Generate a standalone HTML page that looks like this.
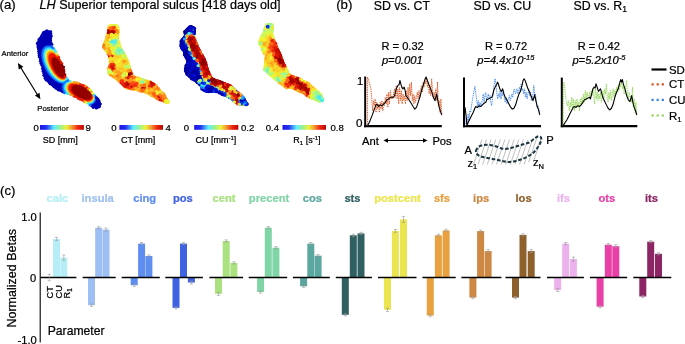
<!DOCTYPE html>
<html><head><meta charset="utf-8"><style>
html,body{margin:0;padding:0;background:#fff;}
svg{display:block;font-family:"Liberation Sans", sans-serif;will-change:transform;}
text{stroke-width:0.22px;}
</style></head><body>
<svg width="685" height="344" viewBox="0 0 685 344">
<rect width="685" height="344" fill="#fff"/>
<text x="-0.4" y="8.9" font-size="13.2" fill="#000" stroke="#000" font-weight="normal" font-style="normal" text-anchor="start" >(a)</text>
<text stroke="#000" x="39.6" y="9.1" font-size="12.6"><tspan font-style="italic">LH</tspan> Superior temporal sulcus [418 days old]</text>
<text x="336.2" y="9.1" font-size="13.2" fill="#000" stroke="#000" font-weight="normal" font-style="normal" text-anchor="start" >(b)</text>
<text x="373.8" y="9.8" font-size="12.35" fill="#000" stroke="#000" font-weight="normal" font-style="normal" text-anchor="start" >SD vs. CT</text>
<text x="473.6" y="9.8" font-size="12.35" fill="#000" stroke="#000" font-weight="normal" font-style="normal" text-anchor="start" >SD vs. CU</text>
<text stroke="#000" x="573.5" y="9.8" font-size="12.35">SD vs. R<tspan font-size="8.5" dy="2.5">1</tspan></text>
<text x="381.5" y="50.2" font-size="11.1" fill="#000" stroke="#000" font-weight="normal" font-style="normal" text-anchor="start" >R = 0.32</text>
<text x="381.9" y="63.7" font-size="11.2" fill="#000" stroke="#000" font-weight="normal" font-style="italic" text-anchor="start" >p=0.001</text>
<text x="484.9" y="50.2" font-size="11.1" fill="#000" stroke="#000" font-weight="normal" font-style="normal" text-anchor="start" >R = 0.72</text>
<text stroke="#000" x="477.2" y="63.7" font-size="11.2" font-style="italic">p=4.4x10<tspan font-size="7.5" dy="-4">-15</tspan></text>
<text x="577.7" y="50.2" font-size="11.1" fill="#000" stroke="#000" font-weight="normal" font-style="normal" text-anchor="start" >R = 0.42</text>
<text stroke="#000" x="572.4" y="63.7" font-size="11.2" font-style="italic">p=5.2x10<tspan font-size="7.5" dy="-4">-5</tspan></text>
<line x1="365.2" y1="76.5" x2="365.2" y2="127.2" stroke="#000" stroke-width="2"/>
<line x1="364.2" y1="126.2" x2="441.8" y2="126.2" stroke="#000" stroke-width="2.2"/>
<text x="356.9" y="84.6" font-size="11.2" fill="#000" stroke="#000" font-weight="normal" font-style="normal" text-anchor="start" >1</text>
<text x="356.0" y="127.4" font-size="11.7" fill="#000" stroke="#000" font-weight="normal" font-style="normal" text-anchor="start" >0</text>
<polyline points="367.58,125.60 367.58,77.06 369.27,82.11 370.96,88.85 371.80,98.97 372.64,110.76 373.48,100.65 374.33,105.71 375.17,98.97 376.01,112.45 376.85,102.34 377.70,109.08 378.54,104.02 379.38,112.45 380.22,102.34 381.07,109.08 381.91,100.65 382.75,110.76 383.60,102.34 384.44,105.71 385.28,97.28 386.12,104.02 386.97,93.91 387.81,107.39 388.65,92.22 389.49,104.02 390.34,90.54 391.18,98.97 392.02,95.60 392.87,98.97 393.71,92.22 394.55,88.85 395.39,97.28 396.24,85.48 397.08,98.97 397.92,88.85 398.76,104.02 399.61,87.17 400.45,100.65 401.29,90.54 402.13,104.02 402.98,93.91 403.82,100.65 404.66,95.60 405.51,104.02 406.35,90.54 407.19,100.65 408.03,87.17 408.88,98.97 409.72,83.80 410.56,95.60 411.40,82.11 412.25,100.65 413.09,93.91 413.93,104.02 414.78,95.60 415.62,102.34 416.46,97.28 417.30,92.22 418.15,98.97 418.99,90.54 419.83,97.28 420.67,88.85 421.52,85.48 422.36,92.22 423.20,82.11 424.04,87.17 424.89,80.43 425.73,83.80 426.57,78.74 427.42,87.17 428.26,82.11 429.10,93.91 429.94,85.48 430.79,95.60 431.63,78.74 432.47,88.85 433.31,97.28 434.16,92.22 435.00,98.97 435.84,88.85 436.69,100.65 437.53,82.11 438.37,105.71 439.21,100.65 440.06,112.45 440.90,98.97 441.74,114.13" fill="none" stroke="#d9541e" stroke-width="1" stroke-dasharray="1 0.8"/>
<polyline points="367.58,125.60 369.27,122.56 370.96,118.35 372.64,114.13 374.33,109.08 376.01,104.87 376.85,104.02 378.54,106.55 380.22,104.87 381.91,105.71 383.60,104.02 385.28,102.34 386.97,99.81 388.65,98.97 390.34,97.28 392.02,97.28 393.71,97.28 394.55,95.60 396.24,88.85 397.92,85.48 399.10,84.64 399.94,80.43 400.79,83.80 401.80,87.17 402.98,88.85 404.16,87.17 405.17,90.54 405.84,95.60 407.19,97.28 408.88,99.81 410.56,102.34 413.09,106.55 414.78,109.08 416.46,107.39 418.15,102.34 419.83,97.28 421.52,90.54 423.20,85.48 424.89,79.58 426.07,77.06 427.08,79.58 428.26,82.96 429.94,87.17 431.63,91.38 433.31,97.28 435.00,100.65 436.69,93.91 437.87,100.65 439.21,107.39 440.56,111.61 441.74,114.98" fill="none" stroke="#000" stroke-width="1.1" stroke-linejoin="round"/>
<line x1="464.0" y1="77.6" x2="464.0" y2="127.2" stroke="#000" stroke-width="2"/>
<line x1="463.0" y1="126.2" x2="541.0" y2="126.2" stroke="#000" stroke-width="2.2"/>
<polyline points="465.58,125.93 466.43,117.51 467.27,122.56 468.11,114.13 468.96,120.88 469.80,110.76 470.64,112.45 471.48,105.71 472.33,100.65 473.17,95.60 474.01,90.54 474.85,86.33 475.70,92.22 476.54,98.97 477.38,105.71 478.22,100.65 479.07,108.24 479.91,102.34 480.75,105.71 481.60,104.02 482.44,98.97 483.28,93.91 484.12,102.34 484.97,95.60 485.81,92.22 486.65,100.65 487.49,97.28 488.34,93.91 489.18,98.97 490.02,95.60 490.87,102.34 491.71,105.71 492.55,97.28 493.39,92.22 494.24,83.80 495.08,78.74 495.92,83.80 496.76,92.22 497.61,98.97 498.45,93.91 499.29,97.28 500.13,90.54 500.98,98.97 501.82,92.22 502.66,95.60 503.51,90.54 504.35,97.28 505.19,102.34 506.03,97.28 506.88,104.02 507.72,100.65 508.56,98.97 509.40,95.60 510.25,100.65 511.09,97.28 511.93,93.91 512.78,97.28 513.62,90.54 514.46,88.85 515.30,93.91 516.15,92.22 516.99,88.85 517.83,93.91 518.67,90.54 519.52,87.17 520.36,92.22 521.20,83.80 522.04,90.54 522.89,88.85 523.73,93.91 524.57,88.85 525.42,97.28 526.26,92.22 527.10,98.97 527.94,93.91 528.79,88.85 529.63,95.60 530.47,92.22 531.31,100.65 532.16,97.28 533.00,93.91 533.84,85.48 534.69,95.60 535.53,93.91 536.37,102.34 537.21,107.39 538.06,105.71 538.90,109.08 539.74,113.29" fill="none" stroke="#3b82e6" stroke-width="1" stroke-dasharray="1 0.8"/>
<polyline points="465.08,107.39 466.09,115.82 466.93,125.60 468.11,122.56 469.80,119.19 471.48,115.82 473.17,112.45 474.85,108.24 475.70,106.55 477.38,107.39 479.07,105.71 480.75,106.55 482.44,104.87 484.12,103.18 485.81,102.34 486.65,99.81 488.34,98.97 490.02,98.12 491.71,97.28 492.55,95.60 493.73,90.54 495.08,87.17 496.43,84.64 497.61,82.11 498.79,85.48 500.13,89.70 501.48,91.38 502.66,88.85 503.84,93.91 505.19,97.28 506.88,99.81 508.56,103.18 510.25,106.55 512.27,109.08 513.96,108.24 515.64,104.87 517.33,98.97 519.01,93.91 520.70,90.54 522.04,85.48 523.06,80.43 524.07,78.74 525.08,80.43 526.26,83.80 527.94,88.85 529.63,92.22 531.31,96.44 533.00,100.65 534.69,94.75 535.87,100.65 537.21,106.55 538.56,109.92 539.74,114.98" fill="none" stroke="#000" stroke-width="1.1" stroke-linejoin="round"/>
<line x1="561.8" y1="77.6" x2="561.8" y2="127.2" stroke="#000" stroke-width="2"/>
<line x1="560.8" y1="126.2" x2="637.3" y2="126.2" stroke="#000" stroke-width="2.2"/>
<polyline points="563.09,125.60 563.76,82.11 564.78,88.85 565.96,98.97 567.13,105.71 568.48,100.65 569.33,110.76 570.17,102.34 571.01,107.39 571.85,97.28 572.70,109.08 573.54,98.97 574.38,110.76 575.22,100.65 576.07,107.39 576.91,98.97 577.75,105.71 578.60,102.34 579.44,110.76 580.28,98.97 581.12,105.71 581.97,97.28 582.81,104.02 583.65,93.91 584.49,102.34 585.34,90.54 586.18,100.65 587.02,92.22 587.87,98.97 588.71,95.60 589.55,92.22 590.39,97.28 591.24,90.54 592.08,95.60 592.92,88.85 593.76,93.91 594.61,104.02 595.45,85.48 596.29,98.97 597.13,92.22 597.98,100.65 598.82,93.91 599.66,98.97 600.51,92.22 601.35,102.34 602.19,97.28 603.03,90.54 603.88,98.97 604.72,88.85 605.56,93.91 606.40,83.80 607.25,97.28 608.09,102.34 608.93,92.22 609.78,98.97 610.62,90.54 611.46,100.65 612.30,93.91 613.15,88.85 613.99,97.28 614.83,90.54 615.67,93.91 616.52,87.17 617.36,92.22 618.20,85.48 619.04,90.54 619.89,83.80 620.73,87.17 621.57,82.11 622.42,88.85 623.26,85.48 624.10,93.91 624.94,90.54 625.79,85.48 626.63,80.43 627.47,93.91 628.31,98.97 629.16,92.22 630.00,97.28 630.84,95.60 631.69,102.34 632.53,87.17 633.37,107.39 634.21,98.97 635.06,112.45 635.90,102.34 636.74,114.13" fill="none" stroke="#8cd44a" stroke-width="1" stroke-dasharray="1 0.8"/>
<polyline points="563.09,125.60 565.11,122.56 566.80,120.03 568.48,116.66 570.17,113.29 571.85,109.92 573.20,107.39 574.38,106.55 576.07,107.39 577.75,105.71 579.44,106.55 581.12,104.87 582.81,102.34 584.49,99.81 586.18,98.97 587.87,98.12 589.55,97.28 590.39,98.97 591.24,95.60 592.92,88.85 594.10,87.17 595.11,88.01 595.96,83.80 597.13,87.17 598.48,91.38 599.66,89.70 600.51,88.85 601.85,93.91 603.03,98.12 604.72,101.49 606.40,104.87 608.09,108.24 609.78,109.92 611.46,108.24 613.15,104.02 614.83,97.28 616.52,92.22 618.20,88.85 619.89,82.11 620.73,79.58 621.57,82.11 622.42,79.58 623.26,83.80 624.94,88.85 626.63,95.60 628.31,99.81 630.00,101.49 631.69,95.60 632.87,102.34 634.21,107.39 635.56,110.76 636.74,114.98" fill="none" stroke="#000" stroke-width="1.1" stroke-linejoin="round"/>
<line x1="651.5" y1="69.5" x2="666.5" y2="69.5" stroke="#000" stroke-width="2.2"/>
<text x="669.0" y="73.5" font-size="11.4" fill="#000" stroke="#000" font-weight="normal" font-style="normal" text-anchor="start" >SD</text>
<line x1="651.5" y1="84.3" x2="664" y2="84.3" stroke="#d9541e" stroke-width="2.2" stroke-dasharray="2.2 2.9"/>
<text x="669.0" y="88.3" font-size="11.4" fill="#000" stroke="#000" font-weight="normal" font-style="normal" text-anchor="start" >CT</text>
<line x1="651.5" y1="99.9" x2="664" y2="99.9" stroke="#3b82e6" stroke-width="2.2" stroke-dasharray="2.2 2.9"/>
<text x="669.0" y="103.9" font-size="11.4" fill="#000" stroke="#000" font-weight="normal" font-style="normal" text-anchor="start" >CU</text>
<line x1="651.5" y1="115.5" x2="664" y2="115.5" stroke="#8cd44a" stroke-width="2.2" stroke-dasharray="2.2 2.9"/>
<text stroke="#000" x="669.0" y="119.5" font-size="11.4">R<tspan font-size="7.6" dy="2.5">1</tspan></text>
<text x="362" y="144.9" font-size="11.2" fill="#000" stroke="#000" font-weight="normal" font-style="normal" text-anchor="start" >Ant</text>
<text x="432.4" y="144.9" font-size="11.2" fill="#000" stroke="#000" font-weight="normal" font-style="normal" text-anchor="start" >Pos</text>
<line x1="386" y1="140.5" x2="425" y2="140.5" stroke="#000" stroke-width="1"/>
<polygon points="383.5,140.5 388,138.3 388,142.7" fill="#000"/>
<polygon points="427.5,140.5 423,138.3 423,142.7" fill="#000"/>
<line x1="473.50" y1="164.5" x2="481.90" y2="139.50" stroke="#8a8a8a" stroke-width="0.55"/>
<line x1="478.10" y1="164.5" x2="486.50" y2="139.50" stroke="#8a8a8a" stroke-width="0.55"/>
<line x1="482.70" y1="164.5" x2="491.10" y2="139.50" stroke="#8a8a8a" stroke-width="0.55"/>
<line x1="487.30" y1="164.5" x2="495.70" y2="139.50" stroke="#8a8a8a" stroke-width="0.55"/>
<line x1="491.90" y1="164.5" x2="500.30" y2="139.50" stroke="#8a8a8a" stroke-width="0.55"/>
<line x1="496.50" y1="164.5" x2="504.90" y2="139.50" stroke="#8a8a8a" stroke-width="0.55"/>
<line x1="501.10" y1="164.5" x2="509.50" y2="139.50" stroke="#8a8a8a" stroke-width="0.55"/>
<line x1="505.70" y1="164.5" x2="514.10" y2="139.50" stroke="#8a8a8a" stroke-width="0.55"/>
<line x1="510.30" y1="164.5" x2="518.70" y2="139.50" stroke="#8a8a8a" stroke-width="0.55"/>
<line x1="514.90" y1="164.5" x2="523.30" y2="139.50" stroke="#8a8a8a" stroke-width="0.55"/>
<line x1="519.50" y1="164.5" x2="527.90" y2="139.50" stroke="#8a8a8a" stroke-width="0.55"/>
<line x1="524.10" y1="164.5" x2="532.50" y2="139.50" stroke="#8a8a8a" stroke-width="0.55"/>
<line x1="528.70" y1="162" x2="537.10" y2="137.00" stroke="#8a8a8a" stroke-width="0.55"/>
<line x1="533.30" y1="162" x2="541.70" y2="137.00" stroke="#8a8a8a" stroke-width="0.55"/>
<path d="M475.90,151.00 C476.00,149.67 477.30,147.98 478.50,147.00 C479.70,146.02 481.23,145.45 483.10,145.10 C484.97,144.75 487.50,144.67 489.70,144.90 C491.90,145.13 494.10,145.85 496.30,146.50 C498.50,147.15 500.72,148.48 502.90,148.80 C505.08,149.12 507.22,148.78 509.40,148.40 C511.58,148.02 513.80,147.15 516.00,146.50 C518.20,145.85 520.42,145.17 522.60,144.50 C524.78,143.83 527.13,143.48 529.10,142.50 C531.07,141.52 532.87,139.65 534.40,138.60 C535.93,137.55 537.20,136.38 538.30,136.20 C539.40,136.02 540.55,136.67 541.00,137.50 C541.45,138.33 541.45,139.70 541.00,141.20 C540.55,142.70 539.40,144.75 538.30,146.50 C537.20,148.25 535.93,150.17 534.40,151.70 C532.87,153.23 531.07,154.50 529.10,155.70 C527.13,156.90 524.78,158.03 522.60,158.90 C520.42,159.77 518.20,160.38 516.00,160.90 C513.80,161.42 511.58,161.95 509.40,162.00 C507.22,162.05 505.08,161.60 502.90,161.20 C500.72,160.80 498.50,160.08 496.30,159.60 C494.10,159.12 491.90,158.73 489.70,158.30 C487.50,157.87 485.07,157.55 483.10,157.00 C481.13,156.45 479.10,156.00 477.90,155.00 C476.70,154.00 475.80,152.33 475.90,151.00 Z" fill="none" stroke="#1b3541" stroke-width="2" stroke-dasharray="3.6 1.8" stroke-linejoin="round"/>
<text x="464.5" y="153.6" font-size="11.2" fill="#000" stroke="#000" font-weight="normal" font-style="normal" text-anchor="start" >A</text>
<text x="546.2" y="144.2" font-size="11.2" fill="#000" stroke="#000" font-weight="normal" font-style="normal" text-anchor="start" >P</text>
<text stroke="#000" x="467.4" y="166.5" font-size="11.2">z<tspan font-size="7.5" dy="2.5">1</tspan></text>
<text stroke="#000" x="533" y="166.2" font-size="11.2">z<tspan font-size="7.5" dy="2.5">N</tspan></text>
<text x="0" y="194.6" font-size="13.2" fill="#000" stroke="#000" font-weight="normal" font-style="normal" text-anchor="start" >(c)</text>
<text x="46.5" y="202.3" font-size="11.2" fill="#b5eef6" stroke="#b5eef6" font-weight="bold" font-style="normal" text-anchor="start" >calc</text>
<rect x="53.00" y="239.00" width="7.0" height="38.50" fill="#b5eef6"/>
<rect x="60.30" y="257.60" width="7.0" height="19.90" fill="#b5eef6"/>
<line x1="40.3" y1="277.5" x2="76.4" y2="277.5" stroke="#000" stroke-width="1.3"/>
<line x1="49.30" y1="274.30" x2="49.30" y2="280.70" stroke="#999" stroke-width="0.6"/>
<line x1="47.70" y1="274.30" x2="50.90" y2="274.30" stroke="#999" stroke-width="0.6"/>
<line x1="47.70" y1="280.70" x2="50.90" y2="280.70" stroke="#999" stroke-width="0.6"/>
<line x1="56.50" y1="237.40" x2="56.50" y2="240.60" stroke="#999" stroke-width="0.6"/>
<line x1="54.90" y1="237.40" x2="58.10" y2="237.40" stroke="#999" stroke-width="0.6"/>
<line x1="54.90" y1="240.60" x2="58.10" y2="240.60" stroke="#999" stroke-width="0.6"/>
<line x1="63.80" y1="255.00" x2="63.80" y2="260.20" stroke="#999" stroke-width="0.6"/>
<line x1="62.20" y1="255.00" x2="65.40" y2="255.00" stroke="#999" stroke-width="0.6"/>
<line x1="62.20" y1="260.20" x2="65.40" y2="260.20" stroke="#999" stroke-width="0.6"/>
<text x="81.5" y="202.3" font-size="11.2" fill="#9ebff3" stroke="#9ebff3" font-weight="bold" font-style="normal" text-anchor="start" >insula</text>
<rect x="88.00" y="277.50" width="7.0" height="27.70" fill="#9ebff3"/>
<rect x="95.20" y="227.70" width="7.0" height="49.80" fill="#9ebff3"/>
<rect x="102.50" y="229.60" width="7.0" height="47.90" fill="#9ebff3"/>
<line x1="82.7" y1="277.5" x2="115.7" y2="277.5" stroke="#000" stroke-width="1.3"/>
<line x1="91.50" y1="304.00" x2="91.50" y2="306.40" stroke="#999" stroke-width="0.6"/>
<line x1="89.90" y1="304.00" x2="93.10" y2="304.00" stroke="#999" stroke-width="0.6"/>
<line x1="89.90" y1="306.40" x2="93.10" y2="306.40" stroke="#999" stroke-width="0.6"/>
<line x1="98.70" y1="226.60" x2="98.70" y2="228.80" stroke="#999" stroke-width="0.6"/>
<line x1="97.10" y1="226.60" x2="100.30" y2="226.60" stroke="#999" stroke-width="0.6"/>
<line x1="97.10" y1="228.80" x2="100.30" y2="228.80" stroke="#999" stroke-width="0.6"/>
<line x1="106.00" y1="228.10" x2="106.00" y2="231.10" stroke="#999" stroke-width="0.6"/>
<line x1="104.40" y1="228.10" x2="107.60" y2="228.10" stroke="#999" stroke-width="0.6"/>
<line x1="104.40" y1="231.10" x2="107.60" y2="231.10" stroke="#999" stroke-width="0.6"/>
<text x="133.2" y="202.3" font-size="11.2" fill="#5f8ef1" stroke="#5f8ef1" font-weight="bold" font-style="normal" text-anchor="start" >cing</text>
<rect x="130.70" y="277.50" width="7.0" height="7.70" fill="#5f8ef1"/>
<rect x="138.10" y="243.60" width="7.0" height="33.90" fill="#5f8ef1"/>
<rect x="145.40" y="256.00" width="7.0" height="21.50" fill="#5f8ef1"/>
<line x1="121.7" y1="277.5" x2="159.8" y2="277.5" stroke="#000" stroke-width="1.3"/>
<line x1="134.20" y1="284.10" x2="134.20" y2="286.30" stroke="#999" stroke-width="0.6"/>
<line x1="132.60" y1="284.10" x2="135.80" y2="284.10" stroke="#999" stroke-width="0.6"/>
<line x1="132.60" y1="286.30" x2="135.80" y2="286.30" stroke="#999" stroke-width="0.6"/>
<line x1="141.60" y1="242.50" x2="141.60" y2="244.70" stroke="#999" stroke-width="0.6"/>
<line x1="140.00" y1="242.50" x2="143.20" y2="242.50" stroke="#999" stroke-width="0.6"/>
<line x1="140.00" y1="244.70" x2="143.20" y2="244.70" stroke="#999" stroke-width="0.6"/>
<line x1="148.90" y1="254.90" x2="148.90" y2="257.10" stroke="#999" stroke-width="0.6"/>
<line x1="147.30" y1="254.90" x2="150.50" y2="254.90" stroke="#999" stroke-width="0.6"/>
<line x1="147.30" y1="257.10" x2="150.50" y2="257.10" stroke="#999" stroke-width="0.6"/>
<text x="172.9" y="202.3" font-size="11.2" fill="#3e62e2" stroke="#3e62e2" font-weight="bold" font-style="normal" text-anchor="start" >pos</text>
<rect x="172.50" y="277.50" width="7.0" height="30.30" fill="#3e62e2"/>
<rect x="180.00" y="243.60" width="7.0" height="33.90" fill="#3e62e2"/>
<rect x="187.90" y="277.50" width="7.0" height="5.00" fill="#3e62e2"/>
<line x1="165.3" y1="277.5" x2="202.9" y2="277.5" stroke="#000" stroke-width="1.3"/>
<line x1="176.00" y1="306.70" x2="176.00" y2="308.90" stroke="#999" stroke-width="0.6"/>
<line x1="174.40" y1="306.70" x2="177.60" y2="306.70" stroke="#999" stroke-width="0.6"/>
<line x1="174.40" y1="308.90" x2="177.60" y2="308.90" stroke="#999" stroke-width="0.6"/>
<line x1="183.50" y1="242.50" x2="183.50" y2="244.70" stroke="#999" stroke-width="0.6"/>
<line x1="181.90" y1="242.50" x2="185.10" y2="242.50" stroke="#999" stroke-width="0.6"/>
<line x1="181.90" y1="244.70" x2="185.10" y2="244.70" stroke="#999" stroke-width="0.6"/>
<line x1="191.40" y1="281.00" x2="191.40" y2="284.00" stroke="#999" stroke-width="0.6"/>
<line x1="189.80" y1="281.00" x2="193.00" y2="281.00" stroke="#999" stroke-width="0.6"/>
<line x1="189.80" y1="284.00" x2="193.00" y2="284.00" stroke="#999" stroke-width="0.6"/>
<text x="212.6" y="202.3" font-size="11.2" fill="#aae27f" stroke="#aae27f" font-weight="bold" font-style="normal" text-anchor="start" >cent</text>
<rect x="215.00" y="277.50" width="7.0" height="16.30" fill="#aae27f"/>
<rect x="222.70" y="241.00" width="7.0" height="36.50" fill="#aae27f"/>
<rect x="230.40" y="262.90" width="7.0" height="14.60" fill="#aae27f"/>
<line x1="209.4" y1="277.5" x2="243.1" y2="277.5" stroke="#000" stroke-width="1.3"/>
<line x1="218.50" y1="292.20" x2="218.50" y2="295.40" stroke="#999" stroke-width="0.6"/>
<line x1="216.90" y1="292.20" x2="220.10" y2="292.20" stroke="#999" stroke-width="0.6"/>
<line x1="216.90" y1="295.40" x2="220.10" y2="295.40" stroke="#999" stroke-width="0.6"/>
<line x1="226.20" y1="239.90" x2="226.20" y2="242.10" stroke="#999" stroke-width="0.6"/>
<line x1="224.60" y1="239.90" x2="227.80" y2="239.90" stroke="#999" stroke-width="0.6"/>
<line x1="224.60" y1="242.10" x2="227.80" y2="242.10" stroke="#999" stroke-width="0.6"/>
<line x1="233.90" y1="261.80" x2="233.90" y2="264.00" stroke="#999" stroke-width="0.6"/>
<line x1="232.30" y1="261.80" x2="235.50" y2="261.80" stroke="#999" stroke-width="0.6"/>
<line x1="232.30" y1="264.00" x2="235.50" y2="264.00" stroke="#999" stroke-width="0.6"/>
<text x="248.8" y="202.3" font-size="11.2" fill="#80d5a6" stroke="#80d5a6" font-weight="bold" font-style="normal" text-anchor="start" >precent</text>
<rect x="257.10" y="277.50" width="7.0" height="14.50" fill="#80d5a6"/>
<rect x="264.80" y="227.70" width="7.0" height="49.80" fill="#80d5a6"/>
<rect x="272.40" y="247.70" width="7.0" height="29.80" fill="#80d5a6"/>
<line x1="248.7" y1="277.5" x2="287.2" y2="277.5" stroke="#000" stroke-width="1.3"/>
<line x1="260.60" y1="290.90" x2="260.60" y2="293.10" stroke="#999" stroke-width="0.6"/>
<line x1="259.00" y1="290.90" x2="262.20" y2="290.90" stroke="#999" stroke-width="0.6"/>
<line x1="259.00" y1="293.10" x2="262.20" y2="293.10" stroke="#999" stroke-width="0.6"/>
<line x1="268.30" y1="226.60" x2="268.30" y2="228.80" stroke="#999" stroke-width="0.6"/>
<line x1="266.70" y1="226.60" x2="269.90" y2="226.60" stroke="#999" stroke-width="0.6"/>
<line x1="266.70" y1="228.80" x2="269.90" y2="228.80" stroke="#999" stroke-width="0.6"/>
<line x1="275.90" y1="246.60" x2="275.90" y2="248.80" stroke="#999" stroke-width="0.6"/>
<line x1="274.30" y1="246.60" x2="277.50" y2="246.60" stroke="#999" stroke-width="0.6"/>
<line x1="274.30" y1="248.80" x2="277.50" y2="248.80" stroke="#999" stroke-width="0.6"/>
<text x="302.8" y="202.3" font-size="11.2" fill="#5ba7a0" stroke="#5ba7a0" font-weight="bold" font-style="normal" text-anchor="start" >cos</text>
<rect x="300.10" y="277.50" width="7.0" height="8.80" fill="#5ba7a0"/>
<rect x="307.30" y="243.60" width="7.0" height="33.90" fill="#5ba7a0"/>
<rect x="314.60" y="255.70" width="7.0" height="21.80" fill="#5ba7a0"/>
<line x1="292.9" y1="277.5" x2="329.8" y2="277.5" stroke="#000" stroke-width="1.3"/>
<line x1="303.60" y1="285.20" x2="303.60" y2="287.40" stroke="#999" stroke-width="0.6"/>
<line x1="302.00" y1="285.20" x2="305.20" y2="285.20" stroke="#999" stroke-width="0.6"/>
<line x1="302.00" y1="287.40" x2="305.20" y2="287.40" stroke="#999" stroke-width="0.6"/>
<line x1="310.80" y1="242.50" x2="310.80" y2="244.70" stroke="#999" stroke-width="0.6"/>
<line x1="309.20" y1="242.50" x2="312.40" y2="242.50" stroke="#999" stroke-width="0.6"/>
<line x1="309.20" y1="244.70" x2="312.40" y2="244.70" stroke="#999" stroke-width="0.6"/>
<line x1="318.10" y1="254.60" x2="318.10" y2="256.80" stroke="#999" stroke-width="0.6"/>
<line x1="316.50" y1="254.60" x2="319.70" y2="254.60" stroke="#999" stroke-width="0.6"/>
<line x1="316.50" y1="256.80" x2="319.70" y2="256.80" stroke="#999" stroke-width="0.6"/>
<text x="344.4" y="202.3" font-size="11.2" fill="#306062" stroke="#306062" font-weight="bold" font-style="normal" text-anchor="start" >sts</text>
<rect x="341.80" y="277.50" width="7.0" height="37.30" fill="#306062"/>
<rect x="349.80" y="235.30" width="7.0" height="42.20" fill="#306062"/>
<rect x="357.50" y="233.40" width="7.0" height="44.10" fill="#306062"/>
<line x1="335.8" y1="277.5" x2="371.9" y2="277.5" stroke="#000" stroke-width="1.3"/>
<line x1="345.30" y1="313.70" x2="345.30" y2="315.90" stroke="#999" stroke-width="0.6"/>
<line x1="343.70" y1="313.70" x2="346.90" y2="313.70" stroke="#999" stroke-width="0.6"/>
<line x1="343.70" y1="315.90" x2="346.90" y2="315.90" stroke="#999" stroke-width="0.6"/>
<line x1="353.30" y1="234.20" x2="353.30" y2="236.40" stroke="#999" stroke-width="0.6"/>
<line x1="351.70" y1="234.20" x2="354.90" y2="234.20" stroke="#999" stroke-width="0.6"/>
<line x1="351.70" y1="236.40" x2="354.90" y2="236.40" stroke="#999" stroke-width="0.6"/>
<line x1="361.00" y1="232.30" x2="361.00" y2="234.50" stroke="#999" stroke-width="0.6"/>
<line x1="359.40" y1="232.30" x2="362.60" y2="232.30" stroke="#999" stroke-width="0.6"/>
<line x1="359.40" y1="234.50" x2="362.60" y2="234.50" stroke="#999" stroke-width="0.6"/>
<text x="374.2" y="202.3" font-size="11.2" fill="#ebe64f" stroke="#ebe64f" font-weight="bold" font-style="normal" text-anchor="start" >postcent</text>
<rect x="384.00" y="277.50" width="7.0" height="32.30" fill="#ebe64f"/>
<rect x="391.90" y="230.90" width="7.0" height="46.60" fill="#ebe64f"/>
<rect x="400.00" y="219.40" width="7.0" height="58.10" fill="#ebe64f"/>
<line x1="378.0" y1="277.5" x2="416.5" y2="277.5" stroke="#000" stroke-width="1.3"/>
<line x1="387.50" y1="308.20" x2="387.50" y2="311.40" stroke="#999" stroke-width="0.6"/>
<line x1="385.90" y1="308.20" x2="389.10" y2="308.20" stroke="#999" stroke-width="0.6"/>
<line x1="385.90" y1="311.40" x2="389.10" y2="311.40" stroke="#999" stroke-width="0.6"/>
<line x1="395.40" y1="229.50" x2="395.40" y2="232.30" stroke="#999" stroke-width="0.6"/>
<line x1="393.80" y1="229.50" x2="397.00" y2="229.50" stroke="#999" stroke-width="0.6"/>
<line x1="393.80" y1="232.30" x2="397.00" y2="232.30" stroke="#999" stroke-width="0.6"/>
<line x1="403.50" y1="216.40" x2="403.50" y2="222.40" stroke="#999" stroke-width="0.6"/>
<line x1="401.90" y1="216.40" x2="405.10" y2="216.40" stroke="#999" stroke-width="0.6"/>
<line x1="401.90" y1="222.40" x2="405.10" y2="222.40" stroke="#999" stroke-width="0.6"/>
<text x="433.9" y="202.3" font-size="11.2" fill="#e9a03f" stroke="#e9a03f" font-weight="bold" font-style="normal" text-anchor="start" >sfs</text>
<rect x="426.80" y="277.50" width="7.0" height="38.10" fill="#e9a03f"/>
<rect x="434.90" y="235.30" width="7.0" height="42.20" fill="#e9a03f"/>
<rect x="442.60" y="230.40" width="7.0" height="47.10" fill="#e9a03f"/>
<line x1="422.4" y1="277.5" x2="455.7" y2="277.5" stroke="#000" stroke-width="1.3"/>
<line x1="430.30" y1="314.50" x2="430.30" y2="316.70" stroke="#999" stroke-width="0.6"/>
<line x1="428.70" y1="314.50" x2="431.90" y2="314.50" stroke="#999" stroke-width="0.6"/>
<line x1="428.70" y1="316.70" x2="431.90" y2="316.70" stroke="#999" stroke-width="0.6"/>
<line x1="438.40" y1="234.20" x2="438.40" y2="236.40" stroke="#999" stroke-width="0.6"/>
<line x1="436.80" y1="234.20" x2="440.00" y2="234.20" stroke="#999" stroke-width="0.6"/>
<line x1="436.80" y1="236.40" x2="440.00" y2="236.40" stroke="#999" stroke-width="0.6"/>
<line x1="446.10" y1="229.30" x2="446.10" y2="231.50" stroke="#999" stroke-width="0.6"/>
<line x1="444.50" y1="229.30" x2="447.70" y2="229.30" stroke="#999" stroke-width="0.6"/>
<line x1="444.50" y1="231.50" x2="447.70" y2="231.50" stroke="#999" stroke-width="0.6"/>
<text x="473.1" y="202.3" font-size="11.2" fill="#cd8843" stroke="#cd8843" font-weight="bold" font-style="normal" text-anchor="start" >ips</text>
<rect x="469.40" y="277.50" width="7.0" height="20.10" fill="#cd8843"/>
<rect x="477.10" y="231.10" width="7.0" height="46.40" fill="#cd8843"/>
<rect x="484.60" y="251.10" width="7.0" height="26.40" fill="#cd8843"/>
<line x1="461.4" y1="277.5" x2="501.4" y2="277.5" stroke="#000" stroke-width="1.3"/>
<line x1="472.90" y1="296.50" x2="472.90" y2="298.70" stroke="#999" stroke-width="0.6"/>
<line x1="471.30" y1="296.50" x2="474.50" y2="296.50" stroke="#999" stroke-width="0.6"/>
<line x1="471.30" y1="298.70" x2="474.50" y2="298.70" stroke="#999" stroke-width="0.6"/>
<line x1="480.60" y1="230.00" x2="480.60" y2="232.20" stroke="#999" stroke-width="0.6"/>
<line x1="479.00" y1="230.00" x2="482.20" y2="230.00" stroke="#999" stroke-width="0.6"/>
<line x1="479.00" y1="232.20" x2="482.20" y2="232.20" stroke="#999" stroke-width="0.6"/>
<line x1="488.10" y1="249.60" x2="488.10" y2="252.60" stroke="#999" stroke-width="0.6"/>
<line x1="486.50" y1="249.60" x2="489.70" y2="249.60" stroke="#999" stroke-width="0.6"/>
<line x1="486.50" y1="252.60" x2="489.70" y2="252.60" stroke="#999" stroke-width="0.6"/>
<text x="515.5" y="202.3" font-size="11.2" fill="#8e602c" stroke="#8e602c" font-weight="bold" font-style="normal" text-anchor="start" >los</text>
<rect x="512.00" y="277.50" width="7.0" height="20.10" fill="#8e602c"/>
<rect x="519.50" y="234.90" width="7.0" height="42.60" fill="#8e602c"/>
<rect x="527.70" y="251.10" width="7.0" height="26.40" fill="#8e602c"/>
<line x1="505.5" y1="277.5" x2="540.5" y2="277.5" stroke="#000" stroke-width="1.3"/>
<line x1="515.50" y1="296.50" x2="515.50" y2="298.70" stroke="#999" stroke-width="0.6"/>
<line x1="513.90" y1="296.50" x2="517.10" y2="296.50" stroke="#999" stroke-width="0.6"/>
<line x1="513.90" y1="298.70" x2="517.10" y2="298.70" stroke="#999" stroke-width="0.6"/>
<line x1="523.00" y1="233.80" x2="523.00" y2="236.00" stroke="#999" stroke-width="0.6"/>
<line x1="521.40" y1="233.80" x2="524.60" y2="233.80" stroke="#999" stroke-width="0.6"/>
<line x1="521.40" y1="236.00" x2="524.60" y2="236.00" stroke="#999" stroke-width="0.6"/>
<line x1="531.20" y1="249.60" x2="531.20" y2="252.60" stroke="#999" stroke-width="0.6"/>
<line x1="529.60" y1="249.60" x2="532.80" y2="249.60" stroke="#999" stroke-width="0.6"/>
<line x1="529.60" y1="252.60" x2="532.80" y2="252.60" stroke="#999" stroke-width="0.6"/>
<text x="557.0" y="202.3" font-size="11.2" fill="#ebb2ed" stroke="#ebb2ed" font-weight="bold" font-style="normal" text-anchor="start" >ifs</text>
<rect x="554.20" y="277.50" width="7.0" height="12.60" fill="#ebb2ed"/>
<rect x="562.20" y="243.60" width="7.0" height="33.90" fill="#ebb2ed"/>
<rect x="569.90" y="259.10" width="7.0" height="18.40" fill="#ebb2ed"/>
<line x1="547.0" y1="277.5" x2="583.9" y2="277.5" stroke="#000" stroke-width="1.3"/>
<line x1="557.70" y1="288.70" x2="557.70" y2="291.50" stroke="#999" stroke-width="0.6"/>
<line x1="556.10" y1="288.70" x2="559.30" y2="288.70" stroke="#999" stroke-width="0.6"/>
<line x1="556.10" y1="291.50" x2="559.30" y2="291.50" stroke="#999" stroke-width="0.6"/>
<line x1="565.70" y1="242.50" x2="565.70" y2="244.70" stroke="#999" stroke-width="0.6"/>
<line x1="564.10" y1="242.50" x2="567.30" y2="242.50" stroke="#999" stroke-width="0.6"/>
<line x1="564.10" y1="244.70" x2="567.30" y2="244.70" stroke="#999" stroke-width="0.6"/>
<line x1="573.40" y1="257.10" x2="573.40" y2="261.10" stroke="#999" stroke-width="0.6"/>
<line x1="571.80" y1="257.10" x2="575.00" y2="257.10" stroke="#999" stroke-width="0.6"/>
<line x1="571.80" y1="261.10" x2="575.00" y2="261.10" stroke="#999" stroke-width="0.6"/>
<text x="598.5" y="202.3" font-size="11.2" fill="#e840a6" stroke="#e840a6" font-weight="bold" font-style="normal" text-anchor="start" >ots</text>
<rect x="596.60" y="277.50" width="7.0" height="29.20" fill="#e840a6"/>
<rect x="604.80" y="244.70" width="7.0" height="32.80" fill="#e840a6"/>
<rect x="612.30" y="246.20" width="7.0" height="31.30" fill="#e840a6"/>
<line x1="589.9" y1="277.5" x2="627.2" y2="277.5" stroke="#000" stroke-width="1.3"/>
<line x1="600.10" y1="305.60" x2="600.10" y2="307.80" stroke="#999" stroke-width="0.6"/>
<line x1="598.50" y1="305.60" x2="601.70" y2="305.60" stroke="#999" stroke-width="0.6"/>
<line x1="598.50" y1="307.80" x2="601.70" y2="307.80" stroke="#999" stroke-width="0.6"/>
<line x1="608.30" y1="243.60" x2="608.30" y2="245.80" stroke="#999" stroke-width="0.6"/>
<line x1="606.70" y1="243.60" x2="609.90" y2="243.60" stroke="#999" stroke-width="0.6"/>
<line x1="606.70" y1="245.80" x2="609.90" y2="245.80" stroke="#999" stroke-width="0.6"/>
<line x1="615.80" y1="244.70" x2="615.80" y2="247.70" stroke="#999" stroke-width="0.6"/>
<line x1="614.20" y1="244.70" x2="617.40" y2="244.70" stroke="#999" stroke-width="0.6"/>
<line x1="614.20" y1="247.70" x2="617.40" y2="247.70" stroke="#999" stroke-width="0.6"/>
<text x="645.0" y="202.3" font-size="11.2" fill="#8c2564" stroke="#8c2564" font-weight="bold" font-style="normal" text-anchor="start" >its</text>
<rect x="639.30" y="277.50" width="7.0" height="19.00" fill="#8c2564"/>
<rect x="647.20" y="241.70" width="7.0" height="35.80" fill="#8c2564"/>
<rect x="655.00" y="253.80" width="7.0" height="23.70" fill="#8c2564"/>
<line x1="633.3" y1="277.5" x2="671.3" y2="277.5" stroke="#000" stroke-width="1.3"/>
<line x1="642.80" y1="295.40" x2="642.80" y2="297.60" stroke="#999" stroke-width="0.6"/>
<line x1="641.20" y1="295.40" x2="644.40" y2="295.40" stroke="#999" stroke-width="0.6"/>
<line x1="641.20" y1="297.60" x2="644.40" y2="297.60" stroke="#999" stroke-width="0.6"/>
<line x1="650.70" y1="240.60" x2="650.70" y2="242.80" stroke="#999" stroke-width="0.6"/>
<line x1="649.10" y1="240.60" x2="652.30" y2="240.60" stroke="#999" stroke-width="0.6"/>
<line x1="649.10" y1="242.80" x2="652.30" y2="242.80" stroke="#999" stroke-width="0.6"/>
<line x1="658.50" y1="252.70" x2="658.50" y2="254.90" stroke="#999" stroke-width="0.6"/>
<line x1="656.90" y1="252.70" x2="660.10" y2="252.70" stroke="#999" stroke-width="0.6"/>
<line x1="656.90" y1="254.90" x2="660.10" y2="254.90" stroke="#999" stroke-width="0.6"/>
<line x1="40.2" y1="212.6" x2="40.2" y2="342.5" stroke="#000" stroke-width="1.1"/>
<text x="36.8" y="221" font-size="11.2" fill="#000" stroke="#000" font-weight="normal" font-style="normal" text-anchor="end" >1.0</text>
<text x="36.2" y="281.6" font-size="11.2" fill="#000" stroke="#000" font-weight="normal" font-style="normal" text-anchor="end" >0</text>
<text x="36.8" y="343.7" font-size="11.2" fill="#000" stroke="#000" font-weight="normal" font-style="normal" text-anchor="end" >-1.0</text>
<text stroke="#000" transform="translate(15.6,278.2) rotate(-90)" text-anchor="middle" font-size="12.5">Normalized Betas</text>
<text x="47.7" y="334.9" font-size="12.2" fill="#000" stroke="#000" font-weight="normal" font-style="normal" text-anchor="start" >Parameter</text>
<text stroke="#000" transform="translate(53.3,298.4) rotate(-90)" font-size="9.2">CT</text>
<text stroke="#000" transform="translate(62.3,298.4) rotate(-90)" font-size="9.2">CU</text>
<text stroke="#000" transform="translate(70.4,298.4) rotate(-90)" font-size="9.2">R<tspan font-size="6.3" dy="1.8">1</tspan></text>
<defs>
<filter id="bl1" x="-50%" y="-50%" width="200%" height="200%"><feGaussianBlur stdDeviation="1.0"/></filter>
<filter id="bl2" x="-50%" y="-50%" width="200%" height="200%"><feGaussianBlur stdDeviation="1.8"/></filter>
<filter id="bl05" x="-50%" y="-50%" width="200%" height="200%"><feGaussianBlur stdDeviation="0.5"/></filter>
<clipPath id="clipSD"><path d="M43.30,31.80 C44.40,30.90 45.98,30.33 47.30,30.30 C48.62,30.27 50.42,30.70 51.20,31.60 C51.98,32.50 52.00,34.15 52.00,35.70 C52.00,37.25 51.12,39.15 51.20,40.90 C51.28,42.65 51.63,44.45 52.50,46.20 C53.37,47.95 55.10,49.22 56.40,51.40 C57.70,53.58 59.08,56.68 60.30,59.30 C61.52,61.92 62.92,64.48 63.70,67.10 C64.48,69.72 64.25,72.82 65.00,75.00 C65.75,77.18 66.58,79.08 68.20,80.20 C69.82,81.32 72.30,81.02 74.70,81.70 C77.10,82.38 80.20,83.23 82.60,84.30 C85.00,85.37 87.35,86.60 89.10,88.10 C90.85,89.60 91.57,91.57 93.10,93.30 C94.63,95.03 97.00,96.75 98.30,98.50 C99.60,100.25 100.68,102.27 100.90,103.80 C101.12,105.33 100.42,106.95 99.60,107.70 C98.78,108.45 97.08,108.30 96.00,108.30 C94.92,108.30 94.47,108.45 93.10,107.70 C91.73,106.95 89.98,105.12 87.80,103.80 C85.62,102.48 82.62,101.12 80.00,99.80 C77.38,98.48 74.72,96.98 72.10,95.90 C69.48,94.82 66.92,94.38 64.30,93.30 C61.68,92.22 58.58,90.72 56.40,89.40 C54.22,88.08 52.95,86.93 51.20,85.40 C49.45,83.87 47.22,81.93 45.90,80.20 C44.58,78.47 43.95,77.18 43.30,75.00 C42.65,72.82 42.65,69.72 42.00,67.10 C41.35,64.48 40.05,61.92 39.40,59.30 C38.75,56.68 38.53,53.80 38.10,51.40 C37.67,49.00 36.80,46.87 36.80,44.90 C36.80,42.93 37.45,41.13 38.10,39.60 C38.75,38.07 39.83,37.00 40.70,35.70 C41.57,34.40 42.20,32.70 43.30,31.80 Z"/></clipPath>
<clipPath id="clipCT"><path d="M108.10,25.80 C108.93,24.52 110.48,24.48 112.00,24.30 C113.52,24.12 116.00,24.10 117.20,24.70 C118.40,25.30 118.87,26.50 119.20,27.90 C119.53,29.30 119.23,31.08 119.20,33.10 C119.17,35.12 118.70,37.85 119.00,40.00 C119.30,42.15 120.33,44.33 121.00,46.00 C121.67,47.67 122.17,48.50 123.00,50.00 C123.83,51.50 125.13,53.33 126.00,55.00 C126.87,56.67 127.53,58.33 128.20,60.00 C128.87,61.67 129.48,63.33 130.00,65.00 C130.52,66.67 130.73,68.33 131.30,70.00 C131.87,71.67 132.62,73.92 133.40,75.00 C134.18,76.08 134.82,76.02 136.00,76.50 C137.18,76.98 138.88,77.42 140.50,77.90 C142.12,78.38 143.97,78.88 145.70,79.40 C147.43,79.92 149.33,80.30 150.90,81.00 C152.47,81.70 153.87,82.63 155.10,83.60 C156.33,84.57 157.25,85.58 158.30,86.80 C159.35,88.02 160.35,89.87 161.40,90.90 C162.45,91.93 163.73,91.95 164.60,93.00 C165.47,94.05 165.82,95.80 166.60,97.20 C167.38,98.60 168.98,100.30 169.30,101.40 C169.62,102.50 168.95,103.40 168.50,103.80 C168.05,104.20 167.78,104.20 166.60,103.80 C165.42,103.40 163.13,102.15 161.40,101.40 C159.67,100.65 157.95,100.17 156.20,99.30 C154.45,98.43 152.65,97.15 150.90,96.20 C149.15,95.25 147.43,94.30 145.70,93.60 C143.97,92.90 142.25,92.53 140.50,92.00 C138.75,91.47 136.95,90.75 135.20,90.40 C133.45,90.05 131.70,90.22 130.00,89.90 C128.30,89.58 126.47,89.40 125.00,88.50 C123.53,87.60 122.45,85.75 121.20,84.50 C119.95,83.25 118.78,82.05 117.50,81.00 C116.22,79.95 114.75,79.03 113.50,78.20 C112.25,77.37 110.95,76.87 110.00,76.00 C109.05,75.13 108.22,74.33 107.80,73.00 C107.38,71.67 107.33,69.33 107.50,68.00 C107.67,66.67 108.55,66.33 108.80,65.00 C109.05,63.67 109.17,61.58 109.00,60.00 C108.83,58.42 108.47,57.00 107.80,55.50 C107.13,54.00 105.93,52.42 105.00,51.00 C104.07,49.58 102.53,48.17 102.20,47.00 C101.87,45.83 102.62,45.08 103.00,44.00 C103.38,42.92 104.00,41.83 104.50,40.50 C105.00,39.17 105.58,37.42 106.00,36.00 C106.42,34.58 106.65,33.70 107.00,32.00 C107.35,30.30 107.27,27.08 108.10,25.80 Z"/></clipPath>
<clipPath id="clipCU"><path d="M188.60,26.20 C189.53,25.58 190.13,25.60 191.00,25.60 C191.87,25.60 193.07,25.83 193.80,26.20 C194.53,26.57 195.05,27.10 195.40,27.80 C195.75,28.50 195.90,29.45 195.90,30.40 C195.90,31.35 195.58,32.45 195.40,33.50 C195.22,34.55 194.63,35.65 194.80,36.70 C194.97,37.75 195.87,38.58 196.40,39.80 C196.93,41.02 197.48,42.60 198.00,44.00 C198.52,45.40 198.90,46.82 199.50,48.20 C200.10,49.58 200.77,50.83 201.60,52.30 C202.43,53.77 203.65,55.30 204.50,57.00 C205.35,58.70 206.07,60.72 206.70,62.50 C207.33,64.28 207.78,66.13 208.30,67.70 C208.82,69.27 209.28,70.50 209.80,71.90 C210.32,73.30 210.65,74.98 211.40,76.10 C212.15,77.22 212.88,77.90 214.30,78.60 C215.72,79.30 218.05,79.65 219.90,80.30 C221.75,80.95 223.57,81.77 225.40,82.50 C227.23,83.23 229.43,83.87 230.90,84.70 C232.37,85.53 233.10,86.48 234.20,87.50 C235.30,88.52 236.22,89.70 237.50,90.80 C238.78,91.90 240.60,92.82 241.90,94.10 C243.20,95.38 244.28,96.85 245.30,98.50 C246.32,100.15 247.82,102.80 248.00,104.00 C248.18,105.20 247.42,105.42 246.40,105.70 C245.38,105.98 243.38,105.80 241.90,105.70 C240.42,105.60 238.97,105.75 237.50,105.10 C236.03,104.45 234.57,102.90 233.10,101.80 C231.63,100.70 229.98,99.33 228.70,98.50 C227.42,97.67 226.68,97.35 225.40,96.80 C224.12,96.25 222.10,95.75 221.00,95.20 C219.90,94.65 219.92,93.97 218.80,93.50 C217.68,93.03 215.97,92.48 214.30,92.40 C212.63,92.32 210.45,93.08 208.80,93.00 C207.15,92.92 205.68,92.45 204.40,91.90 C203.12,91.35 201.85,90.60 201.10,89.70 C200.35,88.80 200.63,87.55 199.90,86.50 C199.17,85.45 197.75,84.27 196.70,83.40 C195.65,82.53 194.63,82.00 193.60,81.30 C192.57,80.60 191.72,80.25 190.50,79.20 C189.28,78.15 187.35,76.40 186.30,75.00 C185.25,73.60 184.47,72.37 184.20,70.80 C183.93,69.23 184.35,66.98 184.70,65.60 C185.05,64.22 186.22,63.72 186.30,62.50 C186.38,61.28 185.73,59.53 185.20,58.30 C184.67,57.07 183.45,56.15 183.10,55.10 C182.75,54.05 183.50,52.98 183.10,52.00 C182.70,51.02 181.27,50.18 180.70,49.20 C180.13,48.22 179.78,47.50 179.70,46.10 C179.62,44.70 179.77,42.20 180.20,40.80 C180.63,39.40 181.60,38.73 182.30,37.70 C183.00,36.67 184.15,35.65 184.40,34.60 C184.65,33.55 183.63,32.28 183.80,31.40 C183.97,30.52 184.60,30.17 185.40,29.30 C186.20,28.43 187.67,26.82 188.60,26.20 Z"/></clipPath>
<clipPath id="clipR1"><path d="M266.00,24.00 C266.67,23.53 268.03,23.30 269.00,23.20 C269.97,23.10 271.03,23.10 271.80,23.40 C272.57,23.70 273.27,24.23 273.60,25.00 C273.93,25.77 273.87,26.95 273.80,28.00 C273.73,29.05 273.33,30.37 273.20,31.30 C273.07,32.23 272.85,32.63 273.00,33.60 C273.15,34.57 273.63,35.73 274.10,37.10 C274.57,38.47 275.22,40.25 275.80,41.80 C276.38,43.35 276.92,44.85 277.60,46.40 C278.28,47.95 279.12,49.42 279.90,51.10 C280.68,52.78 281.50,54.50 282.30,56.50 C283.10,58.50 283.90,61.22 284.70,63.10 C285.50,64.98 286.42,66.25 287.10,67.80 C287.78,69.35 288.03,71.23 288.80,72.40 C289.57,73.57 290.43,74.12 291.70,74.80 C292.97,75.48 295.00,75.95 296.40,76.50 C297.80,77.05 298.70,77.43 300.10,78.10 C301.50,78.77 303.25,79.72 304.80,80.50 C306.35,81.28 308.05,81.83 309.40,82.80 C310.75,83.77 311.73,85.23 312.90,86.30 C314.07,87.37 315.23,88.23 316.40,89.20 C317.57,90.17 318.93,91.03 319.90,92.10 C320.87,93.17 321.52,94.25 322.20,95.60 C322.88,96.95 324.00,99.13 324.00,100.20 C324.00,101.27 323.27,101.70 322.20,102.00 C321.13,102.30 319.15,102.38 317.60,102.00 C316.05,101.62 314.27,100.28 312.90,99.70 C311.53,99.12 310.75,99.28 309.40,98.50 C308.05,97.72 306.35,95.97 304.80,95.00 C303.25,94.03 301.65,93.38 300.10,92.70 C298.55,92.02 297.05,91.58 295.50,90.90 C293.95,90.22 292.40,88.97 290.80,88.60 C289.20,88.23 287.48,89.27 285.90,88.70 C284.32,88.13 282.65,86.17 281.30,85.20 C279.95,84.23 278.97,83.87 277.80,82.90 C276.63,81.93 275.67,80.57 274.30,79.40 C272.93,78.23 270.97,77.07 269.60,75.90 C268.23,74.73 267.07,73.37 266.10,72.40 C265.13,71.43 264.18,71.07 263.80,70.10 C263.42,69.13 263.70,68.33 263.80,66.60 C263.90,64.87 264.20,61.55 264.40,59.70 C264.60,57.85 265.13,56.35 265.00,55.50 C264.87,54.65 264.12,55.33 263.60,54.60 C263.08,53.87 262.38,52.27 261.90,51.10 C261.42,49.93 261.18,48.57 260.70,47.60 C260.22,46.63 259.38,46.18 259.00,45.30 C258.62,44.42 258.30,43.47 258.40,42.30 C258.50,41.13 259.13,39.55 259.60,38.30 C260.07,37.05 260.63,35.77 261.20,34.80 C261.77,33.83 262.60,33.47 263.00,32.50 C263.40,31.53 263.27,30.08 263.60,29.00 C263.93,27.92 264.60,26.83 265.00,26.00 C265.40,25.17 265.33,24.47 266.00,24.00 Z"/></clipPath>
</defs>
<path d="M43.30,31.80 C44.40,30.90 45.98,30.33 47.30,30.30 C48.62,30.27 50.42,30.70 51.20,31.60 C51.98,32.50 52.00,34.15 52.00,35.70 C52.00,37.25 51.12,39.15 51.20,40.90 C51.28,42.65 51.63,44.45 52.50,46.20 C53.37,47.95 55.10,49.22 56.40,51.40 C57.70,53.58 59.08,56.68 60.30,59.30 C61.52,61.92 62.92,64.48 63.70,67.10 C64.48,69.72 64.25,72.82 65.00,75.00 C65.75,77.18 66.58,79.08 68.20,80.20 C69.82,81.32 72.30,81.02 74.70,81.70 C77.10,82.38 80.20,83.23 82.60,84.30 C85.00,85.37 87.35,86.60 89.10,88.10 C90.85,89.60 91.57,91.57 93.10,93.30 C94.63,95.03 97.00,96.75 98.30,98.50 C99.60,100.25 100.68,102.27 100.90,103.80 C101.12,105.33 100.42,106.95 99.60,107.70 C98.78,108.45 97.08,108.30 96.00,108.30 C94.92,108.30 94.47,108.45 93.10,107.70 C91.73,106.95 89.98,105.12 87.80,103.80 C85.62,102.48 82.62,101.12 80.00,99.80 C77.38,98.48 74.72,96.98 72.10,95.90 C69.48,94.82 66.92,94.38 64.30,93.30 C61.68,92.22 58.58,90.72 56.40,89.40 C54.22,88.08 52.95,86.93 51.20,85.40 C49.45,83.87 47.22,81.93 45.90,80.20 C44.58,78.47 43.95,77.18 43.30,75.00 C42.65,72.82 42.65,69.72 42.00,67.10 C41.35,64.48 40.05,61.92 39.40,59.30 C38.75,56.68 38.53,53.80 38.10,51.40 C37.67,49.00 36.80,46.87 36.80,44.90 C36.80,42.93 37.45,41.13 38.10,39.60 C38.75,38.07 39.83,37.00 40.70,35.70 C41.57,34.40 42.20,32.70 43.30,31.80 Z" fill="#0000b4"/>
<g clip-path="url(#clipSD)">
<ellipse cx="55.2" cy="64.5" rx="11.0" ry="21" transform="rotate(-29 55.2 64.5)" fill="#1070ff" filter="url(#bl05)" opacity="1"/>
<ellipse cx="55.7" cy="64.8" rx="9.4" ry="19.2" transform="rotate(-29 55.7 64.8)" fill="#40e8ff" filter="url(#bl05)" opacity="1"/>
<ellipse cx="56.2" cy="65.2" rx="7.9" ry="17.4" transform="rotate(-29 56.2 65.2)" fill="#e8ff40" filter="url(#bl05)" opacity="1"/>
<ellipse cx="56.7" cy="65.5" rx="7.1" ry="16.2" transform="rotate(-29 56.7 65.5)" fill="#ff9a10" filter="url(#bl05)" opacity="1"/>
<ellipse cx="57.3" cy="66.1" rx="6.3" ry="14.6" transform="rotate(-29 57.3 66.1)" fill="#f01800" filter="url(#bl05)" opacity="1"/>
<ellipse cx="58.5" cy="67.6" rx="5.0" ry="11.5" transform="rotate(-29 58.5 67.6)" fill="#930000" filter="url(#bl05)" opacity="1"/>
<ellipse cx="79" cy="92.6" rx="18.5" ry="11.3" transform="rotate(30 79 92.6)" fill="#1070ff" filter="url(#bl05)" opacity="1"/>
<ellipse cx="79.5" cy="92.5" rx="17" ry="10" transform="rotate(30 79.5 92.5)" fill="#40e8ff" filter="url(#bl05)" opacity="1"/>
<ellipse cx="80" cy="92.4" rx="15.4" ry="8.8" transform="rotate(30 80 92.4)" fill="#e8ff40" filter="url(#bl05)" opacity="1"/>
<ellipse cx="80.2" cy="92.3" rx="14.6" ry="8.2" transform="rotate(30 80.2 92.3)" fill="#ff9a10" filter="url(#bl05)" opacity="1"/>
<ellipse cx="80.6" cy="92.2" rx="13.5" ry="7.3" transform="rotate(30 80.6 92.2)" fill="#f01800" filter="url(#bl05)" opacity="1"/>
<ellipse cx="81.6" cy="92.2" rx="11.3" ry="6.0" transform="rotate(30 81.6 92.2)" fill="#930000" filter="url(#bl05)" opacity="1"/>
</g>
<circle cx="43.7" cy="32.4" r="1.53" fill="#0000b4"/>
<circle cx="45.8" cy="31.7" r="1.60" fill="#0000b4"/>
<circle cx="46.9" cy="30.8" r="1.62" fill="#0000b4"/>
<circle cx="49.2" cy="31.7" r="1.12" fill="#0000b4"/>
<circle cx="50.8" cy="31.7" r="1.38" fill="#0000b4"/>
<circle cx="51.2" cy="33.4" r="1.18" fill="#0000b4"/>
<circle cx="51.3" cy="36.0" r="1.51" fill="#0000b4"/>
<circle cx="51.0" cy="37.7" r="1.13" fill="#0000b4"/>
<circle cx="51.1" cy="38.9" r="1.05" fill="#0000b4"/>
<circle cx="51.0" cy="40.7" r="1.18" fill="#0000b4"/>
<circle cx="51.5" cy="43.1" r="1.22" fill="#0000b4"/>
<circle cx="52.0" cy="44.6" r="1.46" fill="#0000b4"/>
<circle cx="51.8" cy="46.8" r="1.46" fill="#1070ff"/>
<circle cx="53.7" cy="48.5" r="1.23" fill="#1070ff"/>
<circle cx="54.6" cy="49.6" r="1.14" fill="#40e8ff"/>
<circle cx="55.6" cy="51.5" r="1.41" fill="#40e8ff"/>
<circle cx="56.5" cy="53.8" r="1.25" fill="#e8ff40"/>
<circle cx="57.8" cy="55.8" r="1.34" fill="#ff9a10"/>
<circle cx="58.7" cy="57.5" r="1.47" fill="#f01800"/>
<circle cx="59.5" cy="59.9" r="1.06" fill="#f01800"/>
<circle cx="60.9" cy="61.7" r="1.06" fill="#f01800"/>
<circle cx="61.8" cy="63.3" r="1.40" fill="#f01800"/>
<circle cx="62.0" cy="64.9" r="1.16" fill="#930000"/>
<circle cx="63.6" cy="67.0" r="1.50" fill="#930000"/>
<circle cx="63.9" cy="69.6" r="1.26" fill="#930000"/>
<circle cx="63.8" cy="71.2" r="1.52" fill="#930000"/>
<circle cx="63.9" cy="73.4" r="1.53" fill="#930000"/>
<circle cx="64.8" cy="74.8" r="1.62" fill="#930000"/>
<circle cx="65.3" cy="76.9" r="1.42" fill="#f01800"/>
<circle cx="67.1" cy="78.7" r="1.60" fill="#40e8ff"/>
<circle cx="68.0" cy="80.5" r="1.24" fill="#1070ff"/>
<circle cx="69.9" cy="80.8" r="1.14" fill="#40e8ff"/>
<circle cx="72.5" cy="82.1" r="1.15" fill="#e8ff40"/>
<circle cx="74.2" cy="82.6" r="1.37" fill="#ff9a10"/>
<circle cx="76.4" cy="82.6" r="1.41" fill="#ff9a10"/>
<circle cx="78.7" cy="83.4" r="1.30" fill="#ff9a10"/>
<circle cx="80.1" cy="84.4" r="1.07" fill="#f01800"/>
<circle cx="82.4" cy="85.0" r="1.13" fill="#f01800"/>
<circle cx="84.2" cy="86.0" r="1.43" fill="#f01800"/>
<circle cx="85.8" cy="86.3" r="1.31" fill="#ff9a10"/>
<circle cx="86.9" cy="87.8" r="1.23" fill="#f01800"/>
<circle cx="88.7" cy="88.9" r="1.56" fill="#ff9a10"/>
<circle cx="90.5" cy="90.2" r="1.34" fill="#e8ff40"/>
<circle cx="91.6" cy="91.9" r="1.22" fill="#ff9a10"/>
<circle cx="92.6" cy="93.3" r="1.28" fill="#e8ff40"/>
<circle cx="94.4" cy="95.3" r="1.43" fill="#40e8ff"/>
<circle cx="95.3" cy="96.1" r="1.10" fill="#1070ff"/>
<circle cx="96.4" cy="97.7" r="1.57" fill="#0000b4"/>
<circle cx="97.8" cy="99.0" r="1.51" fill="#0000b4"/>
<circle cx="98.9" cy="100.6" r="1.51" fill="#0000b4"/>
<circle cx="99.5" cy="102.3" r="1.22" fill="#0000b4"/>
<circle cx="100.4" cy="104.1" r="1.46" fill="#0000b4"/>
<circle cx="99.7" cy="106.0" r="1.44" fill="#0000b4"/>
<circle cx="99.3" cy="106.9" r="1.38" fill="#0000b4"/>
<circle cx="97.4" cy="107.7" r="1.33" fill="#0000b4"/>
<circle cx="96.3" cy="107.9" r="1.53" fill="#0000b4"/>
<circle cx="93.2" cy="107.4" r="1.49" fill="#0000b4"/>
<circle cx="91.8" cy="105.8" r="1.56" fill="#0000b4"/>
<circle cx="90.1" cy="104.8" r="1.64" fill="#1070ff"/>
<circle cx="88.4" cy="103.4" r="1.37" fill="#40e8ff"/>
<circle cx="85.8" cy="102.6" r="1.61" fill="#e8ff40"/>
<circle cx="84.1" cy="101.5" r="1.48" fill="#ff9a10"/>
<circle cx="82.4" cy="100.1" r="1.52" fill="#f01800"/>
<circle cx="80.3" cy="99.5" r="1.30" fill="#f01800"/>
<circle cx="78.3" cy="98.6" r="1.43" fill="#f01800"/>
<circle cx="76.4" cy="97.0" r="1.15" fill="#f01800"/>
<circle cx="74.2" cy="96.5" r="1.18" fill="#f01800"/>
<circle cx="72.4" cy="95.5" r="1.08" fill="#ff9a10"/>
<circle cx="70.3" cy="94.6" r="1.08" fill="#ff9a10"/>
<circle cx="68.1" cy="94.0" r="1.16" fill="#40e8ff"/>
<circle cx="66.2" cy="93.1" r="1.33" fill="#40e8ff"/>
<circle cx="64.4" cy="92.9" r="1.40" fill="#1070ff"/>
<circle cx="62.3" cy="92.2" r="1.05" fill="#0000b4"/>
<circle cx="60.5" cy="90.7" r="1.30" fill="#0000b4"/>
<circle cx="58.3" cy="90.2" r="1.27" fill="#0000b4"/>
<circle cx="56.3" cy="89.1" r="1.11" fill="#0000b4"/>
<circle cx="55.0" cy="87.5" r="1.40" fill="#0000b4"/>
<circle cx="53.6" cy="86.6" r="1.30" fill="#0000b4"/>
<circle cx="51.8" cy="85.1" r="1.27" fill="#0000b4"/>
<circle cx="49.9" cy="83.8" r="1.39" fill="#0000b4"/>
<circle cx="49.3" cy="82.8" r="1.42" fill="#0000b4"/>
<circle cx="47.5" cy="81.5" r="1.05" fill="#0000b4"/>
<circle cx="46.0" cy="80.0" r="1.42" fill="#0000b4"/>
<circle cx="45.2" cy="78.3" r="1.58" fill="#0000b4"/>
<circle cx="44.5" cy="76.5" r="1.19" fill="#0000b4"/>
<circle cx="43.6" cy="75.2" r="1.28" fill="#0000b4"/>
<circle cx="43.8" cy="73.2" r="1.41" fill="#0000b4"/>
<circle cx="42.9" cy="71.3" r="1.35" fill="#0000b4"/>
<circle cx="42.7" cy="68.8" r="1.64" fill="#0000b4"/>
<circle cx="42.5" cy="66.8" r="1.34" fill="#0000b4"/>
<circle cx="41.5" cy="65.1" r="1.32" fill="#0000b4"/>
<circle cx="41.0" cy="63.3" r="1.55" fill="#0000b4"/>
<circle cx="40.1" cy="61.2" r="1.21" fill="#0000b4"/>
<circle cx="40.2" cy="59.4" r="1.20" fill="#0000b4"/>
<circle cx="39.4" cy="56.9" r="1.64" fill="#0000b4"/>
<circle cx="39.1" cy="55.3" r="1.33" fill="#0000b4"/>
<circle cx="39.0" cy="53.4" r="1.50" fill="#0000b4"/>
<circle cx="38.3" cy="51.5" r="1.23" fill="#0000b4"/>
<circle cx="38.2" cy="49.0" r="1.23" fill="#0000b4"/>
<circle cx="37.8" cy="47.0" r="1.27" fill="#0000b4"/>
<circle cx="37.5" cy="45.0" r="1.07" fill="#0000b4"/>
<circle cx="37.5" cy="43.2" r="1.60" fill="#0000b4"/>
<circle cx="38.5" cy="41.5" r="1.06" fill="#0000b4"/>
<circle cx="38.8" cy="39.7" r="1.40" fill="#0000b4"/>
<circle cx="40.0" cy="38.0" r="1.34" fill="#0000b4"/>
<circle cx="41.4" cy="35.9" r="1.29" fill="#0000b4"/>
<circle cx="42.6" cy="33.8" r="1.23" fill="#0000b4"/>
<defs><linearGradient id="jet" x1="0" x2="1" y1="0" y2="0"><stop offset="0" stop-color="#1c14e8"/><stop offset="0.14" stop-color="#2430f0"/><stop offset="0.32" stop-color="#5eeeff"/><stop offset="0.45" stop-color="#92f29c"/><stop offset="0.6" stop-color="#eef23a"/><stop offset="0.72" stop-color="#f4a032"/><stop offset="0.86" stop-color="#f02812"/><stop offset="1" stop-color="#b80806"/></linearGradient></defs>
<rect x="40" y="125" width="43.90" height="4.8" fill="url(#jet)"/>
<rect x="119.4" y="125" width="43.60" height="4.8" fill="url(#jet)"/>
<rect x="194.2" y="125" width="44.10" height="4.8" fill="url(#jet)"/>
<rect x="282.5" y="125" width="43.50" height="4.8" fill="url(#jet)"/>
<text x="38.8" y="131.1" font-size="9.6" fill="#000" stroke="#000" font-weight="normal" font-style="normal" text-anchor="end" >0</text>
<text x="85.5" y="131.1" font-size="9.6" fill="#000" stroke="#000" font-weight="normal" font-style="normal" text-anchor="start" >9</text>
<text x="116.7" y="131.1" font-size="9.6" fill="#000" stroke="#000" font-weight="normal" font-style="normal" text-anchor="end" >0</text>
<text x="165.4" y="131.1" font-size="9.6" fill="#000" stroke="#000" font-weight="normal" font-style="normal" text-anchor="start" >4</text>
<text x="189.0" y="131.1" font-size="9.6" fill="#000" stroke="#000" font-weight="normal" font-style="normal" text-anchor="end" >0</text>
<text x="241.0" y="131.1" font-size="9.6" fill="#000" stroke="#000" font-weight="normal" font-style="normal" text-anchor="start" >0.2</text>
<text x="279.0" y="131.1" font-size="9.6" fill="#000" stroke="#000" font-weight="normal" font-style="normal" text-anchor="end" >0.4</text>
<text x="330.5" y="131.1" font-size="9.6" fill="#000" stroke="#000" font-weight="normal" font-style="normal" text-anchor="start" >0.8</text>
<text x="42.8" y="143" font-size="9" fill="#000" stroke="#000" font-weight="normal" font-style="normal" text-anchor="start" >SD [mm]</text>
<text x="121" y="143" font-size="9" fill="#000" stroke="#000" font-weight="normal" font-style="normal" text-anchor="start" >CT [mm]</text>
<text stroke="#000" x="195.5" y="143" font-size="9">CU [mm<tspan font-size="6" dy="-3.5">-1</tspan><tspan dy="3.5">]</tspan></text>
<text stroke="#000" x="293.3" y="143" font-size="9">R<tspan font-size="6" dy="1.8">1</tspan><tspan dy="-1.8"> [s</tspan><tspan font-size="6" dy="-3.5">-1</tspan><tspan dy="3.5">]</tspan></text>
<text x="1.6" y="56.2" font-size="7.6" fill="#000" stroke="#000" font-weight="normal" font-style="normal" text-anchor="start" >Anterior</text>
<text x="37.3" y="110.7" font-size="7.8" fill="#000" stroke="#000" font-weight="normal" font-style="normal" text-anchor="start" >Posterior</text>
<line x1="20" y1="66.4" x2="38.2" y2="96" stroke="#000" stroke-width="1.1"/>
<polygon points="40.40,99.30 34.94,95.62 39.53,92.78" fill="#000"/>
<polygon points="17.90,63.00 23.36,66.68 18.77,69.52" fill="#000"/>
<path d="M108.10,25.80 C108.93,24.52 110.48,24.48 112.00,24.30 C113.52,24.12 116.00,24.10 117.20,24.70 C118.40,25.30 118.87,26.50 119.20,27.90 C119.53,29.30 119.23,31.08 119.20,33.10 C119.17,35.12 118.70,37.85 119.00,40.00 C119.30,42.15 120.33,44.33 121.00,46.00 C121.67,47.67 122.17,48.50 123.00,50.00 C123.83,51.50 125.13,53.33 126.00,55.00 C126.87,56.67 127.53,58.33 128.20,60.00 C128.87,61.67 129.48,63.33 130.00,65.00 C130.52,66.67 130.73,68.33 131.30,70.00 C131.87,71.67 132.62,73.92 133.40,75.00 C134.18,76.08 134.82,76.02 136.00,76.50 C137.18,76.98 138.88,77.42 140.50,77.90 C142.12,78.38 143.97,78.88 145.70,79.40 C147.43,79.92 149.33,80.30 150.90,81.00 C152.47,81.70 153.87,82.63 155.10,83.60 C156.33,84.57 157.25,85.58 158.30,86.80 C159.35,88.02 160.35,89.87 161.40,90.90 C162.45,91.93 163.73,91.95 164.60,93.00 C165.47,94.05 165.82,95.80 166.60,97.20 C167.38,98.60 168.98,100.30 169.30,101.40 C169.62,102.50 168.95,103.40 168.50,103.80 C168.05,104.20 167.78,104.20 166.60,103.80 C165.42,103.40 163.13,102.15 161.40,101.40 C159.67,100.65 157.95,100.17 156.20,99.30 C154.45,98.43 152.65,97.15 150.90,96.20 C149.15,95.25 147.43,94.30 145.70,93.60 C143.97,92.90 142.25,92.53 140.50,92.00 C138.75,91.47 136.95,90.75 135.20,90.40 C133.45,90.05 131.70,90.22 130.00,89.90 C128.30,89.58 126.47,89.40 125.00,88.50 C123.53,87.60 122.45,85.75 121.20,84.50 C119.95,83.25 118.78,82.05 117.50,81.00 C116.22,79.95 114.75,79.03 113.50,78.20 C112.25,77.37 110.95,76.87 110.00,76.00 C109.05,75.13 108.22,74.33 107.80,73.00 C107.38,71.67 107.33,69.33 107.50,68.00 C107.67,66.67 108.55,66.33 108.80,65.00 C109.05,63.67 109.17,61.58 109.00,60.00 C108.83,58.42 108.47,57.00 107.80,55.50 C107.13,54.00 105.93,52.42 105.00,51.00 C104.07,49.58 102.53,48.17 102.20,47.00 C101.87,45.83 102.62,45.08 103.00,44.00 C103.38,42.92 104.00,41.83 104.50,40.50 C105.00,39.17 105.58,37.42 106.00,36.00 C106.42,34.58 106.65,33.70 107.00,32.00 C107.35,30.30 107.27,27.08 108.10,25.80 Z" fill="#f8d028"/>
<g>
<circle cx="109.1" cy="26.4" r="1.38" fill="#fbbf25"/>
<circle cx="110.5" cy="25.6" r="1.20" fill="#f5dd2b"/>
<circle cx="112.4" cy="25.1" r="1.23" fill="#f3ea2d"/>
<circle cx="114.2" cy="25.4" r="1.49" fill="#f0f830"/>
<circle cx="116.5" cy="25.4" r="1.14" fill="#eef832"/>
<circle cx="117.8" cy="28.2" r="1.18" fill="#e7f83a"/>
<circle cx="117.9" cy="30.7" r="1.13" fill="#fa4d14"/>
<circle cx="118.2" cy="33.2" r="1.63" fill="#f2ec2e"/>
<circle cx="118.0" cy="34.9" r="1.27" fill="#f7d329"/>
<circle cx="117.8" cy="36.6" r="1.45" fill="#f1f02e"/>
<circle cx="118.1" cy="38.2" r="1.08" fill="#edf833"/>
<circle cx="118.1" cy="40.2" r="1.19" fill="#e7f83b"/>
<circle cx="119.0" cy="42.3" r="1.52" fill="#f5dd2b"/>
<circle cx="119.3" cy="44.5" r="1.35" fill="#e9f838"/>
<circle cx="119.8" cy="46.3" r="1.53" fill="#c7f85f"/>
<circle cx="121.0" cy="48.7" r="1.16" fill="#83f5b0"/>
<circle cx="122.2" cy="50.3" r="1.09" fill="#9ff88f"/>
<circle cx="123.4" cy="52.6" r="1.41" fill="#98f897"/>
<circle cx="124.0" cy="54.2" r="1.33" fill="#a6f886"/>
<circle cx="125.1" cy="55.4" r="1.44" fill="#b0f87b"/>
<circle cx="125.4" cy="56.8" r="1.30" fill="#d8f84d"/>
<circle cx="126.5" cy="58.9" r="1.58" fill="#e8f83a"/>
<circle cx="127.3" cy="60.6" r="1.64" fill="#f6d82a"/>
<circle cx="127.7" cy="62.2" r="1.46" fill="#f3e62c"/>
<circle cx="128.4" cy="63.8" r="1.38" fill="#f7d128"/>
<circle cx="129.0" cy="65.5" r="1.45" fill="#eef832"/>
<circle cx="129.4" cy="66.7" r="1.20" fill="#c3f864"/>
<circle cx="130.0" cy="68.8" r="1.41" fill="#fdb222"/>
<circle cx="130.2" cy="70.7" r="1.31" fill="#fd8b1c"/>
<circle cx="131.0" cy="71.9" r="1.47" fill="#d91a07"/>
<circle cx="131.8" cy="73.8" r="1.58" fill="#fa5114"/>
<circle cx="132.2" cy="76.0" r="1.32" fill="#9e0300"/>
<circle cx="133.8" cy="76.8" r="1.31" fill="#fead21"/>
<circle cx="135.3" cy="77.5" r="1.51" fill="#fbbd24"/>
<circle cx="138.3" cy="77.9" r="1.54" fill="#f5dc2a"/>
<circle cx="140.5" cy="78.6" r="1.32" fill="#def845"/>
<circle cx="142.3" cy="79.8" r="1.32" fill="#9bf893"/>
<circle cx="143.6" cy="80.1" r="1.55" fill="#9ef88f"/>
<circle cx="145.4" cy="80.2" r="1.30" fill="#cdf859"/>
<circle cx="147.0" cy="80.9" r="1.27" fill="#fbbd24"/>
<circle cx="149.1" cy="81.2" r="1.06" fill="#fac325"/>
<circle cx="150.5" cy="82.0" r="1.62" fill="#fa4e14"/>
<circle cx="152.5" cy="83.5" r="1.13" fill="#8a0000"/>
<circle cx="154.5" cy="84.3" r="1.52" fill="#fb5c16"/>
<circle cx="156.3" cy="86.1" r="1.22" fill="#fc7c1a"/>
<circle cx="157.3" cy="87.6" r="1.09" fill="#fe961e"/>
<circle cx="158.8" cy="88.5" r="1.23" fill="#fd7f1a"/>
<circle cx="159.7" cy="90.3" r="1.54" fill="#f9c927"/>
<circle cx="160.5" cy="91.4" r="1.55" fill="#f5dc2a"/>
<circle cx="162.0" cy="92.6" r="1.11" fill="#fe9d1f"/>
<circle cx="163.7" cy="93.8" r="1.28" fill="#fbbe24"/>
<circle cx="164.5" cy="95.8" r="1.22" fill="#fc7b1a"/>
<circle cx="165.6" cy="98.0" r="1.45" fill="#ffa520"/>
<circle cx="167.2" cy="99.5" r="1.09" fill="#fac426"/>
<circle cx="168.6" cy="101.7" r="1.40" fill="#c3f865"/>
<circle cx="167.6" cy="102.8" r="1.30" fill="#e1f842"/>
<circle cx="167.1" cy="102.7" r="1.61" fill="#edf834"/>
<circle cx="165.4" cy="101.8" r="1.57" fill="#f2ef2e"/>
<circle cx="163.8" cy="101.0" r="1.16" fill="#fe951d"/>
<circle cx="162.1" cy="100.3" r="1.41" fill="#d61806"/>
<circle cx="160.0" cy="99.8" r="1.62" fill="#f83210"/>
<circle cx="158.4" cy="99.0" r="1.62" fill="#f94813"/>
<circle cx="156.7" cy="98.7" r="1.33" fill="#fe8f1d"/>
<circle cx="155.1" cy="97.0" r="1.43" fill="#fc6f18"/>
<circle cx="153.6" cy="95.9" r="1.56" fill="#ffa01f"/>
<circle cx="151.1" cy="95.5" r="1.33" fill="#fac025"/>
<circle cx="149.5" cy="94.0" r="1.33" fill="#f8cd27"/>
<circle cx="147.6" cy="93.5" r="1.14" fill="#fac125"/>
<circle cx="146.4" cy="92.2" r="1.20" fill="#f7d128"/>
<circle cx="144.1" cy="91.6" r="1.37" fill="#fe951d"/>
<circle cx="142.2" cy="91.3" r="1.49" fill="#fdb222"/>
<circle cx="140.8" cy="91.3" r="1.42" fill="#fc7319"/>
<circle cx="139.1" cy="90.7" r="1.45" fill="#feab21"/>
<circle cx="137.3" cy="90.2" r="1.26" fill="#ffa01f"/>
<circle cx="135.6" cy="89.1" r="1.56" fill="#fcba24"/>
<circle cx="133.6" cy="89.1" r="1.46" fill="#fb5c16"/>
<circle cx="131.6" cy="89.3" r="1.16" fill="#fd831b"/>
<circle cx="130.2" cy="88.6" r="1.28" fill="#fb6317"/>
<circle cx="127.9" cy="88.4" r="1.28" fill="#fdb523"/>
<circle cx="125.4" cy="87.6" r="1.15" fill="#fc7219"/>
<circle cx="124.0" cy="86.1" r="1.29" fill="#f22c0e"/>
<circle cx="122.9" cy="85.0" r="1.26" fill="#ec280d"/>
<circle cx="122.1" cy="83.5" r="1.48" fill="#f83711"/>
<circle cx="120.9" cy="82.6" r="1.58" fill="#d51706"/>
<circle cx="119.7" cy="81.7" r="1.47" fill="#fb5c16"/>
<circle cx="118.1" cy="80.5" r="1.61" fill="#f9c927"/>
<circle cx="116.1" cy="78.7" r="1.30" fill="#fbc025"/>
<circle cx="113.9" cy="77.0" r="1.27" fill="#fcba24"/>
<circle cx="112.5" cy="75.9" r="1.25" fill="#ffaa20"/>
<circle cx="110.4" cy="74.9" r="1.50" fill="#f9c626"/>
<circle cx="109.8" cy="73.7" r="1.09" fill="#b2f878"/>
<circle cx="108.7" cy="72.9" r="1.56" fill="#c0f868"/>
<circle cx="108.7" cy="70.1" r="1.43" fill="#f7d329"/>
<circle cx="108.7" cy="68.5" r="1.19" fill="#fc791a"/>
<circle cx="109.3" cy="66.6" r="1.42" fill="#ffa31f"/>
<circle cx="109.9" cy="65.4" r="1.32" fill="#f93f12"/>
<circle cx="110.2" cy="63.7" r="1.21" fill="#f7d128"/>
<circle cx="109.8" cy="61.9" r="1.26" fill="#fe9e1f"/>
<circle cx="109.8" cy="59.6" r="1.20" fill="#d1f854"/>
<circle cx="109.7" cy="58.0" r="1.61" fill="#f6d729"/>
<circle cx="109.3" cy="56.5" r="1.10" fill="#f83711"/>
<circle cx="109.2" cy="55.0" r="1.35" fill="#d61806"/>
<circle cx="108.1" cy="53.9" r="1.46" fill="#fb6417"/>
<circle cx="106.8" cy="52.2" r="1.08" fill="#f7d028"/>
<circle cx="105.9" cy="50.3" r="1.16" fill="#f2ee2e"/>
<circle cx="104.3" cy="48.7" r="1.22" fill="#f9c626"/>
<circle cx="103.6" cy="46.8" r="1.12" fill="#f32c0e"/>
<circle cx="103.9" cy="44.4" r="1.50" fill="#fbbe24"/>
<circle cx="104.7" cy="42.5" r="1.15" fill="#fac426"/>
<circle cx="105.7" cy="40.5" r="1.10" fill="#f9c927"/>
<circle cx="106.3" cy="38.6" r="1.13" fill="#f8cb27"/>
<circle cx="106.8" cy="36.5" r="1.52" fill="#fe9d1f"/>
<circle cx="107.4" cy="34.2" r="1.35" fill="#f5de2b"/>
<circle cx="107.9" cy="32.3" r="1.07" fill="#b60700"/>
<circle cx="108.3" cy="30.4" r="1.54" fill="#fa5114"/>
<circle cx="108.6" cy="28.6" r="1.11" fill="#fcb723"/>
<g clip-path="url(#clipCT)">
<circle cx="133.6" cy="79.1" r="1.67" fill="#fcba24"/>
<circle cx="129.6" cy="76.0" r="1.48" fill="#a40400"/>
<circle cx="128.5" cy="73.7" r="1.92" fill="#ae0500"/>
<circle cx="113.8" cy="61.7" r="1.72" fill="#f4e12b"/>
<circle cx="146.6" cy="90.2" r="1.82" fill="#f2ec2e"/>
<circle cx="142.0" cy="91.7" r="1.53" fill="#ffa21f"/>
<circle cx="108.9" cy="71.4" r="1.77" fill="#a1f88c"/>
<circle cx="164.5" cy="94.7" r="1.47" fill="#fc6d18"/>
<circle cx="105.1" cy="46.8" r="1.59" fill="#f93a11"/>
<circle cx="121.3" cy="83.0" r="1.69" fill="#d01405"/>
<circle cx="109.7" cy="67.0" r="1.59" fill="#f62f10"/>
<circle cx="113.6" cy="62.5" r="1.59" fill="#f6d729"/>
<circle cx="139.5" cy="82.9" r="1.65" fill="#fead21"/>
<circle cx="106.6" cy="41.0" r="1.46" fill="#f5de2b"/>
<circle cx="107.9" cy="28.1" r="1.94" fill="#fbbd24"/>
<circle cx="132.4" cy="74.9" r="1.92" fill="#fdb222"/>
<circle cx="124.8" cy="53.3" r="1.72" fill="#dcf847"/>
<circle cx="132.3" cy="84.9" r="1.67" fill="#e6230b"/>
<circle cx="159.0" cy="90.5" r="1.76" fill="#f3e82d"/>
<circle cx="111.6" cy="39.8" r="1.62" fill="#aaf882"/>
<circle cx="115.0" cy="70.3" r="1.78" fill="#f22c0e"/>
<circle cx="126.9" cy="84.7" r="1.66" fill="#a20400"/>
<circle cx="147.8" cy="80.8" r="1.71" fill="#ffa820"/>
<circle cx="142.5" cy="81.4" r="1.81" fill="#a5f888"/>
<circle cx="126.1" cy="87.8" r="1.53" fill="#f9c927"/>
<circle cx="147.5" cy="90.5" r="1.76" fill="#f7d429"/>
<circle cx="108.6" cy="73.6" r="1.82" fill="#def845"/>
<circle cx="120.6" cy="54.0" r="1.64" fill="#6af0cd"/>
<circle cx="139.3" cy="88.1" r="1.65" fill="#f8cf28"/>
<circle cx="154.0" cy="90.4" r="1.68" fill="#feb022"/>
<circle cx="117.9" cy="43.2" r="1.58" fill="#c8f85e"/>
<circle cx="117.9" cy="45.5" r="1.88" fill="#e5f83d"/>
<circle cx="144.1" cy="81.2" r="1.70" fill="#a9f883"/>
<circle cx="147.5" cy="84.0" r="1.78" fill="#fac025"/>
<circle cx="110.4" cy="32.3" r="1.92" fill="#be0800"/>
<circle cx="162.0" cy="100.8" r="1.71" fill="#f62f0f"/>
<circle cx="114.3" cy="48.6" r="1.66" fill="#f2ef2e"/>
<circle cx="114.1" cy="35.4" r="1.85" fill="#f5df2b"/>
<circle cx="117.1" cy="73.9" r="1.71" fill="#fe971e"/>
<circle cx="135.1" cy="84.8" r="1.87" fill="#ee290d"/>
<circle cx="112.6" cy="71.7" r="1.78" fill="#f8cb27"/>
<circle cx="135.4" cy="82.7" r="1.54" fill="#e3210a"/>
<circle cx="153.9" cy="86.5" r="1.70" fill="#fbbd24"/>
<circle cx="108.5" cy="46.2" r="1.58" fill="#f6d92a"/>
<circle cx="118.8" cy="51.8" r="1.54" fill="#6bf1cc"/>
<circle cx="164.6" cy="102.9" r="1.77" fill="#f9c626"/>
<circle cx="120.6" cy="75.3" r="1.78" fill="#ffa720"/>
<circle cx="125.0" cy="77.0" r="1.66" fill="#fac426"/>
<circle cx="120.5" cy="49.1" r="1.68" fill="#95f89b"/>
<circle cx="119.1" cy="81.1" r="1.68" fill="#fdb122"/>
<circle cx="153.4" cy="88.4" r="1.83" fill="#fbbd24"/>
<circle cx="132.3" cy="81.3" r="1.48" fill="#fdb122"/>
<circle cx="115.7" cy="44.6" r="1.82" fill="#abf881"/>
<circle cx="115.3" cy="75.0" r="1.50" fill="#f6d82a"/>
<circle cx="117.2" cy="55.4" r="1.82" fill="#f4e12b"/>
<circle cx="162.3" cy="95.0" r="1.76" fill="#fe951d"/>
<circle cx="128.4" cy="68.4" r="1.77" fill="#ffa820"/>
<circle cx="115.3" cy="39.8" r="1.82" fill="#85f6ae"/>
<circle cx="157.1" cy="86.1" r="1.50" fill="#fd8b1c"/>
<circle cx="146.3" cy="86.8" r="1.88" fill="#fbbd24"/>
<circle cx="151.2" cy="88.1" r="1.77" fill="#fb5c16"/>
<circle cx="113.3" cy="46.9" r="1.87" fill="#f3e92d"/>
<circle cx="123.3" cy="59.1" r="1.87" fill="#f5db2a"/>
<circle cx="147.6" cy="93.8" r="1.83" fill="#f5dd2b"/>
<circle cx="109.8" cy="36.2" r="1.45" fill="#fcba24"/>
<circle cx="116.9" cy="25.2" r="1.93" fill="#f2eb2d"/>
<circle cx="123.2" cy="69.6" r="1.46" fill="#fdb523"/>
<circle cx="109.7" cy="46.6" r="1.83" fill="#f9c726"/>
<circle cx="146.2" cy="83.3" r="1.58" fill="#fe9f1f"/>
<circle cx="119.6" cy="45.0" r="1.94" fill="#f3e82d"/>
<circle cx="117.1" cy="51.5" r="1.91" fill="#70f2c6"/>
<circle cx="126.7" cy="59.0" r="1.82" fill="#f1f22f"/>
<circle cx="155.0" cy="84.5" r="1.78" fill="#fb6918"/>
<circle cx="128.8" cy="82.3" r="1.70" fill="#ffa920"/>
<circle cx="111.7" cy="57.4" r="1.94" fill="#f93e12"/>
<circle cx="139.3" cy="78.8" r="1.77" fill="#f3ea2d"/>
<circle cx="110.4" cy="65.3" r="1.85" fill="#fb6717"/>
<circle cx="156.7" cy="95.8" r="1.58" fill="#ffa920"/>
<circle cx="144.5" cy="93.0" r="1.90" fill="#fdb322"/>
<circle cx="131.3" cy="86.0" r="1.46" fill="#d61806"/>
<circle cx="135.2" cy="90.1" r="1.75" fill="#f4e32c"/>
<circle cx="123.0" cy="79.6" r="1.73" fill="#f6d92a"/>
<circle cx="119.7" cy="75.5" r="1.81" fill="#ffa41f"/>
<circle cx="113.4" cy="55.8" r="1.79" fill="#fd811b"/>
<circle cx="124.9" cy="86.2" r="1.67" fill="#e4220a"/>
<circle cx="147.9" cy="86.6" r="1.63" fill="#f94613"/>
<circle cx="106.9" cy="48.1" r="1.82" fill="#f0f730"/>
<circle cx="114.0" cy="68.9" r="1.47" fill="#e3210a"/>
<circle cx="128.3" cy="69.6" r="1.85" fill="#fe921d"/>
<circle cx="107.9" cy="53.8" r="1.85" fill="#ffa920"/>
<circle cx="125.0" cy="76.1" r="1.48" fill="#bff869"/>
<circle cx="156.6" cy="88.4" r="1.60" fill="#fc781a"/>
<circle cx="114.0" cy="67.0" r="1.87" fill="#b90700"/>
<circle cx="167.6" cy="98.8" r="1.68" fill="#f9c626"/>
<circle cx="115.1" cy="50.1" r="1.47" fill="#cef857"/>
<circle cx="146.7" cy="93.3" r="1.75" fill="#f8cf28"/>
<circle cx="121.5" cy="47.3" r="1.72" fill="#e6f83c"/>
<circle cx="166.4" cy="98.4" r="1.71" fill="#fdb422"/>
<circle cx="116.9" cy="77.3" r="1.60" fill="#feaf21"/>
<circle cx="124.7" cy="65.0" r="1.69" fill="#f4e32c"/>
<circle cx="160.2" cy="89.8" r="1.63" fill="#fcb723"/>
<circle cx="142.2" cy="86.2" r="1.59" fill="#df1e09"/>
<circle cx="108.3" cy="43.1" r="1.75" fill="#f2eb2d"/>
<circle cx="155.3" cy="87.8" r="1.55" fill="#fd841b"/>
<circle cx="110.5" cy="27.4" r="1.75" fill="#fe951e"/>
<circle cx="108.9" cy="59.2" r="1.72" fill="#c5f862"/>
<circle cx="151.2" cy="95.5" r="1.91" fill="#fe981e"/>
<circle cx="115.4" cy="27.1" r="1.63" fill="#f4e12b"/>
<circle cx="130.0" cy="80.4" r="1.58" fill="#fead21"/>
<circle cx="109.8" cy="30.1" r="1.54" fill="#f02a0e"/>
<circle cx="115.6" cy="46.4" r="1.49" fill="#ccf85a"/>
<circle cx="119.0" cy="69.7" r="1.91" fill="#f9c826"/>
<circle cx="138.5" cy="84.9" r="1.86" fill="#fd821b"/>
<circle cx="129.5" cy="67.8" r="1.61" fill="#ecf835"/>
<circle cx="119.1" cy="35.9" r="1.47" fill="#f6d92a"/>
<circle cx="151.8" cy="93.5" r="1.60" fill="#fc7419"/>
<circle cx="140.9" cy="84.6" r="1.45" fill="#ffa720"/>
<circle cx="168.1" cy="102.9" r="1.84" fill="#f0f630"/>
<circle cx="115.8" cy="77.3" r="1.68" fill="#fcb723"/>
<circle cx="140.3" cy="91.2" r="1.69" fill="#fe951d"/>
<circle cx="111.9" cy="43.3" r="1.78" fill="#7af4ba"/>
<circle cx="111.6" cy="45.4" r="1.62" fill="#cdf859"/>
<circle cx="108.9" cy="68.6" r="1.79" fill="#fd851b"/>
<circle cx="131.5" cy="87.8" r="1.49" fill="#cd1204"/>
<circle cx="104.9" cy="45.1" r="1.85" fill="#fb5e16"/>
<circle cx="158.6" cy="94.0" r="1.72" fill="#dcf848"/>
<circle cx="159.2" cy="99.4" r="1.49" fill="#f83310"/>
<circle cx="155.5" cy="97.2" r="1.84" fill="#fdb322"/>
<circle cx="120.6" cy="63.1" r="1.77" fill="#f7d228"/>
<circle cx="120.6" cy="61.7" r="1.52" fill="#f8cf28"/>
<circle cx="112.0" cy="30.8" r="1.49" fill="#c70d02"/>
<circle cx="114.2" cy="30.7" r="1.93" fill="#ea260c"/>
<circle cx="120.7" cy="74.2" r="1.47" fill="#fe971e"/>
<circle cx="138.7" cy="81.3" r="1.50" fill="#f8cf28"/>
<circle cx="115.9" cy="32.7" r="1.92" fill="#fd7e1a"/>
<circle cx="118.9" cy="48.7" r="1.74" fill="#9af894"/>
<circle cx="147.8" cy="87.7" r="1.65" fill="#fe911d"/>
<circle cx="130.3" cy="70.2" r="1.80" fill="#fd801b"/>
<circle cx="128.7" cy="79.2" r="1.63" fill="#fac426"/>
<circle cx="118.8" cy="64.6" r="1.48" fill="#f3ea2d"/>
<circle cx="117.6" cy="59.7" r="1.66" fill="#d5f850"/>
<circle cx="120.7" cy="55.4" r="1.76" fill="#f5df2b"/>
<circle cx="122.7" cy="63.3" r="1.55" fill="#fbbb24"/>
<circle cx="121.6" cy="77.0" r="1.71" fill="#fcb923"/>
<circle cx="119.8" cy="72.1" r="1.48" fill="#fe931d"/>
<circle cx="122.8" cy="60.8" r="1.72" fill="#fdb022"/>
<circle cx="115.9" cy="60.9" r="1.55" fill="#eff831"/>
<circle cx="140.3" cy="88.1" r="1.80" fill="#fe951d"/>
<circle cx="144.5" cy="82.7" r="1.47" fill="#e6f83b"/>
<circle cx="134.8" cy="79.5" r="1.53" fill="#f6da2a"/>
<circle cx="142.5" cy="88.1" r="1.59" fill="#b70700"/>
<circle cx="116.1" cy="67.8" r="1.91" fill="#f94513"/>
<circle cx="114.3" cy="75.0" r="1.56" fill="#fbbd24"/>
<circle cx="122.6" cy="66.4" r="1.68" fill="#f8d028"/>
<circle cx="153.0" cy="91.2" r="1.94" fill="#fe981e"/>
<circle cx="110.2" cy="69.8" r="1.72" fill="#f7d429"/>
<circle cx="112.0" cy="46.6" r="1.77" fill="#f2ed2e"/>
<circle cx="137.2" cy="77.1" r="1.75" fill="#fe9a1e"/>
<circle cx="158.6" cy="95.3" r="1.57" fill="#f94813"/>
<circle cx="140.5" cy="83.1" r="1.89" fill="#f5dc2a"/>
<circle cx="110.4" cy="55.9" r="1.86" fill="#e4220a"/>
<circle cx="106.4" cy="35.3" r="1.60" fill="#f3e52c"/>
<circle cx="120.6" cy="57.0" r="1.75" fill="#f2ef2e"/>
<circle cx="157.1" cy="93.5" r="1.73" fill="#f5dd2b"/>
<circle cx="161.9" cy="94.0" r="1.56" fill="#f9c927"/>
<circle cx="122.3" cy="68.1" r="1.47" fill="#fbbd24"/>
<circle cx="151.2" cy="86.3" r="1.74" fill="#d81907"/>
<circle cx="119.6" cy="57.1" r="1.93" fill="#f9ca27"/>
<circle cx="115.3" cy="65.3" r="1.52" fill="#f94713"/>
<circle cx="105.2" cy="42.7" r="1.45" fill="#f3e62c"/>
<circle cx="146.3" cy="92.1" r="1.64" fill="#f5dc2a"/>
<circle cx="119.0" cy="62.8" r="1.48" fill="#fbbc24"/>
<circle cx="137.4" cy="88.0" r="1.57" fill="#ffa520"/>
<circle cx="106.7" cy="42.8" r="1.69" fill="#f3e82d"/>
<circle cx="113.5" cy="42.7" r="1.56" fill="#67f0d1"/>
<circle cx="129.5" cy="64.7" r="1.70" fill="#eff832"/>
<circle cx="107.9" cy="50.8" r="1.85" fill="#fd7f1b"/>
<circle cx="162.6" cy="96.6" r="1.84" fill="#fb5e16"/>
<circle cx="117.5" cy="50.3" r="1.62" fill="#74f2c1"/>
<circle cx="133.6" cy="81.0" r="1.53" fill="#fbbf25"/>
<circle cx="127.7" cy="80.8" r="1.66" fill="#fd7e1a"/>
<circle cx="132.1" cy="83.2" r="1.57" fill="#fc6c18"/>
<circle cx="112.3" cy="69.6" r="1.70" fill="#e7240b"/>
<circle cx="126.4" cy="80.3" r="1.91" fill="#fdb022"/>
<circle cx="147.8" cy="91.2" r="1.82" fill="#f5e02b"/>
<circle cx="155.2" cy="91.3" r="1.80" fill="#fac125"/>
<circle cx="110.5" cy="37.4" r="1.91" fill="#f4e22c"/>
<circle cx="128.0" cy="63.1" r="1.73" fill="#f7d529"/>
<circle cx="120.8" cy="59.0" r="1.72" fill="#f2f02e"/>
<circle cx="112.5" cy="60.7" r="1.54" fill="#ffa820"/>
<circle cx="111.9" cy="36.4" r="1.70" fill="#f0f730"/>
<circle cx="113.6" cy="70.5" r="1.77" fill="#f93911"/>
<circle cx="157.4" cy="98.6" r="1.45" fill="#fc7219"/>
<circle cx="111.7" cy="53.5" r="1.65" fill="#f7d028"/>
<circle cx="133.6" cy="77.3" r="1.79" fill="#fe9e1f"/>
<circle cx="108.0" cy="48.2" r="1.80" fill="#fdb523"/>
<circle cx="117.9" cy="34.6" r="1.94" fill="#f6da2a"/>
<circle cx="146.8" cy="87.9" r="1.76" fill="#fbbb24"/>
<circle cx="119.5" cy="42.9" r="1.76" fill="#f1f32f"/>
<circle cx="157.2" cy="97.0" r="1.95" fill="#fc7319"/>
<circle cx="149.7" cy="94.8" r="1.89" fill="#f5dc2a"/>
<circle cx="126.1" cy="65.1" r="1.79" fill="#f3ea2d"/>
<circle cx="116.1" cy="66.6" r="1.86" fill="#fd881c"/>
<circle cx="113.5" cy="41.9" r="1.55" fill="#41e8fd"/>
<circle cx="164.8" cy="98.5" r="1.56" fill="#fe9b1e"/>
<circle cx="112.3" cy="27.1" r="1.56" fill="#f94513"/>
<circle cx="133.9" cy="75.4" r="1.69" fill="#fe931d"/>
<circle cx="126.4" cy="71.7" r="1.74" fill="#f6d729"/>
<circle cx="133.5" cy="90.1" r="1.90" fill="#fdb022"/>
<circle cx="115.4" cy="24.6" r="1.94" fill="#f0f630"/>
<circle cx="112.5" cy="58.7" r="1.59" fill="#f1f32f"/>
<circle cx="119.0" cy="32.8" r="1.59" fill="#d8f84c"/>
<circle cx="123.1" cy="82.8" r="1.60" fill="#cb1003"/>
<circle cx="106.3" cy="52.1" r="1.94" fill="#f2ec2e"/>
<circle cx="150.0" cy="91.1" r="1.49" fill="#f8cc27"/>
<circle cx="116.2" cy="57.4" r="1.93" fill="#f3e62c"/>
<circle cx="128.5" cy="65.0" r="1.82" fill="#f0f630"/>
<circle cx="126.0" cy="70.1" r="1.53" fill="#ffa520"/>
<circle cx="128.6" cy="75.5" r="1.58" fill="#b50600"/>
<circle cx="122.4" cy="50.0" r="1.52" fill="#9cf892"/>
<circle cx="110.8" cy="34.5" r="1.49" fill="#f9c726"/>
<circle cx="107.9" cy="41.8" r="1.51" fill="#e0f842"/>
<circle cx="109.9" cy="74.2" r="1.71" fill="#f2f02e"/>
<circle cx="106.1" cy="39.0" r="1.72" fill="#f7d228"/>
<circle cx="112.6" cy="56.1" r="1.86" fill="#cb1003"/>
<circle cx="112.3" cy="75.5" r="1.84" fill="#fe9a1e"/>
<circle cx="112.5" cy="63.0" r="1.82" fill="#feab21"/>
<circle cx="108.2" cy="30.8" r="1.92" fill="#c60c02"/>
<circle cx="135.2" cy="81.5" r="1.48" fill="#feae21"/>
<circle cx="104.9" cy="41.8" r="1.93" fill="#f9c927"/>
<circle cx="102.9" cy="48.0" r="1.52" fill="#ffa720"/>
<circle cx="109.8" cy="62.4" r="1.85" fill="#fcb823"/>
<circle cx="118.9" cy="73.7" r="1.73" fill="#fe9d1f"/>
<circle cx="118.9" cy="50.4" r="1.55" fill="#6cf1ca"/>
<circle cx="126.5" cy="82.8" r="1.74" fill="#d91a07"/>
<circle cx="126.2" cy="56.9" r="1.49" fill="#d7f84d"/>
<circle cx="113.6" cy="29.0" r="1.61" fill="#f12b0e"/>
<circle cx="138.7" cy="89.7" r="1.53" fill="#feae21"/>
<circle cx="160.3" cy="93.7" r="1.48" fill="#aff87c"/>
<circle cx="112.3" cy="28.8" r="1.77" fill="#f94012"/>
<circle cx="143.9" cy="87.5" r="1.91" fill="#af0500"/>
<circle cx="115.3" cy="48.3" r="1.63" fill="#eef833"/>
<circle cx="103.3" cy="47.2" r="1.88" fill="#fb6b18"/>
<circle cx="158.6" cy="91.2" r="1.91" fill="#dbf848"/>
<circle cx="123.1" cy="51.8" r="1.93" fill="#9af894"/>
<circle cx="118.9" cy="30.5" r="1.49" fill="#f2ef2e"/>
<circle cx="149.6" cy="83.0" r="1.73" fill="#fc791a"/>
<circle cx="126.8" cy="77.7" r="1.63" fill="#c00800"/>
<circle cx="128.2" cy="71.5" r="1.45" fill="#fe991e"/>
<circle cx="127.7" cy="66.9" r="1.58" fill="#d0f855"/>
<circle cx="131.8" cy="71.4" r="1.71" fill="#a60400"/>
<circle cx="124.3" cy="82.9" r="1.81" fill="#e2200a"/>
<circle cx="122.4" cy="73.4" r="1.50" fill="#f8cf28"/>
<circle cx="152.9" cy="96.8" r="1.72" fill="#fead21"/>
<circle cx="114.0" cy="39.2" r="1.49" fill="#8ff8a1"/>
<circle cx="114.2" cy="71.4" r="1.72" fill="#fe911d"/>
<circle cx="110.0" cy="42.9" r="1.78" fill="#b2f878"/>
<circle cx="151.2" cy="84.2" r="1.62" fill="#c60d02"/>
<circle cx="110.8" cy="52.3" r="1.55" fill="#f6d82a"/>
<circle cx="124.5" cy="62.8" r="1.55" fill="#fead21"/>
<circle cx="126.4" cy="75.6" r="1.54" fill="#f6d629"/>
<circle cx="115.2" cy="54.1" r="1.67" fill="#f4e52c"/>
<circle cx="121.3" cy="64.2" r="1.86" fill="#f2ee2e"/>
<circle cx="119.0" cy="78.8" r="1.58" fill="#fe961e"/>
<circle cx="110.6" cy="41.2" r="1.65" fill="#7ff5b4"/>
<circle cx="137.7" cy="89.3" r="1.68" fill="#f9c726"/>
<circle cx="113.7" cy="53.9" r="1.57" fill="#f3e82d"/>
<circle cx="149.9" cy="86.4" r="1.55" fill="#e2200a"/>
<circle cx="120.9" cy="68.2" r="1.74" fill="#ffa620"/>
<circle cx="117.6" cy="79.1" r="1.58" fill="#ffa41f"/>
<circle cx="160.8" cy="92.0" r="1.54" fill="#f5de2b"/>
<circle cx="110.6" cy="57.9" r="1.90" fill="#feae21"/>
<circle cx="128.7" cy="88.3" r="1.51" fill="#fe8f1d"/>
<circle cx="151.3" cy="91.1" r="1.70" fill="#fe9b1e"/>
<circle cx="160.7" cy="99.5" r="1.87" fill="#d41606"/>
<circle cx="108.2" cy="52.0" r="1.45" fill="#ffa620"/>
<circle cx="112.3" cy="68.2" r="1.46" fill="#c40b01"/>
<circle cx="136.8" cy="82.9" r="1.45" fill="#f62f10"/>
<circle cx="167.6" cy="101.2" r="1.62" fill="#f1f32f"/>
<circle cx="124.4" cy="79.6" r="1.55" fill="#fe901d"/>
<circle cx="116.2" cy="36.4" r="1.61" fill="#f6d92a"/>
<circle cx="125.0" cy="61.3" r="1.50" fill="#fc7619"/>
<circle cx="111.7" cy="24.8" r="1.67" fill="#eaf836"/>
<circle cx="117.9" cy="30.0" r="1.95" fill="#f8cc27"/>
<circle cx="155.3" cy="90.4" r="1.81" fill="#ffa11f"/>
<circle cx="149.9" cy="88.6" r="1.94" fill="#fd7e1a"/>
<circle cx="114.1" cy="34.4" r="1.94" fill="#f1f12f"/>
<circle cx="122.7" cy="76.8" r="1.47" fill="#f6d92a"/>
<circle cx="142.3" cy="78.9" r="1.72" fill="#aff87c"/>
<circle cx="114.2" cy="32.0" r="1.95" fill="#c00800"/>
<circle cx="124.2" cy="80.4" r="1.86" fill="#ffa720"/>
<circle cx="117.2" cy="75.8" r="1.76" fill="#fc7119"/>
<circle cx="104.7" cy="50.2" r="1.46" fill="#f2ee2e"/>
<circle cx="108.7" cy="40.0" r="1.85" fill="#fdb122"/>
<circle cx="126.3" cy="86.4" r="1.82" fill="#d71907"/>
<circle cx="130.2" cy="71.8" r="1.92" fill="#fe921d"/>
<circle cx="106.4" cy="45.4" r="1.60" fill="#f3e82d"/>
<circle cx="140.8" cy="80.8" r="1.69" fill="#93f89d"/>
<circle cx="113.7" cy="51.6" r="1.71" fill="#f4e12b"/>
<circle cx="110.4" cy="48.8" r="1.65" fill="#feab21"/>
<circle cx="113.9" cy="59.0" r="1.88" fill="#f5dd2b"/>
<circle cx="136.7" cy="80.7" r="1.61" fill="#fac225"/>
<circle cx="124.5" cy="84.9" r="1.47" fill="#d01405"/>
<circle cx="112.4" cy="51.7" r="1.94" fill="#f1f52f"/>
<circle cx="149.7" cy="80.7" r="1.86" fill="#f8cf28"/>
<circle cx="153.6" cy="82.9" r="1.58" fill="#bf0800"/>
<circle cx="166.1" cy="102.0" r="1.84" fill="#f2eb2d"/>
<circle cx="117.3" cy="28.1" r="1.66" fill="#f2ec2e"/>
<circle cx="150.1" cy="90.3" r="1.74" fill="#fdb222"/>
<circle cx="104.9" cy="39.8" r="1.73" fill="#f8d028"/>
<circle cx="110.3" cy="67.7" r="1.82" fill="#f94012"/>
<circle cx="131.5" cy="73.4" r="1.58" fill="#c40b01"/>
<circle cx="117.2" cy="46.6" r="1.83" fill="#f1f02e"/>
<circle cx="117.6" cy="57.6" r="1.72" fill="#f8cd27"/>
<circle cx="144.0" cy="89.8" r="1.53" fill="#fb6417"/>
<circle cx="122.9" cy="75.3" r="1.51" fill="#c6f861"/>
<circle cx="117.7" cy="62.7" r="1.90" fill="#f8cb27"/>
<circle cx="122.6" cy="84.4" r="1.85" fill="#e5230b"/>
<circle cx="124.6" cy="66.3" r="1.81" fill="#ddf846"/>
<circle cx="154.9" cy="86.2" r="1.60" fill="#fac125"/>
<circle cx="121.4" cy="72.2" r="1.86" fill="#fe941d"/>
<circle cx="109.7" cy="45.5" r="1.48" fill="#d9f84a"/>
<circle cx="153.6" cy="84.7" r="1.74" fill="#d71806"/>
<circle cx="115.9" cy="42.9" r="1.46" fill="#5ceedd"/>
<circle cx="117.9" cy="27.3" r="1.90" fill="#f0f630"/>
<circle cx="110.3" cy="50.4" r="1.61" fill="#fe961e"/>
<circle cx="136.7" cy="84.7" r="1.67" fill="#f83511"/>
<circle cx="120.5" cy="50.7" r="1.81" fill="#65efd3"/>
<circle cx="123.0" cy="54.0" r="1.81" fill="#72f2c4"/>
<circle cx="125.9" cy="55.2" r="1.77" fill="#e8f839"/>
<circle cx="117.1" cy="64.5" r="1.90" fill="#f5df2b"/>
<circle cx="163.8" cy="101.0" r="1.59" fill="#fc6e18"/>
<circle cx="124.1" cy="59.1" r="1.70" fill="#f7d128"/>
<circle cx="160.6" cy="96.8" r="1.91" fill="#fa5615"/>
<circle cx="112.4" cy="32.4" r="1.88" fill="#a20400"/>
<circle cx="113.9" cy="45.0" r="1.82" fill="#91f89f"/>
<circle cx="124.9" cy="69.8" r="1.49" fill="#f8ce28"/>
<circle cx="154.8" cy="93.0" r="1.50" fill="#fd801b"/>
<circle cx="115.8" cy="71.4" r="1.90" fill="#fbbe24"/>
<circle cx="115.8" cy="79.4" r="1.49" fill="#fcb823"/>
<circle cx="108.8" cy="37.8" r="1.72" fill="#fe971e"/>
<circle cx="117.2" cy="37.8" r="1.77" fill="#f7d529"/>
<circle cx="134.2" cy="86.4" r="1.66" fill="#f62f0f"/>
<circle cx="118.9" cy="46.2" r="1.80" fill="#ddf847"/>
<circle cx="111.8" cy="48.7" r="1.76" fill="#f1f12f"/>
<circle cx="116.2" cy="63.1" r="1.65" fill="#ecf835"/>
<circle cx="122.4" cy="64.9" r="1.91" fill="#f8ce28"/>
<circle cx="116.9" cy="36.4" r="1.85" fill="#f3e72d"/>
<circle cx="164.7" cy="93.6" r="1.61" fill="#ff9f1f"/>
<circle cx="124.6" cy="55.3" r="1.60" fill="#d0f855"/>
<circle cx="119.5" cy="55.7" r="1.83" fill="#f7d529"/>
<circle cx="108.2" cy="56.0" r="1.81" fill="#df1e09"/>
<circle cx="142.1" cy="84.0" r="1.62" fill="#f8cf28"/>
<circle cx="115.9" cy="73.5" r="1.76" fill="#f7d128"/>
<circle cx="117.4" cy="67.0" r="1.50" fill="#f3ea2d"/>
<circle cx="144.6" cy="85.8" r="1.76" fill="#fc6d18"/>
<circle cx="130.0" cy="77.2" r="1.68" fill="#f83511"/>
<circle cx="133.3" cy="84.3" r="1.89" fill="#f42d0f"/>
<circle cx="119.1" cy="66.3" r="1.58" fill="#f3e92d"/>
<circle cx="106.9" cy="46.5" r="1.56" fill="#f6d729"/>
<circle cx="119.0" cy="59.5" r="1.50" fill="#f1f32f"/>
<circle cx="117.4" cy="39.8" r="1.89" fill="#e5f83d"/>
<circle cx="142.5" cy="82.3" r="1.84" fill="#8ff8a1"/>
<circle cx="121.5" cy="70.4" r="1.88" fill="#f8cb27"/>
<circle cx="114.1" cy="24.9" r="1.58" fill="#cdf859"/>
<circle cx="137.6" cy="86.3" r="1.93" fill="#fa4c14"/>
<circle cx="146.4" cy="80.8" r="1.77" fill="#f7d128"/>
<circle cx="116.1" cy="30.5" r="1.49" fill="#fa5715"/>
<circle cx="141.1" cy="90.2" r="1.61" fill="#fc7b1a"/>
<circle cx="153.9" cy="93.8" r="1.78" fill="#fa5615"/>
<circle cx="125.9" cy="68.7" r="1.77" fill="#f6da2a"/>
<circle cx="115.0" cy="28.3" r="1.55" fill="#feae21"/>
<circle cx="122.8" cy="71.4" r="1.50" fill="#f9ca27"/>
<circle cx="124.9" cy="67.8" r="1.68" fill="#f5de2b"/>
<circle cx="124.6" cy="71.5" r="1.85" fill="#fac225"/>
<circle cx="128.7" cy="86.9" r="1.85" fill="#ea260c"/>
<circle cx="108.5" cy="34.1" r="1.59" fill="#f93c12"/>
<circle cx="116.8" cy="41.3" r="1.78" fill="#80f5b4"/>
<circle cx="109.7" cy="25.7" r="1.46" fill="#eef832"/>
<circle cx="135.1" cy="77.7" r="1.64" fill="#fc7419"/>
<circle cx="126.7" cy="73.9" r="1.59" fill="#eff831"/>
<circle cx="149.2" cy="84.7" r="1.80" fill="#f62f0f"/>
<circle cx="146.3" cy="84.9" r="1.69" fill="#f9c826"/>
<circle cx="112.3" cy="50.0" r="1.59" fill="#f1f32f"/>
<circle cx="112.0" cy="41.3" r="1.59" fill="#4beaf2"/>
<circle cx="158.8" cy="96.7" r="1.49" fill="#ce1204"/>
<circle cx="113.5" cy="73.7" r="1.50" fill="#f6d92a"/>
<circle cx="115.8" cy="38.3" r="1.84" fill="#d6f84f"/>
<circle cx="110.3" cy="71.4" r="1.79" fill="#b9f870"/>
<circle cx="108.1" cy="35.4" r="1.71" fill="#fbbd24"/>
<circle cx="131.9" cy="77.8" r="1.45" fill="#f02a0e"/>
<circle cx="126.9" cy="78.8" r="1.50" fill="#feae21"/>
<circle cx="106.1" cy="37.2" r="1.51" fill="#fac325"/>
<circle cx="153.9" cy="94.8" r="1.56" fill="#fb6918"/>
<circle cx="120.9" cy="52.6" r="1.48" fill="#99f895"/>
<circle cx="144.2" cy="85.1" r="1.95" fill="#fb6817"/>
<circle cx="139.6" cy="85.8" r="1.91" fill="#fcb923"/>
<circle cx="117.9" cy="48.7" r="1.89" fill="#8cf7a5"/>
<circle cx="113.5" cy="77.4" r="1.45" fill="#ffa520"/>
<circle cx="130.3" cy="82.5" r="1.94" fill="#fd841b"/>
<circle cx="110.4" cy="59.0" r="1.92" fill="#f3e92d"/>
<circle cx="129.5" cy="66.5" r="1.82" fill="#c7f860"/>
<circle cx="131.6" cy="78.8" r="1.92" fill="#fc6c18"/>
<circle cx="108.9" cy="70.0" r="1.83" fill="#e7f83a"/>
<circle cx="163.8" cy="96.7" r="1.85" fill="#fd8e1d"/>
<circle cx="120.5" cy="45.3" r="1.74" fill="#dcf848"/>
<circle cx="106.3" cy="50.7" r="1.92" fill="#f6d82a"/>
<circle cx="111.9" cy="37.4" r="1.67" fill="#f4e32c"/>
<circle cx="110.0" cy="53.9" r="1.89" fill="#fe9d1f"/>
<circle cx="110.6" cy="28.1" r="1.92" fill="#fb6818"/>
<circle cx="133.3" cy="82.8" r="1.83" fill="#fa5014"/>
<circle cx="130.5" cy="86.7" r="1.89" fill="#b90700"/>
<circle cx="116.0" cy="34.0" r="1.45" fill="#f7d228"/>
<circle cx="113.7" cy="64.9" r="1.88" fill="#f12b0e"/>
<circle cx="119.5" cy="68.2" r="1.45" fill="#fbbf25"/>
<circle cx="106.8" cy="34.0" r="1.56" fill="#f7d429"/>
<circle cx="119.0" cy="53.8" r="1.78" fill="#91f89e"/>
<circle cx="111.6" cy="73.3" r="1.91" fill="#e1f842"/>
<circle cx="124.6" cy="57.0" r="1.50" fill="#bff869"/>
<circle cx="111.5" cy="64.7" r="1.85" fill="#f12b0e"/>
<circle cx="149.3" cy="92.9" r="1.82" fill="#fe991e"/>
<circle cx="117.5" cy="70.2" r="1.72" fill="#fcba24"/>
<circle cx="130.6" cy="79.4" r="1.82" fill="#fe9c1e"/>
<circle cx="117.7" cy="68.2" r="1.79" fill="#f9c726"/>
<circle cx="122.3" cy="81.2" r="1.88" fill="#f93b11"/>
<circle cx="109.7" cy="39.7" r="1.46" fill="#eff831"/>
<circle cx="119.2" cy="77.5" r="1.81" fill="#fe961e"/>
<circle cx="151.4" cy="90.0" r="1.88" fill="#fbbe24"/>
<circle cx="108.2" cy="44.9" r="1.83" fill="#f7d529"/>
<circle cx="140.4" cy="79.2" r="1.78" fill="#f3e92d"/>
<circle cx="134.0" cy="88.3" r="1.76" fill="#fb6317"/>
<circle cx="154.9" cy="95.6" r="1.55" fill="#fb5b16"/>
<circle cx="157.6" cy="90.3" r="1.87" fill="#fd8c1c"/>
<circle cx="144.8" cy="91.9" r="1.80" fill="#fdb422"/>
<circle cx="114.2" cy="37.5" r="1.73" fill="#f3ea2d"/>
<circle cx="141.4" cy="85.7" r="1.66" fill="#fd7e1a"/>
<circle cx="115.8" cy="51.9" r="1.56" fill="#a2f88b"/>
<circle cx="115.8" cy="41.0" r="1.91" fill="#5beddf"/>
<circle cx="117.7" cy="61.7" r="1.46" fill="#f4e22c"/>
<circle cx="117.9" cy="32.1" r="1.81" fill="#fd8b1c"/>
<circle cx="126.4" cy="63.4" r="1.93" fill="#f8cc27"/>
<circle cx="135.4" cy="86.1" r="1.66" fill="#ed280d"/>
<circle cx="123.3" cy="57.2" r="1.48" fill="#daf84a"/>
<circle cx="119.0" cy="41.7" r="1.85" fill="#f2ee2e"/>
<circle cx="120.6" cy="79.3" r="1.46" fill="#feac21"/>
<circle cx="130.2" cy="84.2" r="1.86" fill="#f94513"/>
<circle cx="132.3" cy="89.5" r="1.46" fill="#fc7a1a"/>
<circle cx="129.5" cy="87.7" r="1.64" fill="#f83511"/>
<circle cx="136.0" cy="88.3" r="1.88" fill="#fead21"/>
<circle cx="142.8" cy="90.4" r="1.82" fill="#fb6617"/>
<circle cx="115.6" cy="55.8" r="1.63" fill="#f8ce28"/>
<circle cx="119.1" cy="61.5" r="1.48" fill="#f0f730"/>
<circle cx="111.8" cy="66.5" r="1.68" fill="#d71907"/>
<circle cx="111.7" cy="34.6" r="1.73" fill="#f2eb2d"/>
<circle cx="128.6" cy="61.1" r="1.80" fill="#f0f52f"/>
<circle cx="110.2" cy="75.6" r="1.87" fill="#fe9c1e"/>
<circle cx="127.8" cy="84.3" r="1.79" fill="#b30600"/>
<circle cx="117.1" cy="53.4" r="1.58" fill="#99f895"/>
<circle cx="137.2" cy="79.1" r="1.93" fill="#f1f42f"/>
<circle cx="166.0" cy="97.2" r="1.94" fill="#fd8c1c"/>
<circle cx="157.1" cy="92.1" r="1.80" fill="#f2f02e"/>
<circle cx="116.8" cy="72.0" r="1.70" fill="#ffa11f"/>
<circle cx="166.0" cy="101.0" r="1.93" fill="#f0f630"/>
<circle cx="122.6" cy="55.3" r="1.79" fill="#d5f850"/>
<circle cx="151.1" cy="82.5" r="1.77" fill="#c60d02"/>
<circle cx="160.2" cy="95.0" r="1.66" fill="#fc7a1a"/>
<circle cx="121.3" cy="66.2" r="1.79" fill="#f6d92a"/>
<circle cx="162.9" cy="98.5" r="1.63" fill="#fc6f18"/>
<circle cx="124.4" cy="73.5" r="1.58" fill="#d4f851"/>
<circle cx="114.2" cy="27.4" r="1.67" fill="#f94012"/>
<circle cx="115.5" cy="59.1" r="1.94" fill="#f6d92a"/>
<circle cx="113.4" cy="50.1" r="1.70" fill="#d2f853"/>
<circle cx="113.9" cy="57.8" r="1.51" fill="#f5dc2a"/>
<circle cx="129.5" cy="74.0" r="1.65" fill="#8a0000"/>
<circle cx="127.9" cy="77.8" r="1.67" fill="#df1e09"/>
<circle cx="104.5" cy="48.3" r="1.72" fill="#fe9d1f"/>
<circle cx="148.1" cy="83.2" r="1.53" fill="#fead21"/>
<circle cx="121.2" cy="81.0" r="1.71" fill="#f72f10"/>
<circle cx="110.3" cy="61.2" r="1.65" fill="#f8ce28"/>
<circle cx="108.0" cy="32.5" r="1.79" fill="#a90500"/>
<circle cx="158.3" cy="88.5" r="1.75" fill="#fd801b"/>
<circle cx="126.9" cy="61.5" r="1.57" fill="#f9c927"/>
<circle cx="126.3" cy="66.4" r="1.74" fill="#b6f874"/>
</g></g>
<path d="M188.60,26.20 C189.53,25.58 190.13,25.60 191.00,25.60 C191.87,25.60 193.07,25.83 193.80,26.20 C194.53,26.57 195.05,27.10 195.40,27.80 C195.75,28.50 195.90,29.45 195.90,30.40 C195.90,31.35 195.58,32.45 195.40,33.50 C195.22,34.55 194.63,35.65 194.80,36.70 C194.97,37.75 195.87,38.58 196.40,39.80 C196.93,41.02 197.48,42.60 198.00,44.00 C198.52,45.40 198.90,46.82 199.50,48.20 C200.10,49.58 200.77,50.83 201.60,52.30 C202.43,53.77 203.65,55.30 204.50,57.00 C205.35,58.70 206.07,60.72 206.70,62.50 C207.33,64.28 207.78,66.13 208.30,67.70 C208.82,69.27 209.28,70.50 209.80,71.90 C210.32,73.30 210.65,74.98 211.40,76.10 C212.15,77.22 212.88,77.90 214.30,78.60 C215.72,79.30 218.05,79.65 219.90,80.30 C221.75,80.95 223.57,81.77 225.40,82.50 C227.23,83.23 229.43,83.87 230.90,84.70 C232.37,85.53 233.10,86.48 234.20,87.50 C235.30,88.52 236.22,89.70 237.50,90.80 C238.78,91.90 240.60,92.82 241.90,94.10 C243.20,95.38 244.28,96.85 245.30,98.50 C246.32,100.15 247.82,102.80 248.00,104.00 C248.18,105.20 247.42,105.42 246.40,105.70 C245.38,105.98 243.38,105.80 241.90,105.70 C240.42,105.60 238.97,105.75 237.50,105.10 C236.03,104.45 234.57,102.90 233.10,101.80 C231.63,100.70 229.98,99.33 228.70,98.50 C227.42,97.67 226.68,97.35 225.40,96.80 C224.12,96.25 222.10,95.75 221.00,95.20 C219.90,94.65 219.92,93.97 218.80,93.50 C217.68,93.03 215.97,92.48 214.30,92.40 C212.63,92.32 210.45,93.08 208.80,93.00 C207.15,92.92 205.68,92.45 204.40,91.90 C203.12,91.35 201.85,90.60 201.10,89.70 C200.35,88.80 200.63,87.55 199.90,86.50 C199.17,85.45 197.75,84.27 196.70,83.40 C195.65,82.53 194.63,82.00 193.60,81.30 C192.57,80.60 191.72,80.25 190.50,79.20 C189.28,78.15 187.35,76.40 186.30,75.00 C185.25,73.60 184.47,72.37 184.20,70.80 C183.93,69.23 184.35,66.98 184.70,65.60 C185.05,64.22 186.22,63.72 186.30,62.50 C186.38,61.28 185.73,59.53 185.20,58.30 C184.67,57.07 183.45,56.15 183.10,55.10 C182.75,54.05 183.50,52.98 183.10,52.00 C182.70,51.02 181.27,50.18 180.70,49.20 C180.13,48.22 179.78,47.50 179.70,46.10 C179.62,44.70 179.77,42.20 180.20,40.80 C180.63,39.40 181.60,38.73 182.30,37.70 C183.00,36.67 184.15,35.65 184.40,34.60 C184.65,33.55 183.63,32.28 183.80,31.40 C183.97,30.52 184.60,30.17 185.40,29.30 C186.20,28.43 187.67,26.82 188.60,26.20 Z" fill="#0006b6"/>
<g>
<circle cx="189.2" cy="26.8" r="1.27" fill="#000cce"/>
<circle cx="191.1" cy="26.6" r="1.48" fill="#0005b0"/>
<circle cx="193.4" cy="27.5" r="1.39" fill="#000ccd"/>
<circle cx="194.8" cy="28.5" r="1.45" fill="#000dd1"/>
<circle cx="194.6" cy="30.6" r="1.39" fill="#0046f5"/>
<circle cx="194.4" cy="33.7" r="1.60" fill="#001ee6"/>
<circle cx="194.0" cy="35.4" r="1.30" fill="#97f898"/>
<circle cx="193.7" cy="37.0" r="1.41" fill="#f93d12"/>
<circle cx="194.7" cy="38.2" r="1.45" fill="#fd891c"/>
<circle cx="195.5" cy="40.6" r="1.15" fill="#fe901d"/>
<circle cx="196.0" cy="42.2" r="1.34" fill="#fb6517"/>
<circle cx="197.4" cy="44.8" r="1.41" fill="#fe8e1d"/>
<circle cx="197.7" cy="46.9" r="1.32" fill="#e11f09"/>
<circle cx="198.5" cy="48.6" r="1.62" fill="#d31605"/>
<circle cx="199.8" cy="50.5" r="1.42" fill="#b10600"/>
<circle cx="200.3" cy="52.6" r="1.58" fill="#a90500"/>
<circle cx="201.8" cy="54.6" r="1.51" fill="#d01305"/>
<circle cx="202.4" cy="56.2" r="1.65" fill="#950200"/>
<circle cx="203.3" cy="57.2" r="1.19" fill="#bc0700"/>
<circle cx="204.6" cy="59.2" r="1.36" fill="#bd0800"/>
<circle cx="205.1" cy="60.8" r="1.26" fill="#a80500"/>
<circle cx="206.0" cy="62.5" r="1.32" fill="#a80400"/>
<circle cx="206.1" cy="64.4" r="1.60" fill="#b50600"/>
<circle cx="206.8" cy="66.5" r="1.06" fill="#d31505"/>
<circle cx="207.4" cy="68.0" r="1.14" fill="#f12b0e"/>
<circle cx="207.6" cy="70.1" r="1.10" fill="#cd1104"/>
<circle cx="208.8" cy="72.4" r="1.57" fill="#ad0500"/>
<circle cx="209.9" cy="74.5" r="1.53" fill="#f22c0e"/>
<circle cx="210.8" cy="76.9" r="1.56" fill="#f93a11"/>
<circle cx="211.8" cy="78.0" r="1.60" fill="#da1a07"/>
<circle cx="213.9" cy="79.3" r="1.63" fill="#8a0000"/>
<circle cx="215.5" cy="79.9" r="1.26" fill="#9b0300"/>
<circle cx="217.7" cy="80.9" r="1.32" fill="#ae0500"/>
<circle cx="219.7" cy="81.4" r="1.11" fill="#990200"/>
<circle cx="221.4" cy="81.9" r="1.09" fill="#b40600"/>
<circle cx="223.5" cy="83.1" r="1.25" fill="#990200"/>
<circle cx="224.7" cy="83.7" r="1.61" fill="#ca0f03"/>
<circle cx="226.9" cy="84.3" r="1.29" fill="#f93c12"/>
<circle cx="228.5" cy="85.2" r="1.15" fill="#b30600"/>
<circle cx="230.5" cy="85.9" r="1.55" fill="#b20600"/>
<circle cx="231.6" cy="87.2" r="1.17" fill="#f9c726"/>
<circle cx="233.2" cy="88.6" r="1.21" fill="#fead21"/>
<circle cx="235.1" cy="89.9" r="1.44" fill="#daf849"/>
<circle cx="237.2" cy="91.8" r="1.07" fill="#004df8"/>
<circle cx="238.6" cy="93.0" r="1.40" fill="#e6230b"/>
<circle cx="239.3" cy="94.0" r="1.15" fill="#ce1204"/>
<circle cx="240.8" cy="95.0" r="1.52" fill="#e11f09"/>
<circle cx="241.9" cy="96.2" r="1.36" fill="#fb6417"/>
<circle cx="243.5" cy="97.5" r="1.54" fill="#004cf7"/>
<circle cx="244.0" cy="98.7" r="1.50" fill="#0002a1"/>
<circle cx="244.9" cy="100.6" r="1.08" fill="#0015e2"/>
<circle cx="246.0" cy="102.8" r="1.64" fill="#0054fa"/>
<circle cx="247.3" cy="104.0" r="1.61" fill="#0005ae"/>
<circle cx="246.2" cy="104.9" r="1.42" fill="#0011e0"/>
<circle cx="243.7" cy="105.0" r="1.51" fill="#d6f84e"/>
<circle cx="242.3" cy="104.3" r="1.13" fill="#2cbdff"/>
<circle cx="240.2" cy="104.4" r="1.21" fill="#c1f866"/>
<circle cx="237.6" cy="104.1" r="1.29" fill="#d01304"/>
<circle cx="236.8" cy="103.4" r="1.13" fill="#e4210a"/>
<circle cx="235.4" cy="101.8" r="1.54" fill="#d11405"/>
<circle cx="233.5" cy="101.2" r="1.20" fill="#c5f863"/>
<circle cx="231.9" cy="99.7" r="1.24" fill="#8af7a7"/>
<circle cx="231.0" cy="98.6" r="1.23" fill="#76f3be"/>
<circle cx="229.3" cy="97.6" r="1.25" fill="#0021e7"/>
<circle cx="227.2" cy="96.7" r="1.40" fill="#47e9f6"/>
<circle cx="225.8" cy="95.9" r="1.22" fill="#005bfd"/>
<circle cx="223.6" cy="94.9" r="1.48" fill="#000dd3"/>
<circle cx="221.4" cy="94.1" r="1.37" fill="#0006b5"/>
<circle cx="219.3" cy="92.8" r="1.61" fill="#00009a"/>
<circle cx="217.4" cy="91.9" r="1.22" fill="#00009a"/>
<circle cx="216.3" cy="91.9" r="1.41" fill="#0003a9"/>
<circle cx="214.7" cy="91.5" r="1.32" fill="#0030ec"/>
<circle cx="212.4" cy="91.3" r="1.50" fill="#001ae4"/>
<circle cx="210.5" cy="91.8" r="1.22" fill="#0003a5"/>
<circle cx="208.7" cy="91.9" r="1.40" fill="#000ccd"/>
<circle cx="206.9" cy="91.5" r="1.59" fill="#0007ba"/>
<circle cx="204.7" cy="90.7" r="1.63" fill="#0020e6"/>
<circle cx="203.8" cy="90.2" r="1.24" fill="#000bcb"/>
<circle cx="201.9" cy="88.9" r="1.61" fill="#0004ac"/>
<circle cx="201.8" cy="87.3" r="1.43" fill="#0770ff"/>
<circle cx="201.1" cy="85.5" r="1.53" fill="#0974ff"/>
<circle cx="199.4" cy="84.6" r="1.49" fill="#000fda"/>
<circle cx="197.0" cy="82.9" r="1.17" fill="#00009c"/>
<circle cx="195.9" cy="81.7" r="1.12" fill="#00009a"/>
<circle cx="194.3" cy="80.1" r="1.35" fill="#0006b3"/>
<circle cx="192.8" cy="79.2" r="1.57" fill="#000ccf"/>
<circle cx="191.3" cy="78.8" r="1.46" fill="#00009a"/>
<circle cx="189.7" cy="76.7" r="1.22" fill="#00009a"/>
<circle cx="188.7" cy="75.8" r="1.40" fill="#0004ae"/>
<circle cx="187.0" cy="74.5" r="1.58" fill="#0006b4"/>
<circle cx="186.3" cy="72.9" r="1.38" fill="#0002a2"/>
<circle cx="185.1" cy="70.7" r="1.26" fill="#0008bc"/>
<circle cx="185.4" cy="68.4" r="1.51" fill="#00009a"/>
<circle cx="185.5" cy="65.6" r="1.09" fill="#00009a"/>
<circle cx="186.4" cy="64.6" r="1.11" fill="#00009a"/>
<circle cx="187.4" cy="62.5" r="1.38" fill="#0038ef"/>
<circle cx="187.1" cy="60.4" r="1.13" fill="#0006b6"/>
<circle cx="186.1" cy="58.0" r="1.29" fill="#0004aa"/>
<circle cx="185.3" cy="56.7" r="1.17" fill="#00009a"/>
<circle cx="184.4" cy="54.7" r="1.19" fill="#00009a"/>
<circle cx="184.0" cy="53.1" r="1.18" fill="#0004a9"/>
<circle cx="184.3" cy="51.2" r="1.37" fill="#00009a"/>
<circle cx="182.9" cy="49.8" r="1.30" fill="#0009c2"/>
<circle cx="181.9" cy="48.6" r="1.46" fill="#0007b7"/>
<circle cx="180.9" cy="46.1" r="1.52" fill="#0002a2"/>
<circle cx="181.3" cy="43.8" r="1.16" fill="#000fdd"/>
<circle cx="180.9" cy="41.3" r="1.42" fill="#00009a"/>
<circle cx="181.9" cy="39.5" r="1.34" fill="#00009a"/>
<circle cx="183.0" cy="38.5" r="1.29" fill="#00009a"/>
<circle cx="184.5" cy="36.6" r="1.23" fill="#0015e2"/>
<circle cx="185.2" cy="35.1" r="1.35" fill="#0017e3"/>
<circle cx="184.9" cy="33.1" r="1.58" fill="#00009a"/>
<circle cx="184.7" cy="31.6" r="1.54" fill="#00019c"/>
<circle cx="186.1" cy="29.8" r="1.16" fill="#00009a"/>
<circle cx="187.8" cy="28.6" r="1.43" fill="#0002a5"/>
<g clip-path="url(#clipCU)">
<circle cx="240.0" cy="96.6" r="1.55" fill="#b30600"/>
<circle cx="207.8" cy="91.1" r="1.49" fill="#000fda"/>
<circle cx="232.6" cy="95.3" r="1.79" fill="#f83210"/>
<circle cx="212.3" cy="78.7" r="1.39" fill="#b00600"/>
<circle cx="191.6" cy="40.4" r="1.44" fill="#be0800"/>
<circle cx="194.4" cy="34.9" r="1.53" fill="#0a76ff"/>
<circle cx="220.0" cy="82.1" r="1.73" fill="#c90e03"/>
<circle cx="197.3" cy="82.4" r="1.50" fill="#000bcc"/>
<circle cx="199.0" cy="64.5" r="1.83" fill="#fcb923"/>
<circle cx="196.8" cy="49.4" r="1.60" fill="#990200"/>
<circle cx="227.3" cy="96.2" r="1.51" fill="#c5f862"/>
<circle cx="218.8" cy="85.6" r="1.58" fill="#fb6417"/>
<circle cx="239.9" cy="94.6" r="1.72" fill="#c50b01"/>
<circle cx="207.3" cy="71.8" r="1.83" fill="#ca0f03"/>
<circle cx="203.9" cy="78.3" r="1.82" fill="#f7d429"/>
<circle cx="203.4" cy="65.7" r="1.55" fill="#b10600"/>
<circle cx="206.1" cy="68.3" r="1.48" fill="#d91a07"/>
<circle cx="211.3" cy="77.0" r="1.78" fill="#c50c02"/>
<circle cx="221.9" cy="86.3" r="1.57" fill="#fb6517"/>
<circle cx="180.4" cy="42.5" r="1.65" fill="#00009a"/>
<circle cx="191.2" cy="64.1" r="1.39" fill="#0009c3"/>
<circle cx="198.2" cy="51.1" r="1.43" fill="#c40b01"/>
<circle cx="202.7" cy="74.7" r="1.57" fill="#f94012"/>
<circle cx="191.8" cy="62.5" r="1.80" fill="#0008be"/>
<circle cx="236.1" cy="91.0" r="1.41" fill="#0008be"/>
<circle cx="198.1" cy="47.4" r="1.82" fill="#d51706"/>
<circle cx="191.4" cy="32.0" r="1.65" fill="#00019e"/>
<circle cx="194.6" cy="67.2" r="1.69" fill="#0006b6"/>
<circle cx="183.8" cy="54.8" r="1.66" fill="#00019d"/>
<circle cx="185.4" cy="56.5" r="1.57" fill="#00009a"/>
<circle cx="229.0" cy="87.5" r="1.77" fill="#f83511"/>
<circle cx="238.4" cy="103.4" r="1.65" fill="#fe991e"/>
<circle cx="239.8" cy="101.8" r="1.82" fill="#003bf1"/>
<circle cx="191.8" cy="44.3" r="1.57" fill="#8a0000"/>
<circle cx="243.4" cy="103.9" r="1.73" fill="#1ea0ff"/>
<circle cx="181.9" cy="41.3" r="1.66" fill="#00009a"/>
<circle cx="191.5" cy="71.9" r="1.56" fill="#0009c2"/>
<circle cx="214.3" cy="87.6" r="1.38" fill="#0265ff"/>
<circle cx="208.0" cy="74.9" r="1.73" fill="#e01f09"/>
<circle cx="191.6" cy="73.0" r="1.55" fill="#00009a"/>
<circle cx="198.6" cy="55.7" r="1.68" fill="#c60c02"/>
<circle cx="192.9" cy="29.6" r="1.50" fill="#a9f883"/>
<circle cx="186.3" cy="73.1" r="1.80" fill="#0007b6"/>
<circle cx="209.8" cy="77.3" r="1.58" fill="#f9c927"/>
<circle cx="219.8" cy="91.1" r="1.67" fill="#0007ba"/>
<circle cx="189.7" cy="58.3" r="1.64" fill="#0002a2"/>
<circle cx="191.1" cy="39.6" r="1.61" fill="#8d0000"/>
<circle cx="202.0" cy="78.4" r="1.82" fill="#25b0ff"/>
<circle cx="208.1" cy="79.8" r="1.49" fill="#39daff"/>
<circle cx="190.1" cy="41.0" r="1.37" fill="#a50400"/>
<circle cx="189.0" cy="62.8" r="1.65" fill="#000bc8"/>
<circle cx="193.6" cy="58.3" r="1.64" fill="#1d9dff"/>
<circle cx="191.6" cy="51.6" r="1.53" fill="#fb5e16"/>
<circle cx="188.9" cy="45.0" r="1.69" fill="#fa4d14"/>
<circle cx="182.0" cy="48.1" r="1.54" fill="#0008bc"/>
<circle cx="214.2" cy="86.4" r="1.69" fill="#86f6ac"/>
<circle cx="183.9" cy="43.2" r="1.43" fill="#0007b8"/>
<circle cx="197.2" cy="75.1" r="1.53" fill="#0002a1"/>
<circle cx="188.0" cy="33.9" r="1.59" fill="#4beaf3"/>
<circle cx="189.1" cy="73.6" r="1.83" fill="#0002a5"/>
<circle cx="187.6" cy="74.7" r="1.47" fill="#000bcb"/>
<circle cx="196.5" cy="73.0" r="1.76" fill="#00009a"/>
<circle cx="236.1" cy="103.5" r="1.60" fill="#fa5a16"/>
<circle cx="189.7" cy="35.8" r="1.74" fill="#d61706"/>
<circle cx="236.8" cy="95.3" r="1.55" fill="#9e0300"/>
<circle cx="189.4" cy="55.5" r="1.54" fill="#0004aa"/>
<circle cx="187.5" cy="39.4" r="1.65" fill="#cf1304"/>
<circle cx="235.1" cy="89.9" r="1.39" fill="#f5de2b"/>
<circle cx="199.9" cy="65.7" r="1.39" fill="#fd821b"/>
<circle cx="187.9" cy="37.2" r="1.52" fill="#de1d09"/>
<circle cx="232.1" cy="100.5" r="1.72" fill="#0e7dff"/>
<circle cx="191.2" cy="53.3" r="1.76" fill="#87f6aa"/>
<circle cx="198.3" cy="62.9" r="1.49" fill="#fa4e14"/>
<circle cx="189.8" cy="26.2" r="1.51" fill="#0007b9"/>
<circle cx="185.8" cy="71.7" r="1.75" fill="#00009a"/>
<circle cx="223.5" cy="89.8" r="1.44" fill="#fe971e"/>
<circle cx="208.8" cy="75.0" r="1.53" fill="#f93b11"/>
<circle cx="245.8" cy="99.9" r="1.78" fill="#0013e1"/>
<circle cx="232.5" cy="89.7" r="1.51" fill="#f1f12f"/>
<circle cx="225.9" cy="87.3" r="1.82" fill="#900100"/>
<circle cx="193.3" cy="73.0" r="1.43" fill="#0006b6"/>
<circle cx="194.5" cy="37.2" r="1.76" fill="#f5dd2b"/>
<circle cx="188.9" cy="43.1" r="1.40" fill="#d21505"/>
<circle cx="216.3" cy="90.8" r="1.43" fill="#0007b9"/>
<circle cx="187.9" cy="54.9" r="1.75" fill="#00009a"/>
<circle cx="184.0" cy="50.1" r="1.59" fill="#0002a3"/>
<circle cx="199.7" cy="75.3" r="1.47" fill="#0008bb"/>
<circle cx="185.9" cy="42.8" r="1.51" fill="#69f0ce"/>
<circle cx="191.6" cy="33.6" r="1.76" fill="#42e8fd"/>
<circle cx="229.0" cy="94.3" r="1.70" fill="#f7d529"/>
<circle cx="186.3" cy="64.8" r="1.62" fill="#0003a6"/>
<circle cx="241.5" cy="97.0" r="1.70" fill="#f94813"/>
<circle cx="200.6" cy="67.8" r="1.66" fill="#fac225"/>
<circle cx="241.6" cy="101.9" r="1.63" fill="#0002a4"/>
<circle cx="232.8" cy="91.8" r="1.60" fill="#c80e02"/>
<circle cx="195.3" cy="46.5" r="1.59" fill="#ca0f03"/>
<circle cx="237.9" cy="97.8" r="1.47" fill="#b70700"/>
<circle cx="186.3" cy="48.3" r="1.45" fill="#0005af"/>
<circle cx="194.3" cy="64.3" r="1.82" fill="#00009a"/>
<circle cx="196.8" cy="65.5" r="1.49" fill="#00009a"/>
<circle cx="225.3" cy="89.5" r="1.45" fill="#de1d09"/>
<circle cx="225.2" cy="95.0" r="1.64" fill="#002beb"/>
<circle cx="201.7" cy="57.6" r="1.77" fill="#ae0500"/>
<circle cx="247.3" cy="104.3" r="1.70" fill="#000ac5"/>
<circle cx="217.7" cy="82.7" r="1.43" fill="#8c0000"/>
<circle cx="225.1" cy="91.5" r="1.45" fill="#b5f874"/>
<circle cx="189.2" cy="71.0" r="1.80" fill="#0010df"/>
<circle cx="200.8" cy="62.3" r="1.74" fill="#a80400"/>
<circle cx="193.5" cy="77.1" r="1.74" fill="#0015e2"/>
<circle cx="190.9" cy="74.8" r="1.53" fill="#000bc9"/>
<circle cx="193.2" cy="44.4" r="1.72" fill="#8a0000"/>
<circle cx="188.2" cy="49.3" r="1.62" fill="#0050f9"/>
<circle cx="199.8" cy="69.2" r="1.68" fill="#40e8fe"/>
<circle cx="234.7" cy="99.8" r="1.60" fill="#e5230b"/>
<circle cx="187.2" cy="30.4" r="1.69" fill="#0001a0"/>
<circle cx="208.7" cy="92.5" r="1.59" fill="#0009c2"/>
<circle cx="185.6" cy="69.6" r="1.59" fill="#00009a"/>
<circle cx="220.2" cy="88.8" r="1.38" fill="#ffaa20"/>
<circle cx="191.9" cy="37.6" r="1.53" fill="#970200"/>
<circle cx="200.5" cy="83.5" r="1.47" fill="#0003a5"/>
<circle cx="232.2" cy="93.3" r="1.57" fill="#c10900"/>
<circle cx="221.9" cy="92.5" r="1.72" fill="#0009c1"/>
<circle cx="200.3" cy="85.5" r="1.58" fill="#0006b4"/>
<circle cx="204.3" cy="59.2" r="1.56" fill="#9f0300"/>
<circle cx="191.1" cy="60.1" r="1.47" fill="#000ed9"/>
<circle cx="226.9" cy="89.6" r="1.38" fill="#a60400"/>
<circle cx="208.0" cy="87.9" r="1.74" fill="#000bc9"/>
<circle cx="234.5" cy="96.8" r="1.48" fill="#f52e0f"/>
<circle cx="203.7" cy="89.2" r="1.43" fill="#0012e1"/>
<circle cx="199.9" cy="82.5" r="1.74" fill="#066eff"/>
<circle cx="194.7" cy="53.5" r="1.72" fill="#af0500"/>
<circle cx="189.0" cy="46.1" r="1.37" fill="#fe981e"/>
<circle cx="185.9" cy="33.4" r="1.42" fill="#00009a"/>
<circle cx="209.3" cy="90.8" r="1.45" fill="#0002a5"/>
<circle cx="188.1" cy="57.3" r="1.81" fill="#00019e"/>
<circle cx="209.6" cy="78.3" r="1.47" fill="#fcb723"/>
<circle cx="243.1" cy="105.6" r="1.50" fill="#f6d82a"/>
<circle cx="201.7" cy="66.5" r="1.53" fill="#c80e02"/>
<circle cx="206.1" cy="81.6" r="1.43" fill="#b9f870"/>
<circle cx="189.4" cy="70.1" r="1.70" fill="#000ac8"/>
<circle cx="232.2" cy="96.7" r="1.64" fill="#e8250b"/>
<circle cx="227.6" cy="87.9" r="1.66" fill="#cb1003"/>
<circle cx="209.1" cy="83.9" r="1.73" fill="#f5de2b"/>
<circle cx="231.1" cy="86.0" r="1.41" fill="#e3210a"/>
<circle cx="222.5" cy="94.4" r="1.49" fill="#0009c0"/>
<circle cx="194.4" cy="40.5" r="1.50" fill="#da1a07"/>
<circle cx="229.3" cy="90.9" r="1.49" fill="#f42d0f"/>
<circle cx="187.5" cy="58.6" r="1.57" fill="#000ac6"/>
<circle cx="229.6" cy="93.2" r="1.56" fill="#f93c12"/>
<circle cx="201.6" cy="61.0" r="1.71" fill="#910100"/>
<circle cx="225.8" cy="85.2" r="1.45" fill="#e5230b"/>
<circle cx="189.7" cy="64.8" r="1.38" fill="#00019d"/>
<circle cx="191.4" cy="69.9" r="1.37" fill="#000ccf"/>
<circle cx="222.3" cy="88.1" r="1.60" fill="#e9250c"/>
<circle cx="187.3" cy="27.7" r="1.49" fill="#00009a"/>
<circle cx="240.2" cy="93.3" r="1.52" fill="#feb022"/>
<circle cx="198.0" cy="80.8" r="1.63" fill="#ebf836"/>
<circle cx="194.8" cy="61.0" r="1.49" fill="#003af0"/>
<circle cx="186.5" cy="67.8" r="1.68" fill="#00009a"/>
<circle cx="216.6" cy="83.5" r="1.56" fill="#940100"/>
<circle cx="200.6" cy="51.9" r="1.75" fill="#cc1103"/>
<circle cx="196.3" cy="53.6" r="1.44" fill="#ba0700"/>
<circle cx="187.2" cy="60.8" r="1.64" fill="#0005b1"/>
<circle cx="191.1" cy="30.3" r="1.44" fill="#00019d"/>
<circle cx="208.8" cy="69.2" r="1.67" fill="#d21505"/>
<circle cx="236.1" cy="97.1" r="1.77" fill="#da1a07"/>
<circle cx="238.5" cy="96.2" r="1.52" fill="#c50c02"/>
<circle cx="203.8" cy="87.1" r="1.80" fill="#52ecea"/>
<circle cx="198.4" cy="78.2" r="1.52" fill="#0018e3"/>
<circle cx="231.0" cy="95.0" r="1.71" fill="#fd841b"/>
<circle cx="205.3" cy="83.5" r="1.63" fill="#0467ff"/>
<circle cx="220.7" cy="94.7" r="1.77" fill="#0006b5"/>
<circle cx="238.1" cy="92.5" r="1.63" fill="#fb6217"/>
<circle cx="204.3" cy="60.2" r="1.78" fill="#900100"/>
<circle cx="189.4" cy="60.2" r="1.46" fill="#00009a"/>
<circle cx="205.3" cy="69.5" r="1.44" fill="#ad0500"/>
<circle cx="204.4" cy="57.6" r="1.49" fill="#d31505"/>
<circle cx="186.0" cy="50.0" r="1.48" fill="#00009a"/>
<circle cx="195.1" cy="80.2" r="1.69" fill="#0009c3"/>
<circle cx="241.1" cy="94.5" r="1.36" fill="#fbbc24"/>
<circle cx="186.5" cy="55.5" r="1.53" fill="#00009b"/>
<circle cx="201.7" cy="67.9" r="1.54" fill="#f94813"/>
<circle cx="187.4" cy="69.8" r="1.64" fill="#00009a"/>
<circle cx="194.9" cy="49.7" r="1.72" fill="#b40600"/>
<circle cx="227.6" cy="94.6" r="1.49" fill="#ffa11f"/>
<circle cx="190.8" cy="43.1" r="1.82" fill="#b20600"/>
<circle cx="193.3" cy="51.8" r="1.65" fill="#b00600"/>
<circle cx="195.2" cy="69.3" r="1.72" fill="#000ac6"/>
<circle cx="218.1" cy="80.6" r="1.52" fill="#c50c01"/>
<circle cx="187.7" cy="46.4" r="1.50" fill="#88f6a9"/>
<circle cx="216.4" cy="79.8" r="1.49" fill="#d91a07"/>
<circle cx="188.2" cy="43.2" r="1.64" fill="#ca0f03"/>
<circle cx="214.8" cy="91.6" r="1.78" fill="#002fec"/>
<circle cx="243.0" cy="102.2" r="1.57" fill="#000ac6"/>
<circle cx="188.2" cy="62.4" r="1.50" fill="#0006b5"/>
<circle cx="206.3" cy="88.9" r="1.67" fill="#0037ef"/>
<circle cx="207.9" cy="76.4" r="1.76" fill="#fdb322"/>
<circle cx="238.0" cy="100.1" r="1.39" fill="#fc7419"/>
<circle cx="192.7" cy="38.5" r="1.68" fill="#990200"/>
<circle cx="205.3" cy="85.8" r="1.75" fill="#000fdc"/>
<circle cx="200.2" cy="64.7" r="1.70" fill="#df1e09"/>
<circle cx="182.7" cy="43.9" r="1.44" fill="#00009a"/>
<circle cx="201.6" cy="84.6" r="1.64" fill="#0872ff"/>
<circle cx="185.4" cy="38.6" r="1.47" fill="#b1f87a"/>
<circle cx="202.4" cy="63.0" r="1.80" fill="#a30400"/>
<circle cx="205.2" cy="66.1" r="1.55" fill="#d41606"/>
<circle cx="196.5" cy="77.4" r="1.71" fill="#00009a"/>
<circle cx="189.7" cy="57.3" r="1.80" fill="#0009c1"/>
<circle cx="199.0" cy="75.5" r="1.48" fill="#00009b"/>
<circle cx="195.1" cy="43.9" r="1.74" fill="#b40600"/>
<circle cx="202.4" cy="55.5" r="1.76" fill="#c20901"/>
<circle cx="189.3" cy="32.3" r="1.67" fill="#0009c0"/>
<circle cx="239.3" cy="100.7" r="1.84" fill="#1387ff"/>
<circle cx="238.1" cy="94.5" r="1.55" fill="#8a0000"/>
<circle cx="206.2" cy="62.0" r="1.48" fill="#bc0700"/>
<circle cx="192.8" cy="34.9" r="1.61" fill="#f1f52f"/>
<circle cx="194.5" cy="72.6" r="1.40" fill="#0003a9"/>
<circle cx="190.1" cy="51.7" r="1.50" fill="#65efd3"/>
<circle cx="196.1" cy="48.5" r="1.39" fill="#ba0700"/>
<circle cx="191.0" cy="67.8" r="1.44" fill="#000cd0"/>
<circle cx="184.4" cy="41.4" r="1.48" fill="#001de5"/>
<circle cx="222.3" cy="83.9" r="1.39" fill="#9e0300"/>
<circle cx="203.4" cy="55.4" r="1.62" fill="#d01405"/>
<circle cx="194.9" cy="32.1" r="1.45" fill="#00009a"/>
<circle cx="219.8" cy="92.5" r="1.36" fill="#00019f"/>
<circle cx="218.7" cy="90.6" r="1.67" fill="#001be4"/>
<circle cx="207.6" cy="89.2" r="1.55" fill="#0009c3"/>
<circle cx="245.0" cy="103.3" r="1.66" fill="#3bdeff"/>
<circle cx="206.3" cy="77.0" r="1.76" fill="#e7240b"/>
<circle cx="246.7" cy="105.1" r="1.49" fill="#0017e3"/>
<circle cx="234.6" cy="98.5" r="1.37" fill="#fb5e16"/>
<circle cx="186.5" cy="30.0" r="1.80" fill="#00009a"/>
<circle cx="204.3" cy="85.5" r="1.75" fill="#3bddff"/>
<circle cx="197.2" cy="51.3" r="1.67" fill="#a20400"/>
<circle cx="200.8" cy="73.5" r="1.70" fill="#91f89f"/>
<circle cx="191.5" cy="54.9" r="1.55" fill="#1893ff"/>
<circle cx="211.0" cy="92.6" r="1.50" fill="#0005b1"/>
<circle cx="193.6" cy="78.3" r="1.36" fill="#0005b0"/>
<circle cx="229.3" cy="84.1" r="1.77" fill="#de1d09"/>
<circle cx="229.3" cy="89.1" r="1.46" fill="#f6d629"/>
<circle cx="224.0" cy="86.1" r="1.82" fill="#a30400"/>
<circle cx="240.1" cy="104.3" r="1.66" fill="#bef86a"/>
<circle cx="184.2" cy="32.3" r="1.69" fill="#00009a"/>
<circle cx="216.5" cy="82.2" r="1.42" fill="#8a0000"/>
<circle cx="224.2" cy="93.3" r="1.76" fill="#0008be"/>
<circle cx="200.0" cy="77.0" r="1.83" fill="#0005ae"/>
<circle cx="206.2" cy="87.8" r="1.71" fill="#000ac8"/>
<circle cx="187.4" cy="40.3" r="1.41" fill="#d61806"/>
<circle cx="196.2" cy="79.9" r="1.77" fill="#0005b0"/>
<circle cx="223.6" cy="90.7" r="1.78" fill="#bbf86e"/>
<circle cx="192.5" cy="56.4" r="1.63" fill="#0059fc"/>
<circle cx="193.3" cy="33.7" r="1.47" fill="#0052f9"/>
<circle cx="198.9" cy="73.3" r="1.70" fill="#000ac5"/>
<circle cx="237.6" cy="101.7" r="1.36" fill="#f83711"/>
<circle cx="220.4" cy="85.4" r="1.61" fill="#fac426"/>
<circle cx="213.0" cy="88.9" r="1.62" fill="#0023e8"/>
<circle cx="244.8" cy="101.9" r="1.61" fill="#0162ff"/>
<circle cx="218.2" cy="88.1" r="1.36" fill="#f9c726"/>
<circle cx="187.5" cy="44.0" r="1.38" fill="#fead21"/>
<circle cx="193.6" cy="28.0" r="1.73" fill="#0027e9"/>
<circle cx="191.0" cy="25.8" r="1.72" fill="#00009a"/>
<circle cx="236.3" cy="98.3" r="1.46" fill="#db1b08"/>
<circle cx="200.7" cy="53.7" r="1.82" fill="#c50b01"/>
<circle cx="227.2" cy="92.8" r="1.43" fill="#f3ea2d"/>
<circle cx="193.3" cy="37.3" r="1.55" fill="#b20600"/>
<circle cx="180.5" cy="44.5" r="1.47" fill="#0007b6"/>
<circle cx="212.5" cy="85.4" r="1.66" fill="#c9f85d"/>
<circle cx="190.9" cy="57.1" r="1.40" fill="#0002a3"/>
<circle cx="189.0" cy="67.6" r="1.71" fill="#0005b1"/>
<circle cx="210.5" cy="86.0" r="1.63" fill="#0a75ff"/>
<circle cx="188.1" cy="51.1" r="1.64" fill="#00009a"/>
<circle cx="187.6" cy="73.3" r="1.48" fill="#00009a"/>
<circle cx="184.7" cy="44.8" r="1.79" fill="#0009c1"/>
<circle cx="216.4" cy="86.3" r="1.38" fill="#f83110"/>
<circle cx="198.7" cy="68.1" r="1.40" fill="#0052fa"/>
<circle cx="218.6" cy="89.0" r="1.47" fill="#97f898"/>
<circle cx="186.4" cy="37.2" r="1.41" fill="#f7d228"/>
<circle cx="182.9" cy="49.2" r="1.39" fill="#000bc8"/>
<circle cx="193.5" cy="60.7" r="1.44" fill="#0013e1"/>
<circle cx="193.1" cy="66.4" r="1.58" fill="#001fe6"/>
<circle cx="206.1" cy="91.4" r="1.72" fill="#000ed6"/>
<circle cx="194.8" cy="65.8" r="1.71" fill="#0003a5"/>
<circle cx="210.7" cy="87.3" r="1.49" fill="#00009a"/>
<circle cx="216.7" cy="88.0" r="1.43" fill="#86f6ac"/>
<circle cx="239.9" cy="98.2" r="1.68" fill="#f9c626"/>
<circle cx="245.6" cy="105.5" r="1.69" fill="#003ff2"/>
<circle cx="187.6" cy="71.6" r="1.74" fill="#00009a"/>
<circle cx="202.6" cy="77.4" r="1.44" fill="#e0f842"/>
<circle cx="202.6" cy="82.7" r="1.61" fill="#0003a6"/>
<circle cx="207.1" cy="82.7" r="1.38" fill="#4aeaf3"/>
<circle cx="223.7" cy="88.0" r="1.49" fill="#b90700"/>
<circle cx="229.0" cy="86.0" r="1.74" fill="#c40b01"/>
<circle cx="200.1" cy="55.5" r="1.51" fill="#b50600"/>
<circle cx="203.5" cy="70.1" r="1.58" fill="#bc0700"/>
<circle cx="201.6" cy="71.6" r="1.74" fill="#f9c626"/>
<circle cx="242.1" cy="103.7" r="1.49" fill="#003ff2"/>
<circle cx="189.9" cy="30.4" r="1.82" fill="#000dd4"/>
<circle cx="196.5" cy="59.0" r="1.57" fill="#ef2a0e"/>
<circle cx="225.2" cy="93.4" r="1.50" fill="#0042f3"/>
<circle cx="203.9" cy="62.4" r="1.37" fill="#8a0000"/>
<circle cx="182.6" cy="51.3" r="1.72" fill="#000bc9"/>
<circle cx="186.3" cy="35.7" r="1.49" fill="#7ef4b5"/>
<circle cx="230.7" cy="98.1" r="1.77" fill="#3de2ff"/>
<circle cx="180.9" cy="45.8" r="1.43" fill="#0004aa"/>
<circle cx="186.1" cy="61.0" r="1.52" fill="#0003a7"/>
<circle cx="195.0" cy="56.4" r="1.49" fill="#cf1304"/>
<circle cx="203.4" cy="64.2" r="1.50" fill="#950200"/>
<circle cx="196.6" cy="56.8" r="1.73" fill="#8a0000"/>
<circle cx="232.3" cy="98.0" r="1.75" fill="#fa5a16"/>
<circle cx="195.2" cy="33.4" r="1.52" fill="#00019c"/>
<circle cx="189.7" cy="76.3" r="1.69" fill="#00009a"/>
<circle cx="200.2" cy="71.0" r="1.74" fill="#29b6ff"/>
<circle cx="187.3" cy="53.4" r="1.41" fill="#00009a"/>
<circle cx="197.2" cy="62.4" r="1.74" fill="#bff869"/>
<circle cx="204.0" cy="82.7" r="1.62" fill="#0010df"/>
<circle cx="233.9" cy="95.0" r="1.61" fill="#d71807"/>
<circle cx="197.1" cy="67.6" r="1.72" fill="#00009a"/>
<circle cx="209.0" cy="87.3" r="1.64" fill="#00009a"/>
<circle cx="192.6" cy="70.2" r="1.60" fill="#0008bb"/>
<circle cx="189.0" cy="75.0" r="1.56" fill="#0005b1"/>
<circle cx="223.6" cy="83.4" r="1.37" fill="#a00300"/>
<circle cx="219.9" cy="80.6" r="1.40" fill="#930100"/>
<circle cx="212.6" cy="87.7" r="1.67" fill="#00009c"/>
<circle cx="194.5" cy="51.2" r="1.47" fill="#cb1003"/>
<circle cx="193.7" cy="64.3" r="1.81" fill="#000ac8"/>
<circle cx="181.9" cy="42.8" r="1.65" fill="#00019f"/>
<circle cx="192.9" cy="55.6" r="1.72" fill="#74f2c2"/>
<circle cx="225.2" cy="84.6" r="1.50" fill="#f83210"/>
<circle cx="193.0" cy="74.9" r="1.62" fill="#0006b4"/>
<circle cx="226.7" cy="83.5" r="1.64" fill="#e9250c"/>
<circle cx="198.9" cy="83.9" r="1.77" fill="#00009a"/>
<circle cx="207.0" cy="69.5" r="1.42" fill="#af0500"/>
<circle cx="210.6" cy="82.5" r="1.36" fill="#fb6617"/>
<circle cx="192.5" cy="31.5" r="1.54" fill="#000ed9"/>
<circle cx="201.9" cy="85.7" r="1.74" fill="#3bddff"/>
<circle cx="199.0" cy="59.0" r="1.66" fill="#b80700"/>
<circle cx="205.4" cy="64.4" r="1.60" fill="#9f0300"/>
<circle cx="196.6" cy="42.8" r="1.45" fill="#fac125"/>
<circle cx="190.9" cy="66.6" r="1.79" fill="#0009c3"/>
<circle cx="188.2" cy="64.0" r="1.50" fill="#000ed8"/>
<circle cx="213.3" cy="91.3" r="1.53" fill="#003bf0"/>
<circle cx="223.1" cy="94.6" r="1.36" fill="#0009c3"/>
<circle cx="200.0" cy="60.7" r="1.76" fill="#c10800"/>
<circle cx="184.6" cy="33.5" r="1.38" fill="#00009a"/>
<circle cx="214.5" cy="88.9" r="1.48" fill="#000fdd"/>
<circle cx="186.2" cy="65.7" r="1.69" fill="#00009a"/>
<circle cx="209.9" cy="82.0" r="1.40" fill="#20a3ff"/>
<circle cx="193.3" cy="50.2" r="1.53" fill="#8a0000"/>
<circle cx="184.1" cy="56.6" r="1.58" fill="#0002a5"/>
<circle cx="193.4" cy="46.3" r="1.36" fill="#a20400"/>
<circle cx="201.9" cy="69.3" r="1.70" fill="#da1b08"/>
<circle cx="207.7" cy="83.5" r="1.81" fill="#9bf894"/>
<circle cx="199.9" cy="57.2" r="1.59" fill="#c90e03"/>
<circle cx="200.3" cy="50.2" r="1.77" fill="#fd8a1c"/>
<circle cx="194.3" cy="28.2" r="1.66" fill="#000ccf"/>
<circle cx="186.3" cy="41.1" r="1.39" fill="#f7d128"/>
<circle cx="183.9" cy="51.5" r="1.51" fill="#0005ae"/>
<circle cx="204.0" cy="83.5" r="1.70" fill="#0030ec"/>
<circle cx="187.6" cy="48.4" r="1.64" fill="#0007ba"/>
<circle cx="198.1" cy="65.5" r="1.68" fill="#5ceede"/>
<circle cx="185.8" cy="53.7" r="1.50" fill="#00009a"/>
<circle cx="194.7" cy="61.8" r="1.42" fill="#000dd2"/>
<circle cx="189.6" cy="48.3" r="1.37" fill="#dbf849"/>
<circle cx="205.3" cy="72.8" r="1.68" fill="#a80500"/>
<circle cx="220.0" cy="83.8" r="1.77" fill="#f83310"/>
<circle cx="189.3" cy="28.4" r="1.39" fill="#000bca"/>
<circle cx="194.5" cy="76.6" r="1.68" fill="#000ac5"/>
<circle cx="203.6" cy="80.7" r="1.38" fill="#4febed"/>
<circle cx="241.2" cy="100.4" r="1.62" fill="#0006b5"/>
<circle cx="199.1" cy="82.5" r="1.51" fill="#37d4ff"/>
<circle cx="193.4" cy="48.5" r="1.80" fill="#a20400"/>
<circle cx="194.6" cy="39.5" r="1.50" fill="#cd1204"/>
<circle cx="195.3" cy="78.1" r="1.39" fill="#0006b3"/>
<circle cx="195.2" cy="42.7" r="1.63" fill="#c40b01"/>
<circle cx="216.2" cy="89.6" r="1.61" fill="#0009c3"/>
<circle cx="209.8" cy="73.6" r="1.37" fill="#d41606"/>
<circle cx="212.6" cy="84.0" r="1.45" fill="#eb270c"/>
<circle cx="183.9" cy="48.5" r="1.55" fill="#0004ad"/>
<circle cx="204.3" cy="72.9" r="1.73" fill="#b30600"/>
<circle cx="202.5" cy="89.9" r="1.66" fill="#0004ad"/>
<circle cx="209.0" cy="86.2" r="1.44" fill="#000ac7"/>
<circle cx="211.7" cy="83.8" r="1.77" fill="#e4220a"/>
<circle cx="230.9" cy="87.6" r="1.75" fill="#e4f83d"/>
<circle cx="221.8" cy="82.5" r="1.55" fill="#8a0000"/>
<circle cx="214.7" cy="80.6" r="1.48" fill="#8a0000"/>
<circle cx="241.7" cy="98.2" r="1.40" fill="#76f3bf"/>
<circle cx="191.4" cy="49.8" r="1.56" fill="#b00600"/>
<circle cx="235.9" cy="92.7" r="1.52" fill="#e9f838"/>
<circle cx="191.6" cy="28.4" r="1.53" fill="#000ac5"/>
<circle cx="191.4" cy="77.2" r="1.80" fill="#0005b1"/>
<circle cx="201.5" cy="80.3" r="1.63" fill="#002fec"/>
<circle cx="184.1" cy="37.7" r="1.58" fill="#000ccf"/>
<circle cx="194.4" cy="55.4" r="1.67" fill="#e4220a"/>
<circle cx="204.2" cy="75.1" r="1.51" fill="#c80d02"/>
<circle cx="201.6" cy="58.3" r="1.47" fill="#b00600"/>
<circle cx="202.2" cy="87.6" r="1.40" fill="#1081ff"/>
<circle cx="206.3" cy="75.0" r="1.54" fill="#c70d02"/>
<circle cx="211.4" cy="90.8" r="1.51" fill="#0002a4"/>
<circle cx="190.0" cy="53.0" r="1.64" fill="#004af7"/>
<circle cx="198.3" cy="71.5" r="1.54" fill="#0004ae"/>
<circle cx="196.9" cy="69.8" r="1.40" fill="#000ed8"/>
<circle cx="187.6" cy="65.7" r="1.51" fill="#0008bc"/>
<circle cx="190.9" cy="59.2" r="1.39" fill="#0008bb"/>
<circle cx="198.9" cy="56.8" r="1.81" fill="#ad0500"/>
<circle cx="231.4" cy="93.6" r="1.42" fill="#d41606"/>
<circle cx="216.0" cy="92.5" r="1.40" fill="#0005af"/>
<circle cx="211.2" cy="89.6" r="1.48" fill="#0004ab"/>
<circle cx="207.7" cy="86.0" r="1.63" fill="#000ed7"/>
<circle cx="200.5" cy="78.3" r="1.84" fill="#0009bf"/>
<circle cx="231.3" cy="97.0" r="1.61" fill="#fc771a"/>
<circle cx="197.0" cy="44.0" r="1.43" fill="#fa4d14"/>
<circle cx="194.6" cy="71.1" r="1.68" fill="#00009b"/>
<circle cx="212.7" cy="80.0" r="1.69" fill="#8a0000"/>
<circle cx="236.5" cy="102.0" r="1.70" fill="#bd0800"/>
<circle cx="198.9" cy="76.9" r="1.83" fill="#00009a"/>
<circle cx="196.5" cy="46.6" r="1.73" fill="#c00800"/>
<circle cx="186.3" cy="51.1" r="1.75" fill="#00009a"/>
<circle cx="193.2" cy="71.1" r="1.54" fill="#00009b"/>
<circle cx="197.9" cy="60.7" r="1.62" fill="#d91a07"/>
<circle cx="205.2" cy="71.3" r="1.59" fill="#c90f03"/>
<circle cx="191.6" cy="46.0" r="1.48" fill="#8d0000"/>
<circle cx="232.8" cy="88.2" r="1.69" fill="#f4e02b"/>
<circle cx="207.9" cy="68.3" r="1.51" fill="#cb1003"/>
<circle cx="215.0" cy="84.6" r="1.78" fill="#af0500"/>
<circle cx="205.3" cy="79.0" r="1.78" fill="#f6d729"/>
<circle cx="192.7" cy="67.5" r="1.59" fill="#0009c1"/>
<circle cx="190.0" cy="38.4" r="1.36" fill="#9d0300"/>
<circle cx="207.7" cy="78.9" r="1.60" fill="#fd831b"/>
<circle cx="207.7" cy="73.8" r="1.74" fill="#ab0500"/>
<circle cx="196.9" cy="78.5" r="1.40" fill="#00009a"/>
<circle cx="193.4" cy="42.3" r="1.37" fill="#be0800"/>
<circle cx="182.2" cy="39.5" r="1.47" fill="#0007b9"/>
<circle cx="215.1" cy="81.7" r="1.75" fill="#8c0000"/>
<circle cx="200.4" cy="80.5" r="1.82" fill="#b2f878"/>
<circle cx="234.2" cy="93.2" r="1.39" fill="#cf1204"/>
<circle cx="186.4" cy="58.2" r="1.74" fill="#0003a6"/>
<circle cx="201.8" cy="73.1" r="1.56" fill="#ffa520"/>
<circle cx="196.9" cy="55.2" r="1.36" fill="#970200"/>
<circle cx="236.6" cy="100.6" r="1.75" fill="#a70400"/>
<circle cx="195.3" cy="30.4" r="1.44" fill="#00009a"/>
<circle cx="194.4" cy="58.6" r="1.59" fill="#69f0ce"/>
<circle cx="205.6" cy="80.1" r="1.56" fill="#f3e72d"/>
<circle cx="201.8" cy="63.7" r="1.41" fill="#8a0000"/>
<circle cx="187.7" cy="67.5" r="1.79" fill="#0005b1"/>
<circle cx="199.0" cy="49.7" r="1.74" fill="#d41606"/>
<circle cx="226.7" cy="91.0" r="1.52" fill="#c90e03"/>
<circle cx="243.5" cy="96.5" r="1.66" fill="#2bbbff"/>
<circle cx="208.9" cy="71.9" r="1.65" fill="#b80700"/>
<circle cx="183.7" cy="53.5" r="1.68" fill="#0005b1"/>
<circle cx="208.7" cy="89.8" r="1.49" fill="#0005ae"/>
<circle cx="231.1" cy="89.2" r="1.37" fill="#d7f84e"/>
<circle cx="194.8" cy="47.8" r="1.43" fill="#960200"/>
<circle cx="212.8" cy="82.8" r="1.47" fill="#a90500"/>
<circle cx="192.7" cy="53.0" r="1.42" fill="#f94913"/>
<circle cx="198.3" cy="69.3" r="1.44" fill="#0006b3"/>
<circle cx="193.1" cy="62.7" r="1.36" fill="#0008bc"/>
<circle cx="182.6" cy="45.8" r="1.39" fill="#0004ae"/>
<circle cx="186.5" cy="32.1" r="1.59" fill="#00009a"/>
<circle cx="189.5" cy="49.5" r="1.65" fill="#a8f884"/>
<circle cx="187.7" cy="35.7" r="1.63" fill="#fe991e"/>
<circle cx="208.8" cy="80.6" r="1.47" fill="#000dd1"/>
<circle cx="185.9" cy="44.6" r="1.45" fill="#0265ff"/>
<circle cx="197.1" cy="60.5" r="1.82" fill="#fb5c16"/>
<circle cx="196.3" cy="63.6" r="1.68" fill="#000ed6"/>
<circle cx="244.0" cy="99.8" r="1.52" fill="#0002a3"/>
<circle cx="192.5" cy="26.5" r="1.60" fill="#0005af"/>
<circle cx="234.7" cy="91.6" r="1.51" fill="#f8ce28"/>
<circle cx="204.4" cy="76.5" r="1.65" fill="#d71806"/>
<circle cx="203.5" cy="71.6" r="1.55" fill="#e6230b"/>
<circle cx="186.0" cy="46.5" r="1.59" fill="#0012e1"/>
<circle cx="189.5" cy="66.3" r="1.58" fill="#0005b1"/>
<circle cx="219.9" cy="87.9" r="1.61" fill="#fdb122"/>
<circle cx="202.0" cy="53.1" r="1.66" fill="#fc7c1a"/>
<circle cx="198.3" cy="53.2" r="1.57" fill="#ab0500"/>
<circle cx="234.6" cy="102.0" r="1.61" fill="#f1f42f"/>
<circle cx="200.1" cy="58.5" r="1.60" fill="#c80d02"/>
<circle cx="218.7" cy="83.5" r="1.80" fill="#c00800"/>
<circle cx="189.8" cy="37.4" r="1.51" fill="#a60400"/>
<circle cx="230.3" cy="91.4" r="1.37" fill="#fe921d"/>
<circle cx="221.8" cy="91.3" r="1.59" fill="#0024e8"/>
<circle cx="243.0" cy="98.2" r="1.63" fill="#1892ff"/>
<circle cx="194.6" cy="75.3" r="1.51" fill="#000dd2"/>
<circle cx="227.7" cy="85.3" r="1.46" fill="#b30600"/>
<circle cx="191.5" cy="35.2" r="1.61" fill="#fa4b14"/>
<circle cx="191.0" cy="78.3" r="1.60" fill="#0003a5"/>
<circle cx="229.1" cy="96.0" r="1.62" fill="#b8f872"/>
<circle cx="203.7" cy="67.5" r="1.75" fill="#b60600"/>
<circle cx="188.2" cy="31.6" r="1.48" fill="#00009a"/>
<circle cx="184.5" cy="39.0" r="1.55" fill="#23aaff"/>
<circle cx="196.6" cy="71.3" r="1.67" fill="#0003a5"/>
<circle cx="211.6" cy="78.7" r="1.49" fill="#b00600"/>
<circle cx="211.6" cy="80.2" r="1.72" fill="#8a0000"/>
<circle cx="222.1" cy="89.7" r="1.67" fill="#f5dc2a"/>
<circle cx="193.5" cy="40.8" r="1.52" fill="#ce1204"/>
<circle cx="184.2" cy="45.6" r="1.73" fill="#0007ba"/>
<circle cx="191.8" cy="47.5" r="1.67" fill="#a10300"/>
<circle cx="189.2" cy="33.6" r="1.78" fill="#4ceaf1"/>
</g></g>
<path d="M266.00,24.00 C266.67,23.53 268.03,23.30 269.00,23.20 C269.97,23.10 271.03,23.10 271.80,23.40 C272.57,23.70 273.27,24.23 273.60,25.00 C273.93,25.77 273.87,26.95 273.80,28.00 C273.73,29.05 273.33,30.37 273.20,31.30 C273.07,32.23 272.85,32.63 273.00,33.60 C273.15,34.57 273.63,35.73 274.10,37.10 C274.57,38.47 275.22,40.25 275.80,41.80 C276.38,43.35 276.92,44.85 277.60,46.40 C278.28,47.95 279.12,49.42 279.90,51.10 C280.68,52.78 281.50,54.50 282.30,56.50 C283.10,58.50 283.90,61.22 284.70,63.10 C285.50,64.98 286.42,66.25 287.10,67.80 C287.78,69.35 288.03,71.23 288.80,72.40 C289.57,73.57 290.43,74.12 291.70,74.80 C292.97,75.48 295.00,75.95 296.40,76.50 C297.80,77.05 298.70,77.43 300.10,78.10 C301.50,78.77 303.25,79.72 304.80,80.50 C306.35,81.28 308.05,81.83 309.40,82.80 C310.75,83.77 311.73,85.23 312.90,86.30 C314.07,87.37 315.23,88.23 316.40,89.20 C317.57,90.17 318.93,91.03 319.90,92.10 C320.87,93.17 321.52,94.25 322.20,95.60 C322.88,96.95 324.00,99.13 324.00,100.20 C324.00,101.27 323.27,101.70 322.20,102.00 C321.13,102.30 319.15,102.38 317.60,102.00 C316.05,101.62 314.27,100.28 312.90,99.70 C311.53,99.12 310.75,99.28 309.40,98.50 C308.05,97.72 306.35,95.97 304.80,95.00 C303.25,94.03 301.65,93.38 300.10,92.70 C298.55,92.02 297.05,91.58 295.50,90.90 C293.95,90.22 292.40,88.97 290.80,88.60 C289.20,88.23 287.48,89.27 285.90,88.70 C284.32,88.13 282.65,86.17 281.30,85.20 C279.95,84.23 278.97,83.87 277.80,82.90 C276.63,81.93 275.67,80.57 274.30,79.40 C272.93,78.23 270.97,77.07 269.60,75.90 C268.23,74.73 267.07,73.37 266.10,72.40 C265.13,71.43 264.18,71.07 263.80,70.10 C263.42,69.13 263.70,68.33 263.80,66.60 C263.90,64.87 264.20,61.55 264.40,59.70 C264.60,57.85 265.13,56.35 265.00,55.50 C264.87,54.65 264.12,55.33 263.60,54.60 C263.08,53.87 262.38,52.27 261.90,51.10 C261.42,49.93 261.18,48.57 260.70,47.60 C260.22,46.63 259.38,46.18 259.00,45.30 C258.62,44.42 258.30,43.47 258.40,42.30 C258.50,41.13 259.13,39.55 259.60,38.30 C260.07,37.05 260.63,35.77 261.20,34.80 C261.77,33.83 262.60,33.47 263.00,32.50 C263.40,31.53 263.27,30.08 263.60,29.00 C263.93,27.92 264.60,26.83 265.00,26.00 C265.40,25.17 265.33,24.47 266.00,24.00 Z" fill="#f2eb2d"/>
<g>
<circle cx="266.8" cy="24.6" r="1.42" fill="#c4f864"/>
<circle cx="269.5" cy="24.5" r="1.05" fill="#a8f884"/>
<circle cx="271.5" cy="24.3" r="1.27" fill="#d0f855"/>
<circle cx="272.3" cy="25.3" r="1.53" fill="#c2f866"/>
<circle cx="272.4" cy="28.2" r="1.10" fill="#f9c726"/>
<circle cx="272.1" cy="29.3" r="1.48" fill="#c3f864"/>
<circle cx="272.1" cy="31.5" r="1.40" fill="#b8f871"/>
<circle cx="272.1" cy="33.4" r="1.28" fill="#d5f84f"/>
<circle cx="272.6" cy="35.4" r="1.26" fill="#f2f02e"/>
<circle cx="272.9" cy="37.4" r="1.59" fill="#def845"/>
<circle cx="273.3" cy="38.8" r="1.51" fill="#fbbf25"/>
<circle cx="274.3" cy="40.5" r="1.08" fill="#fac426"/>
<circle cx="275.1" cy="42.4" r="1.27" fill="#f42d0f"/>
<circle cx="275.8" cy="43.5" r="1.53" fill="#ce1204"/>
<circle cx="276.1" cy="45.2" r="1.32" fill="#f22c0e"/>
<circle cx="276.7" cy="46.6" r="1.10" fill="#d41606"/>
<circle cx="277.5" cy="48.6" r="1.24" fill="#bd0800"/>
<circle cx="278.4" cy="49.8" r="1.13" fill="#de1e09"/>
<circle cx="278.6" cy="51.4" r="1.57" fill="#b70700"/>
<circle cx="279.3" cy="53.0" r="1.57" fill="#cb1003"/>
<circle cx="280.6" cy="55.0" r="1.57" fill="#c30a01"/>
<circle cx="281.3" cy="56.7" r="1.12" fill="#b70700"/>
<circle cx="281.6" cy="59.0" r="1.37" fill="#c00800"/>
<circle cx="282.2" cy="60.0" r="1.35" fill="#d41606"/>
<circle cx="282.8" cy="61.8" r="1.33" fill="#dc1c08"/>
<circle cx="283.6" cy="63.3" r="1.08" fill="#cb1003"/>
<circle cx="284.8" cy="65.0" r="1.26" fill="#bf0800"/>
<circle cx="285.6" cy="66.7" r="1.52" fill="#fd871c"/>
<circle cx="285.9" cy="68.0" r="1.34" fill="#fbbe24"/>
<circle cx="286.7" cy="69.6" r="1.15" fill="#f3e72d"/>
<circle cx="287.7" cy="71.2" r="1.50" fill="#cef857"/>
<circle cx="288.1" cy="73.3" r="1.41" fill="#c1f867"/>
<circle cx="289.4" cy="74.0" r="1.23" fill="#fbbc24"/>
<circle cx="290.9" cy="75.6" r="1.07" fill="#fa4f14"/>
<circle cx="292.5" cy="76.1" r="1.18" fill="#e2200a"/>
<circle cx="294.4" cy="77.3" r="1.47" fill="#d01305"/>
<circle cx="296.2" cy="77.4" r="1.23" fill="#fc7519"/>
<circle cx="297.7" cy="78.3" r="1.45" fill="#d91a07"/>
<circle cx="299.3" cy="79.0" r="1.61" fill="#f02a0e"/>
<circle cx="301.1" cy="79.7" r="1.54" fill="#f7d228"/>
<circle cx="302.8" cy="81.0" r="1.25" fill="#f2f02e"/>
<circle cx="304.5" cy="81.8" r="1.49" fill="#f4e22c"/>
<circle cx="306.6" cy="82.8" r="1.56" fill="#fac526"/>
<circle cx="308.4" cy="83.4" r="1.44" fill="#ffa920"/>
<circle cx="310.7" cy="85.7" r="1.28" fill="#f7d128"/>
<circle cx="312.1" cy="87.2" r="1.33" fill="#f3e72d"/>
<circle cx="314.1" cy="88.7" r="1.39" fill="#f8d028"/>
<circle cx="315.7" cy="90.0" r="1.52" fill="#f6d82a"/>
<circle cx="317.7" cy="91.8" r="1.51" fill="#ccf85a"/>
<circle cx="319.1" cy="92.5" r="1.15" fill="#eaf837"/>
<circle cx="320.3" cy="94.4" r="1.60" fill="#c5f863"/>
<circle cx="321.3" cy="95.8" r="1.57" fill="#def845"/>
<circle cx="322.0" cy="97.8" r="1.37" fill="#44e9fb"/>
<circle cx="323.1" cy="100.0" r="1.37" fill="#84f6ae"/>
<circle cx="322.1" cy="100.7" r="1.44" fill="#5feeda"/>
<circle cx="319.5" cy="101.3" r="1.30" fill="#61efd8"/>
<circle cx="317.9" cy="101.0" r="1.29" fill="#96f89a"/>
<circle cx="316.6" cy="100.1" r="1.08" fill="#b4f876"/>
<circle cx="314.7" cy="99.6" r="1.22" fill="#e0f843"/>
<circle cx="313.2" cy="98.4" r="1.07" fill="#adf87e"/>
<circle cx="311.4" cy="98.2" r="1.06" fill="#b9f870"/>
<circle cx="310.0" cy="97.6" r="1.36" fill="#eef833"/>
<circle cx="308.5" cy="96.1" r="1.33" fill="#f02b0e"/>
<circle cx="306.9" cy="95.6" r="1.60" fill="#f12b0e"/>
<circle cx="305.3" cy="94.3" r="1.17" fill="#fa4b14"/>
<circle cx="303.9" cy="93.1" r="1.10" fill="#fd841b"/>
<circle cx="301.8" cy="92.4" r="1.24" fill="#f8cc27"/>
<circle cx="300.6" cy="91.4" r="1.22" fill="#fc7419"/>
<circle cx="298.6" cy="90.4" r="1.30" fill="#fd811b"/>
<circle cx="296.1" cy="89.6" r="1.46" fill="#f6d629"/>
<circle cx="294.4" cy="89.3" r="1.14" fill="#fac225"/>
<circle cx="292.6" cy="88.1" r="1.10" fill="#fcb723"/>
<circle cx="291.1" cy="87.3" r="1.51" fill="#f9c826"/>
<circle cx="288.4" cy="87.9" r="1.09" fill="#fbbe24"/>
<circle cx="286.5" cy="87.7" r="1.51" fill="#ffa820"/>
<circle cx="285.1" cy="86.4" r="1.44" fill="#fb5f16"/>
<circle cx="283.1" cy="85.1" r="1.28" fill="#fbbd24"/>
<circle cx="282.3" cy="84.3" r="1.30" fill="#f7d429"/>
<circle cx="279.9" cy="83.1" r="1.14" fill="#f9c626"/>
<circle cx="278.3" cy="81.9" r="1.16" fill="#d4f851"/>
<circle cx="276.4" cy="80.4" r="1.07" fill="#6cf1cb"/>
<circle cx="274.8" cy="78.8" r="1.63" fill="#c1f866"/>
<circle cx="273.4" cy="77.2" r="1.63" fill="#e3f83f"/>
<circle cx="271.7" cy="75.9" r="1.19" fill="#dcf847"/>
<circle cx="270.5" cy="75.1" r="1.12" fill="#9df891"/>
<circle cx="268.4" cy="73.0" r="1.50" fill="#e1f841"/>
<circle cx="267.2" cy="72.0" r="1.08" fill="#75f3c0"/>
<circle cx="264.5" cy="69.7" r="1.60" fill="#adf87e"/>
<circle cx="264.6" cy="68.4" r="1.22" fill="#b6f874"/>
<circle cx="265.3" cy="66.6" r="1.32" fill="#eaf837"/>
<circle cx="265.4" cy="64.6" r="1.13" fill="#f4e52c"/>
<circle cx="265.5" cy="62.4" r="1.41" fill="#f3e62c"/>
<circle cx="265.8" cy="59.9" r="1.23" fill="#fe9f1f"/>
<circle cx="265.6" cy="57.6" r="1.08" fill="#fbbd24"/>
<circle cx="266.2" cy="55.4" r="1.10" fill="#fdb222"/>
<circle cx="264.5" cy="54.3" r="1.07" fill="#fcb623"/>
<circle cx="263.5" cy="52.5" r="1.12" fill="#d8f84c"/>
<circle cx="262.7" cy="50.3" r="1.64" fill="#e0f843"/>
<circle cx="261.9" cy="48.5" r="1.33" fill="#c1f867"/>
<circle cx="262.0" cy="46.8" r="1.06" fill="#b9f870"/>
<circle cx="260.2" cy="44.6" r="1.24" fill="#b0f87a"/>
<circle cx="259.9" cy="42.2" r="1.11" fill="#96f899"/>
<circle cx="259.9" cy="40.7" r="1.28" fill="#e9f839"/>
<circle cx="260.5" cy="38.5" r="1.25" fill="#f6d92a"/>
<circle cx="261.6" cy="37.0" r="1.60" fill="#bbf86e"/>
<circle cx="262.4" cy="35.7" r="1.14" fill="#c0f868"/>
<circle cx="263.3" cy="33.8" r="1.65" fill="#def845"/>
<circle cx="264.2" cy="33.1" r="1.29" fill="#b6f873"/>
<circle cx="264.4" cy="31.0" r="1.14" fill="#97f898"/>
<circle cx="264.5" cy="29.2" r="1.17" fill="#baf86f"/>
<circle cx="265.2" cy="28.3" r="1.13" fill="#c4f864"/>
<circle cx="265.6" cy="26.5" r="1.29" fill="#f1f12f"/>
<g clip-path="url(#clipR1)">
<circle cx="273.6" cy="28.0" r="1.81" fill="#fbbe24"/>
<circle cx="297.1" cy="88.6" r="1.67" fill="#fe941d"/>
<circle cx="312.6" cy="99.3" r="1.73" fill="#93f89d"/>
<circle cx="304.6" cy="81.1" r="1.93" fill="#d2f853"/>
<circle cx="292.9" cy="77.5" r="1.79" fill="#a00300"/>
<circle cx="321.0" cy="101.0" r="1.57" fill="#52ecea"/>
<circle cx="273.2" cy="58.6" r="1.52" fill="#fdb122"/>
<circle cx="287.6" cy="73.1" r="1.71" fill="#d3f852"/>
<circle cx="309.2" cy="92.6" r="1.71" fill="#ca0f03"/>
<circle cx="267.0" cy="56.4" r="1.45" fill="#fd841b"/>
<circle cx="272.1" cy="56.4" r="1.75" fill="#f7d228"/>
<circle cx="272.3" cy="50.8" r="1.70" fill="#fa5615"/>
<circle cx="280.3" cy="74.7" r="1.57" fill="#e5f83d"/>
<circle cx="275.9" cy="51.1" r="1.82" fill="#e2200a"/>
<circle cx="280.3" cy="56.7" r="1.71" fill="#af0600"/>
<circle cx="307.8" cy="96.3" r="1.83" fill="#fa5715"/>
<circle cx="298.2" cy="78.0" r="1.47" fill="#f83811"/>
<circle cx="278.8" cy="81.8" r="1.47" fill="#a9f882"/>
<circle cx="266.5" cy="47.1" r="1.53" fill="#f5e02b"/>
<circle cx="266.7" cy="68.4" r="1.55" fill="#7bf4b9"/>
<circle cx="280.3" cy="54.9" r="1.57" fill="#bf0800"/>
<circle cx="269.9" cy="75.6" r="1.75" fill="#d6f84e"/>
<circle cx="304.8" cy="88.4" r="1.69" fill="#950200"/>
<circle cx="264.4" cy="50.9" r="1.55" fill="#f1f42f"/>
<circle cx="268.3" cy="34.7" r="1.48" fill="#d9f84b"/>
<circle cx="284.9" cy="83.5" r="1.82" fill="#ea260c"/>
<circle cx="300.1" cy="85.4" r="1.50" fill="#910100"/>
<circle cx="268.5" cy="52.9" r="1.59" fill="#fc7d1a"/>
<circle cx="265.0" cy="34.9" r="1.74" fill="#ebf836"/>
<circle cx="293.0" cy="86.6" r="1.49" fill="#fdb122"/>
<circle cx="279.3" cy="63.8" r="1.87" fill="#c00800"/>
<circle cx="291.4" cy="86.8" r="1.45" fill="#f9c826"/>
<circle cx="274.8" cy="49.3" r="1.69" fill="#b70700"/>
<circle cx="302.9" cy="92.4" r="1.47" fill="#fdb222"/>
<circle cx="278.7" cy="74.3" r="1.46" fill="#f2ef2e"/>
<circle cx="315.2" cy="91.1" r="1.46" fill="#caf85c"/>
<circle cx="315.5" cy="93.7" r="1.64" fill="#b8f871"/>
<circle cx="269.5" cy="29.1" r="1.70" fill="#d4f851"/>
<circle cx="305.7" cy="82.9" r="1.73" fill="#fbbc24"/>
<circle cx="266.8" cy="67.0" r="1.67" fill="#d6f84f"/>
<circle cx="271.7" cy="67.5" r="1.81" fill="#f4e02b"/>
<circle cx="282.2" cy="60.1" r="1.91" fill="#b90700"/>
<circle cx="314.5" cy="96.2" r="1.48" fill="#b9f870"/>
<circle cx="269.7" cy="30.8" r="1.86" fill="#b4f876"/>
<circle cx="283.1" cy="80.0" r="1.87" fill="#f2ee2e"/>
<circle cx="276.0" cy="73.8" r="1.81" fill="#f1f42f"/>
<circle cx="262.3" cy="33.6" r="1.66" fill="#dbf848"/>
<circle cx="282.3" cy="73.1" r="1.94" fill="#83f5af"/>
<circle cx="275.6" cy="76.0" r="1.69" fill="#d9f84b"/>
<circle cx="302.7" cy="81.7" r="1.69" fill="#fac426"/>
<circle cx="289.7" cy="76.1" r="1.51" fill="#f93c12"/>
<circle cx="273.6" cy="71.0" r="1.92" fill="#fcb823"/>
<circle cx="313.7" cy="96.3" r="1.82" fill="#d0f855"/>
<circle cx="269.7" cy="34.7" r="1.46" fill="#f0f830"/>
<circle cx="315.0" cy="99.1" r="1.66" fill="#d8f84c"/>
<circle cx="258.9" cy="43.7" r="1.87" fill="#a6f886"/>
<circle cx="282.4" cy="81.6" r="1.81" fill="#f5de2b"/>
<circle cx="297.4" cy="79.7" r="1.72" fill="#9f0300"/>
<circle cx="267.8" cy="27.1" r="1.63" fill="#0032ed"/>
<circle cx="267.9" cy="65.5" r="1.53" fill="#f4e32c"/>
<circle cx="284.7" cy="81.8" r="1.66" fill="#fe981e"/>
<circle cx="312.7" cy="97.5" r="1.91" fill="#aaf882"/>
<circle cx="277.3" cy="71.3" r="1.68" fill="#f7d128"/>
<circle cx="264.6" cy="41.7" r="1.79" fill="#feae21"/>
<circle cx="302.4" cy="83.8" r="1.72" fill="#a00300"/>
<circle cx="303.8" cy="91.2" r="1.81" fill="#be0800"/>
<circle cx="291.8" cy="75.0" r="1.57" fill="#fb6918"/>
<circle cx="309.7" cy="90.5" r="1.49" fill="#d11405"/>
<circle cx="280.2" cy="82.0" r="1.52" fill="#f8cb27"/>
<circle cx="285.9" cy="85.8" r="1.58" fill="#df1e09"/>
<circle cx="286.5" cy="75.0" r="1.90" fill="#a6f887"/>
<circle cx="287.9" cy="81.8" r="1.63" fill="#ee290d"/>
<circle cx="264.9" cy="30.0" r="1.84" fill="#aaf881"/>
<circle cx="273.6" cy="73.1" r="1.58" fill="#e5f83d"/>
<circle cx="268.4" cy="44.0" r="1.46" fill="#fcb923"/>
<circle cx="311.0" cy="94.0" r="1.83" fill="#f9cb27"/>
<circle cx="277.7" cy="66.8" r="1.57" fill="#f8ce28"/>
<circle cx="309.8" cy="85.6" r="1.68" fill="#f9c826"/>
<circle cx="311.4" cy="88.8" r="1.87" fill="#f6d92a"/>
<circle cx="315.1" cy="98.3" r="1.92" fill="#d2f853"/>
<circle cx="266.9" cy="54.0" r="1.49" fill="#fe9c1e"/>
<circle cx="270.6" cy="64.1" r="1.65" fill="#fe8f1d"/>
<circle cx="270.5" cy="41.5" r="1.79" fill="#fa5915"/>
<circle cx="309.4" cy="94.1" r="1.78" fill="#fc6c18"/>
<circle cx="290.1" cy="79.5" r="1.68" fill="#a30400"/>
<circle cx="272.3" cy="52.8" r="1.63" fill="#fe971e"/>
<circle cx="262.2" cy="46.0" r="1.64" fill="#f4e42c"/>
<circle cx="277.0" cy="80.2" r="1.55" fill="#73f2c3"/>
<circle cx="275.3" cy="72.3" r="1.49" fill="#f2eb2d"/>
<circle cx="264.5" cy="54.2" r="1.81" fill="#feae21"/>
<circle cx="269.5" cy="37.2" r="1.94" fill="#fcb723"/>
<circle cx="270.2" cy="43.7" r="1.72" fill="#fb6b18"/>
<circle cx="304.4" cy="86.8" r="1.50" fill="#b50600"/>
<circle cx="277.2" cy="76.6" r="1.63" fill="#f1f22f"/>
<circle cx="281.0" cy="72.8" r="1.59" fill="#c5f862"/>
<circle cx="262.5" cy="47.4" r="1.63" fill="#cbf85b"/>
<circle cx="301.0" cy="92.4" r="1.77" fill="#fdb523"/>
<circle cx="306.0" cy="81.5" r="1.74" fill="#f1f12f"/>
<circle cx="279.2" cy="50.6" r="1.70" fill="#c50c02"/>
<circle cx="266.0" cy="26.2" r="1.75" fill="#9ef890"/>
<circle cx="307.3" cy="93.8" r="1.92" fill="#c70d02"/>
<circle cx="309.6" cy="88.6" r="1.61" fill="#fd801b"/>
<circle cx="276.8" cy="61.6" r="1.92" fill="#f94813"/>
<circle cx="319.9" cy="99.2" r="1.95" fill="#46e9f8"/>
<circle cx="316.7" cy="96.0" r="1.52" fill="#7ef4b6"/>
<circle cx="316.8" cy="99.1" r="1.89" fill="#b4f877"/>
<circle cx="271.8" cy="61.7" r="1.82" fill="#fe9c1e"/>
<circle cx="307.5" cy="90.9" r="1.81" fill="#a50400"/>
<circle cx="275.8" cy="58.0" r="1.80" fill="#cf1304"/>
<circle cx="265.9" cy="53.0" r="1.47" fill="#fdb222"/>
<circle cx="294.7" cy="80.2" r="1.51" fill="#ce1204"/>
<circle cx="261.5" cy="47.0" r="1.51" fill="#e6f83b"/>
<circle cx="289.3" cy="74.4" r="1.79" fill="#fcb923"/>
<circle cx="311.0" cy="86.5" r="1.57" fill="#f6d629"/>
<circle cx="271.9" cy="64.1" r="1.80" fill="#fe9b1e"/>
<circle cx="263.1" cy="37.9" r="1.74" fill="#e6f83c"/>
<circle cx="276.0" cy="71.3" r="1.51" fill="#f6d629"/>
<circle cx="274.0" cy="65.4" r="1.69" fill="#fcb823"/>
<circle cx="284.1" cy="62.0" r="1.87" fill="#d61806"/>
<circle cx="297.1" cy="78.4" r="1.84" fill="#b80700"/>
<circle cx="284.4" cy="74.6" r="1.92" fill="#a1f88c"/>
<circle cx="263.0" cy="43.3" r="1.87" fill="#fac125"/>
<circle cx="316.3" cy="94.3" r="1.50" fill="#90f8a0"/>
<circle cx="262.3" cy="51.3" r="1.73" fill="#eff831"/>
<circle cx="274.1" cy="67.0" r="1.51" fill="#fac426"/>
<circle cx="271.7" cy="38.2" r="1.68" fill="#f7d329"/>
<circle cx="273.0" cy="49.6" r="1.86" fill="#dd1c08"/>
<circle cx="271.2" cy="25.5" r="1.91" fill="#a7f885"/>
<circle cx="272.0" cy="42.2" r="1.86" fill="#f83110"/>
<circle cx="265.8" cy="35.1" r="1.84" fill="#f1f42f"/>
<circle cx="272.3" cy="47.0" r="1.77" fill="#fa4d14"/>
<circle cx="275.0" cy="77.8" r="1.87" fill="#bff869"/>
<circle cx="289.6" cy="87.5" r="1.90" fill="#f8d028"/>
<circle cx="275.6" cy="44.1" r="1.93" fill="#e3210a"/>
<circle cx="302.7" cy="93.8" r="1.84" fill="#fdb422"/>
<circle cx="271.4" cy="74.9" r="1.51" fill="#8cf7a4"/>
<circle cx="267.9" cy="63.3" r="1.54" fill="#f9ca27"/>
<circle cx="291.0" cy="84.8" r="1.94" fill="#fa4f14"/>
<circle cx="298.6" cy="81.6" r="1.66" fill="#a10300"/>
<circle cx="267.7" cy="70.6" r="1.93" fill="#84f6ae"/>
<circle cx="268.3" cy="29.7" r="1.50" fill="#d2f853"/>
<circle cx="277.0" cy="73.1" r="1.79" fill="#f5dd2b"/>
<circle cx="307.7" cy="82.0" r="1.91" fill="#fcb823"/>
<circle cx="267.6" cy="31.2" r="1.71" fill="#d0f855"/>
<circle cx="269.9" cy="40.6" r="1.91" fill="#fd8b1c"/>
<circle cx="280.3" cy="58.7" r="1.77" fill="#b70700"/>
<circle cx="266.3" cy="30.8" r="1.66" fill="#c5f862"/>
<circle cx="315.4" cy="88.5" r="1.71" fill="#f7d228"/>
<circle cx="295.3" cy="85.1" r="1.84" fill="#fc6f18"/>
<circle cx="278.9" cy="70.8" r="1.82" fill="#fac426"/>
<circle cx="266.8" cy="43.8" r="1.47" fill="#fbbe24"/>
<circle cx="287.8" cy="76.2" r="1.64" fill="#fdb523"/>
<circle cx="309.9" cy="87.4" r="1.51" fill="#f7d028"/>
<circle cx="269.5" cy="46.0" r="1.48" fill="#f83811"/>
<circle cx="268.0" cy="26.3" r="1.92" fill="#0013e1"/>
<circle cx="268.4" cy="42.2" r="1.60" fill="#f9c626"/>
<circle cx="283.2" cy="63.2" r="1.74" fill="#a40400"/>
<circle cx="280.5" cy="83.9" r="1.89" fill="#ffa920"/>
<circle cx="312.8" cy="89.2" r="1.57" fill="#f4e22c"/>
<circle cx="311.5" cy="91.0" r="1.89" fill="#f9c826"/>
<circle cx="283.1" cy="67.1" r="1.95" fill="#be0800"/>
<circle cx="279.3" cy="72.9" r="1.58" fill="#f4e22c"/>
<circle cx="265.9" cy="42.1" r="1.86" fill="#fdb122"/>
<circle cx="260.5" cy="46.1" r="1.75" fill="#f0f630"/>
<circle cx="319.9" cy="97.4" r="1.69" fill="#49eaf4"/>
<circle cx="277.4" cy="68.4" r="1.57" fill="#f7d429"/>
<circle cx="277.0" cy="57.9" r="1.87" fill="#b40600"/>
<circle cx="281.2" cy="71.2" r="1.86" fill="#f4e52c"/>
<circle cx="294.8" cy="83.6" r="1.86" fill="#fa4d14"/>
<circle cx="286.4" cy="83.2" r="1.81" fill="#d31505"/>
<circle cx="286.5" cy="76.5" r="1.52" fill="#d3f852"/>
<circle cx="322.3" cy="96.1" r="1.85" fill="#f9c826"/>
<circle cx="298.8" cy="88.3" r="1.55" fill="#c90e03"/>
<circle cx="278.5" cy="54.5" r="1.46" fill="#d71806"/>
<circle cx="264.6" cy="46.1" r="1.76" fill="#fac225"/>
<circle cx="266.9" cy="45.0" r="1.80" fill="#f2ec2e"/>
<circle cx="284.2" cy="77.6" r="1.65" fill="#daf84a"/>
<circle cx="270.4" cy="56.1" r="1.87" fill="#f3e92d"/>
<circle cx="299.2" cy="92.2" r="1.73" fill="#fac426"/>
<circle cx="308.3" cy="82.9" r="1.77" fill="#feab21"/>
<circle cx="266.4" cy="38.4" r="1.91" fill="#f0f730"/>
<circle cx="274.1" cy="41.7" r="1.85" fill="#f83811"/>
<circle cx="266.8" cy="51.5" r="1.47" fill="#f7d329"/>
<circle cx="268.3" cy="72.2" r="1.53" fill="#9ff88f"/>
<circle cx="283.1" cy="61.8" r="1.93" fill="#ad0500"/>
<circle cx="269.5" cy="74.7" r="1.76" fill="#a4f889"/>
<circle cx="308.3" cy="89.0" r="1.75" fill="#c50c02"/>
<circle cx="266.2" cy="58.1" r="1.61" fill="#fd8a1c"/>
<circle cx="296.5" cy="87.3" r="1.58" fill="#e4220a"/>
<circle cx="286.5" cy="77.9" r="1.95" fill="#fac225"/>
<circle cx="280.3" cy="63.2" r="1.87" fill="#a10300"/>
<circle cx="305.7" cy="94.3" r="1.53" fill="#ef2a0e"/>
<circle cx="319.1" cy="96.4" r="1.45" fill="#62efd6"/>
<circle cx="270.4" cy="33.2" r="1.72" fill="#e0f842"/>
<circle cx="264.9" cy="65.7" r="1.73" fill="#f7d429"/>
<circle cx="289.4" cy="81.9" r="1.52" fill="#ac0500"/>
<circle cx="283.0" cy="82.9" r="1.74" fill="#f7d028"/>
<circle cx="301.8" cy="89.0" r="1.74" fill="#c80e02"/>
<circle cx="262.7" cy="40.0" r="1.50" fill="#f5dc2a"/>
<circle cx="273.4" cy="69.3" r="1.60" fill="#feaf21"/>
<circle cx="306.3" cy="92.5" r="1.74" fill="#df1e09"/>
<circle cx="264.1" cy="47.5" r="1.55" fill="#f4e52c"/>
<circle cx="271.4" cy="45.8" r="1.78" fill="#f94513"/>
<circle cx="280.4" cy="65.8" r="1.54" fill="#fc7619"/>
<circle cx="267.7" cy="54.8" r="1.65" fill="#ffaa20"/>
<circle cx="264.9" cy="67.4" r="1.90" fill="#def845"/>
<circle cx="268.5" cy="46.9" r="1.48" fill="#fd871c"/>
<circle cx="279.3" cy="61.9" r="1.66" fill="#b20600"/>
<circle cx="285.0" cy="84.9" r="1.78" fill="#f83310"/>
<circle cx="276.7" cy="46.9" r="1.75" fill="#e2200a"/>
<circle cx="275.6" cy="67.7" r="1.74" fill="#f1f52f"/>
<circle cx="279.4" cy="83.5" r="1.95" fill="#fdb422"/>
<circle cx="311.0" cy="98.2" r="1.79" fill="#d4f851"/>
<circle cx="283.0" cy="70.9" r="1.49" fill="#f3e92d"/>
<circle cx="268.0" cy="23.8" r="1.75" fill="#a8f884"/>
<circle cx="307.5" cy="86.6" r="1.71" fill="#ffa820"/>
<circle cx="267.9" cy="50.8" r="1.57" fill="#fe951d"/>
<circle cx="300.8" cy="83.4" r="1.47" fill="#8a0000"/>
<circle cx="285.9" cy="67.2" r="1.63" fill="#ffa920"/>
<circle cx="290.1" cy="83.4" r="1.70" fill="#ca0f03"/>
<circle cx="282.0" cy="74.6" r="1.84" fill="#97f898"/>
<circle cx="296.6" cy="90.2" r="1.90" fill="#fac225"/>
<circle cx="304.3" cy="83.8" r="1.58" fill="#fd881c"/>
<circle cx="273.7" cy="63.3" r="1.52" fill="#fead21"/>
<circle cx="268.6" cy="67.6" r="1.65" fill="#84f6ae"/>
<circle cx="307.6" cy="84.6" r="1.92" fill="#fe911d"/>
<circle cx="262.6" cy="49.2" r="1.69" fill="#b9f870"/>
<circle cx="280.4" cy="79.9" r="1.81" fill="#b1f87a"/>
<circle cx="298.9" cy="87.0" r="1.71" fill="#c10900"/>
<circle cx="277.5" cy="74.9" r="1.84" fill="#f3e92d"/>
<circle cx="278.8" cy="58.1" r="1.62" fill="#910100"/>
<circle cx="287.9" cy="78.1" r="1.64" fill="#f32d0f"/>
<circle cx="275.2" cy="68.7" r="1.73" fill="#f8cd27"/>
<circle cx="270.3" cy="50.9" r="1.63" fill="#fc6e18"/>
<circle cx="268.5" cy="74.4" r="1.86" fill="#d1f854"/>
<circle cx="264.2" cy="68.6" r="1.76" fill="#c1f867"/>
<circle cx="284.5" cy="87.0" r="1.51" fill="#fdb422"/>
<circle cx="261.6" cy="36.1" r="1.68" fill="#c6f861"/>
<circle cx="299.0" cy="79.2" r="1.45" fill="#a80400"/>
<circle cx="302.5" cy="90.8" r="1.73" fill="#dd1d08"/>
<circle cx="300.5" cy="91.0" r="1.91" fill="#fc7419"/>
<circle cx="270.2" cy="49.6" r="1.83" fill="#f94513"/>
<circle cx="282.8" cy="84.9" r="1.66" fill="#fbbd24"/>
<circle cx="278.7" cy="56.7" r="1.89" fill="#bb0700"/>
<circle cx="284.8" cy="72.8" r="1.84" fill="#a4f888"/>
<circle cx="275.7" cy="54.8" r="1.81" fill="#c70d02"/>
<circle cx="274.1" cy="45.8" r="1.58" fill="#fa4f14"/>
<circle cx="276.0" cy="45.8" r="1.51" fill="#f62f0f"/>
<circle cx="288.3" cy="84.9" r="1.69" fill="#e12009"/>
<circle cx="307.6" cy="92.3" r="1.47" fill="#a00300"/>
<circle cx="291.9" cy="76.0" r="1.77" fill="#f32c0e"/>
<circle cx="298.3" cy="85.4" r="1.48" fill="#a80500"/>
<circle cx="300.4" cy="79.4" r="1.62" fill="#fbbe24"/>
<circle cx="268.2" cy="36.2" r="1.68" fill="#f5df2b"/>
<circle cx="281.0" cy="60.5" r="1.57" fill="#9f0300"/>
<circle cx="274.0" cy="78.2" r="1.46" fill="#ddf846"/>
<circle cx="309.0" cy="96.4" r="1.51" fill="#ffa920"/>
<circle cx="295.7" cy="78.5" r="1.72" fill="#b30600"/>
<circle cx="264.2" cy="27.7" r="1.50" fill="#e9f839"/>
<circle cx="275.5" cy="61.9" r="1.71" fill="#fbbd24"/>
<circle cx="300.6" cy="88.8" r="1.72" fill="#b90700"/>
<circle cx="279.0" cy="66.8" r="1.85" fill="#fbc025"/>
<circle cx="297.6" cy="83.4" r="1.76" fill="#b20600"/>
<circle cx="294.9" cy="76.1" r="1.87" fill="#feaf21"/>
<circle cx="291.8" cy="79.8" r="1.84" fill="#950200"/>
<circle cx="266.1" cy="37.0" r="1.68" fill="#f5e02b"/>
<circle cx="297.3" cy="81.2" r="1.84" fill="#8a0000"/>
<circle cx="300.8" cy="81.5" r="1.60" fill="#f93f12"/>
<circle cx="274.1" cy="44.1" r="1.57" fill="#f83110"/>
<circle cx="265.9" cy="64.0" r="1.46" fill="#f6da2a"/>
<circle cx="261.4" cy="40.2" r="1.94" fill="#f2ec2e"/>
<circle cx="299.3" cy="83.5" r="1.59" fill="#8a0000"/>
<circle cx="279.3" cy="65.1" r="1.45" fill="#ef2a0e"/>
<circle cx="274.8" cy="79.7" r="1.78" fill="#cbf85b"/>
<circle cx="267.8" cy="56.6" r="1.61" fill="#fac225"/>
<circle cx="280.7" cy="61.6" r="1.77" fill="#9b0200"/>
<circle cx="271.4" cy="69.1" r="1.62" fill="#f5df2b"/>
<circle cx="294.7" cy="90.2" r="1.45" fill="#f3ea2d"/>
<circle cx="273.5" cy="57.0" r="1.64" fill="#fe901d"/>
<circle cx="258.6" cy="42.5" r="1.46" fill="#cef857"/>
<circle cx="274.0" cy="74.6" r="1.45" fill="#f3e92d"/>
<circle cx="260.6" cy="42.5" r="1.77" fill="#b1f87a"/>
<circle cx="271.9" cy="58.0" r="1.83" fill="#f8cf28"/>
<circle cx="262.4" cy="36.9" r="1.66" fill="#d6f84f"/>
<circle cx="265.0" cy="31.1" r="1.67" fill="#a4f889"/>
<circle cx="310.9" cy="92.3" r="1.74" fill="#feaf21"/>
<circle cx="278.4" cy="78.5" r="1.84" fill="#6cf1cb"/>
<circle cx="287.9" cy="83.9" r="1.71" fill="#eb270c"/>
<circle cx="266.6" cy="65.5" r="1.51" fill="#f5dd2b"/>
<circle cx="318.8" cy="92.4" r="1.88" fill="#c8f85e"/>
<circle cx="292.1" cy="88.5" r="1.95" fill="#fcb923"/>
<circle cx="264.7" cy="32.9" r="1.77" fill="#c4f863"/>
<circle cx="266.4" cy="49.4" r="1.57" fill="#f2ee2e"/>
<circle cx="274.0" cy="59.6" r="1.75" fill="#fbc025"/>
<circle cx="298.5" cy="91.0" r="1.73" fill="#ffa520"/>
<circle cx="306.5" cy="90.6" r="1.60" fill="#ad0500"/>
<circle cx="276.8" cy="81.9" r="1.92" fill="#d5f84f"/>
<circle cx="272.0" cy="70.7" r="1.48" fill="#f6da2a"/>
<circle cx="288.2" cy="74.9" r="1.80" fill="#f9c826"/>
<circle cx="276.9" cy="48.8" r="1.79" fill="#c20901"/>
<circle cx="278.6" cy="75.7" r="1.49" fill="#f6d92a"/>
<circle cx="265.0" cy="57.7" r="1.77" fill="#fdb222"/>
<circle cx="264.9" cy="36.8" r="1.69" fill="#c3f865"/>
<circle cx="269.5" cy="59.7" r="1.46" fill="#f9c826"/>
<circle cx="277.8" cy="51.4" r="1.69" fill="#c10800"/>
<circle cx="273.1" cy="62.2" r="1.55" fill="#feac21"/>
<circle cx="281.1" cy="67.5" r="1.50" fill="#fa5615"/>
<circle cx="267.7" cy="39.9" r="1.54" fill="#f2ec2e"/>
<circle cx="275.4" cy="53.2" r="1.59" fill="#cd1104"/>
<circle cx="284.9" cy="76.5" r="1.65" fill="#b2f879"/>
<circle cx="291.9" cy="78.5" r="1.58" fill="#b30600"/>
<circle cx="270.1" cy="25.4" r="1.70" fill="#8ff8a1"/>
<circle cx="277.5" cy="56.8" r="1.59" fill="#c90e03"/>
<circle cx="318.0" cy="94.1" r="1.47" fill="#77f3bd"/>
<circle cx="266.2" cy="24.3" r="1.76" fill="#d1f854"/>
<circle cx="270.4" cy="68.4" r="1.55" fill="#eff831"/>
<circle cx="293.8" cy="79.2" r="1.55" fill="#cd1104"/>
<circle cx="282.7" cy="78.2" r="1.66" fill="#f0f630"/>
<circle cx="267.9" cy="61.8" r="1.89" fill="#ffa620"/>
<circle cx="320.4" cy="94.5" r="1.60" fill="#e2f840"/>
<circle cx="266.9" cy="40.3" r="1.57" fill="#f7d228"/>
<circle cx="267.7" cy="69.1" r="1.69" fill="#81f5b1"/>
<circle cx="277.8" cy="60.3" r="1.64" fill="#d81907"/>
<circle cx="309.3" cy="98.4" r="1.45" fill="#f3e92d"/>
<circle cx="273.7" cy="53.3" r="1.59" fill="#fa5a16"/>
<circle cx="305.8" cy="87.6" r="1.56" fill="#940200"/>
<circle cx="268.4" cy="49.7" r="1.84" fill="#ffa820"/>
<circle cx="269.7" cy="61.3" r="1.75" fill="#fbbd24"/>
<circle cx="286.8" cy="72.9" r="1.78" fill="#a4f889"/>
<circle cx="293.0" cy="88.7" r="1.76" fill="#f9c927"/>
<circle cx="322.4" cy="101.4" r="1.66" fill="#42e8fd"/>
<circle cx="269.7" cy="52.6" r="1.69" fill="#fc791a"/>
<circle cx="266.0" cy="62.3" r="1.49" fill="#f5dd2b"/>
<circle cx="262.9" cy="42.5" r="1.67" fill="#f9c526"/>
<circle cx="261.2" cy="43.6" r="1.67" fill="#9af894"/>
<circle cx="270.1" cy="27.4" r="1.63" fill="#70f2c6"/>
<circle cx="271.6" cy="43.4" r="1.89" fill="#fc6e18"/>
<circle cx="282.5" cy="57.9" r="1.60" fill="#cc1104"/>
<circle cx="273.5" cy="47.7" r="1.66" fill="#f32d0f"/>
<circle cx="285.9" cy="86.8" r="1.57" fill="#fb6417"/>
<circle cx="320.0" cy="96.1" r="1.57" fill="#61efd8"/>
<circle cx="312.8" cy="91.1" r="1.78" fill="#f1f12f"/>
<circle cx="279.5" cy="68.6" r="1.58" fill="#f5db2a"/>
<circle cx="283.0" cy="69.1" r="1.75" fill="#fa5915"/>
<circle cx="275.3" cy="60.4" r="1.81" fill="#fc7719"/>
<circle cx="273.2" cy="38.1" r="1.49" fill="#f2ed2e"/>
<circle cx="271.3" cy="36.3" r="1.78" fill="#f9c626"/>
<circle cx="277.6" cy="78.3" r="1.55" fill="#7ff5b4"/>
<circle cx="283.9" cy="70.8" r="1.81" fill="#f4e12b"/>
<circle cx="295.4" cy="88.6" r="1.84" fill="#f93b11"/>
<circle cx="259.6" cy="40.3" r="1.45" fill="#f2eb2d"/>
<circle cx="312.7" cy="92.7" r="1.90" fill="#d4f850"/>
<circle cx="295.4" cy="81.4" r="1.87" fill="#c20a01"/>
<circle cx="267.0" cy="72.1" r="1.88" fill="#8ff8a1"/>
<circle cx="300.4" cy="86.7" r="1.75" fill="#b40600"/>
<circle cx="281.1" cy="69.4" r="1.60" fill="#f7d228"/>
<circle cx="293.3" cy="75.8" r="1.92" fill="#f94513"/>
<circle cx="272.3" cy="30.6" r="1.80" fill="#adf87f"/>
<circle cx="270.0" cy="47.1" r="1.84" fill="#f94713"/>
<circle cx="286.7" cy="79.4" r="1.57" fill="#feac21"/>
<circle cx="305.6" cy="85.0" r="1.63" fill="#f83811"/>
<circle cx="265.0" cy="38.3" r="1.91" fill="#f3e72d"/>
<circle cx="277.3" cy="53.2" r="1.75" fill="#ce1204"/>
<circle cx="273.4" cy="40.1" r="1.52" fill="#fb6417"/>
<circle cx="271.5" cy="32.5" r="1.52" fill="#d2f853"/>
<circle cx="302.3" cy="85.2" r="1.77" fill="#a30400"/>
<circle cx="262.5" cy="34.8" r="1.61" fill="#c3f864"/>
<circle cx="284.9" cy="63.9" r="1.57" fill="#c70d02"/>
<circle cx="272.0" cy="34.5" r="1.78" fill="#f4e22c"/>
<circle cx="270.1" cy="66.9" r="1.50" fill="#f5de2b"/>
<circle cx="265.0" cy="64.0" r="1.73" fill="#f0f630"/>
<circle cx="268.2" cy="32.5" r="1.74" fill="#d0f856"/>
<circle cx="280.5" cy="52.5" r="1.63" fill="#b00600"/>
<circle cx="266.6" cy="59.9" r="1.54" fill="#fdb222"/>
<circle cx="314.7" cy="92.7" r="1.88" fill="#b0f87a"/>
<circle cx="309.2" cy="83.4" r="1.89" fill="#fac025"/>
<circle cx="273.4" cy="30.0" r="1.82" fill="#caf85d"/>
<circle cx="284.7" cy="66.6" r="1.46" fill="#e12009"/>
<circle cx="297.4" cy="85.4" r="1.69" fill="#da1a07"/>
<circle cx="264.9" cy="49.4" r="1.91" fill="#e9f838"/>
<circle cx="275.6" cy="57.0" r="1.92" fill="#b90700"/>
<circle cx="276.9" cy="65.7" r="1.95" fill="#f7d228"/>
<circle cx="284.0" cy="65.1" r="1.52" fill="#de1e09"/>
<circle cx="302.0" cy="86.5" r="1.64" fill="#9f0300"/>
<circle cx="270.1" cy="72.9" r="1.90" fill="#aff87c"/>
<circle cx="270.2" cy="57.9" r="1.94" fill="#ecf835"/>
<circle cx="295.3" cy="86.5" r="1.49" fill="#dd1d08"/>
<circle cx="286.5" cy="70.8" r="1.82" fill="#e3f840"/>
<circle cx="290.3" cy="77.6" r="1.71" fill="#c00800"/>
<circle cx="268.5" cy="57.7" r="1.59" fill="#f7d028"/>
<circle cx="276.7" cy="63.4" r="1.92" fill="#fb5d16"/>
<circle cx="308.3" cy="97.3" r="1.72" fill="#feac21"/>
<circle cx="278.8" cy="80.4" r="1.49" fill="#6ef1c8"/>
<circle cx="287.7" cy="86.5" r="1.86" fill="#f12b0e"/>
<circle cx="312.8" cy="86.4" r="1.60" fill="#fdb322"/>
<circle cx="259.7" cy="38.8" r="1.70" fill="#e9f838"/>
<circle cx="272.3" cy="27.6" r="1.85" fill="#f3eb2d"/>
<circle cx="277.1" cy="46.2" r="1.94" fill="#f94212"/>
<circle cx="322.6" cy="99.3" r="1.72" fill="#55ece6"/>
<circle cx="305.7" cy="88.9" r="1.69" fill="#ac0500"/>
<circle cx="273.5" cy="75.7" r="1.45" fill="#f1f02e"/>
<circle cx="322.6" cy="97.6" r="1.87" fill="#8cf7a5"/>
<circle cx="290.3" cy="84.7" r="1.58" fill="#f94713"/>
<circle cx="264.5" cy="44.0" r="1.65" fill="#ffa620"/>
<circle cx="291.2" cy="83.9" r="1.83" fill="#d01405"/>
<circle cx="312.9" cy="94.0" r="1.73" fill="#b6f873"/>
<circle cx="269.6" cy="54.9" r="1.73" fill="#f7d128"/>
<circle cx="265.1" cy="56.8" r="1.51" fill="#fcb823"/>
<circle cx="271.9" cy="72.8" r="1.55" fill="#a4f889"/>
<circle cx="266.1" cy="71.3" r="1.50" fill="#75f3bf"/>
<circle cx="279.6" cy="59.8" r="1.70" fill="#8c0000"/>
<circle cx="266.3" cy="29.3" r="1.75" fill="#d1f855"/>
<circle cx="271.5" cy="49.6" r="1.91" fill="#fa5315"/>
<circle cx="269.9" cy="65.4" r="1.71" fill="#fac426"/>
<circle cx="271.2" cy="54.4" r="1.90" fill="#f7d228"/>
<circle cx="292.1" cy="81.6" r="1.83" fill="#970200"/>
<circle cx="318.3" cy="99.3" r="1.53" fill="#76f3bf"/>
<circle cx="265.0" cy="61.9" r="1.55" fill="#f6d729"/>
<circle cx="286.8" cy="81.4" r="1.58" fill="#fd7f1b"/>
<circle cx="272.4" cy="65.5" r="1.51" fill="#feab21"/>
<circle cx="275.4" cy="63.8" r="1.55" fill="#f9c826"/>
<circle cx="316.2" cy="97.5" r="1.48" fill="#7af4ba"/>
<circle cx="265.8" cy="28.0" r="1.68" fill="#f1f12f"/>
<circle cx="264.5" cy="70.5" r="1.49" fill="#a8f884"/>
<circle cx="273.5" cy="54.8" r="1.60" fill="#fa5615"/>
<circle cx="275.2" cy="47.8" r="1.75" fill="#db1b08"/>
<circle cx="264.3" cy="39.8" r="1.86" fill="#f1f42f"/>
<circle cx="273.4" cy="37.1" r="1.72" fill="#ccf85a"/>
<circle cx="271.3" cy="23.7" r="1.85" fill="#b0f87b"/>
<circle cx="280.6" cy="76.2" r="1.67" fill="#f3e72d"/>
<circle cx="319.0" cy="97.5" r="1.82" fill="#41e8fe"/>
<circle cx="273.1" cy="50.7" r="1.53" fill="#eb270c"/>
<circle cx="267.8" cy="38.5" r="1.79" fill="#f6d729"/>
<circle cx="273.2" cy="35.3" r="1.95" fill="#e6f83c"/>
<circle cx="267.7" cy="45.3" r="1.65" fill="#fbbf25"/>
<circle cx="293.3" cy="85.4" r="1.94" fill="#fdb422"/>
<circle cx="279.1" cy="52.4" r="1.69" fill="#c70d02"/>
<circle cx="276.8" cy="55.0" r="1.63" fill="#df1e09"/>
<circle cx="264.1" cy="53.4" r="1.92" fill="#f5dd2b"/>
<circle cx="268.3" cy="60.5" r="1.90" fill="#f7d128"/>
<circle cx="269.6" cy="24.2" r="1.57" fill="#94f89b"/>
<circle cx="285.8" cy="69.3" r="1.71" fill="#d2f853"/>
<circle cx="288.1" cy="71.2" r="1.79" fill="#f3eb2d"/>
<circle cx="285.9" cy="88.6" r="1.74" fill="#fcb623"/>
<circle cx="283.8" cy="79.7" r="1.50" fill="#f6d629"/>
<circle cx="283.1" cy="65.3" r="1.52" fill="#b60700"/>
<circle cx="270.5" cy="71.3" r="1.64" fill="#ddf847"/>
<circle cx="283.9" cy="68.9" r="1.68" fill="#ffa21f"/>
<circle cx="304.3" cy="85.2" r="1.75" fill="#bf0800"/>
<circle cx="303.8" cy="92.9" r="1.90" fill="#feab21"/>
<circle cx="272.2" cy="40.5" r="1.66" fill="#e4210a"/>
<circle cx="302.0" cy="79.8" r="1.59" fill="#ebf836"/>
<circle cx="272.2" cy="60.2" r="1.48" fill="#f8ce28"/>
<circle cx="275.3" cy="65.8" r="1.65" fill="#f5de2b"/>
<circle cx="270.4" cy="38.3" r="1.48" fill="#fe9b1e"/>
<circle cx="293.8" cy="83.9" r="1.94" fill="#e6230b"/>
<circle cx="271.4" cy="29.2" r="1.61" fill="#c5f862"/>
<circle cx="318.8" cy="102.0" r="1.87" fill="#c6f860"/>
<circle cx="304.3" cy="93.9" r="1.68" fill="#fc7018"/>
<circle cx="316.5" cy="90.1" r="1.52" fill="#e2f840"/>
<circle cx="317.1" cy="92.4" r="1.49" fill="#99f895"/>
<circle cx="282.6" cy="76.1" r="1.80" fill="#bbf86e"/>
<circle cx="293.0" cy="81.5" r="1.88" fill="#af0600"/>
<circle cx="287.7" cy="80.2" r="1.88" fill="#fb5f16"/>
<circle cx="280.7" cy="78.5" r="1.72" fill="#cbf85b"/>
<circle cx="311.1" cy="95.6" r="1.75" fill="#f1f12f"/>
<circle cx="261.4" cy="37.9" r="1.88" fill="#e5f83d"/>
<circle cx="266.9" cy="33.0" r="1.80" fill="#dbf848"/>
<circle cx="271.6" cy="76.8" r="1.83" fill="#e8f83a"/>
</g></g>
<circle cx="267.7" cy="26.7" r="1.9" fill="#1030e0"/>
</svg>
</body></html>
